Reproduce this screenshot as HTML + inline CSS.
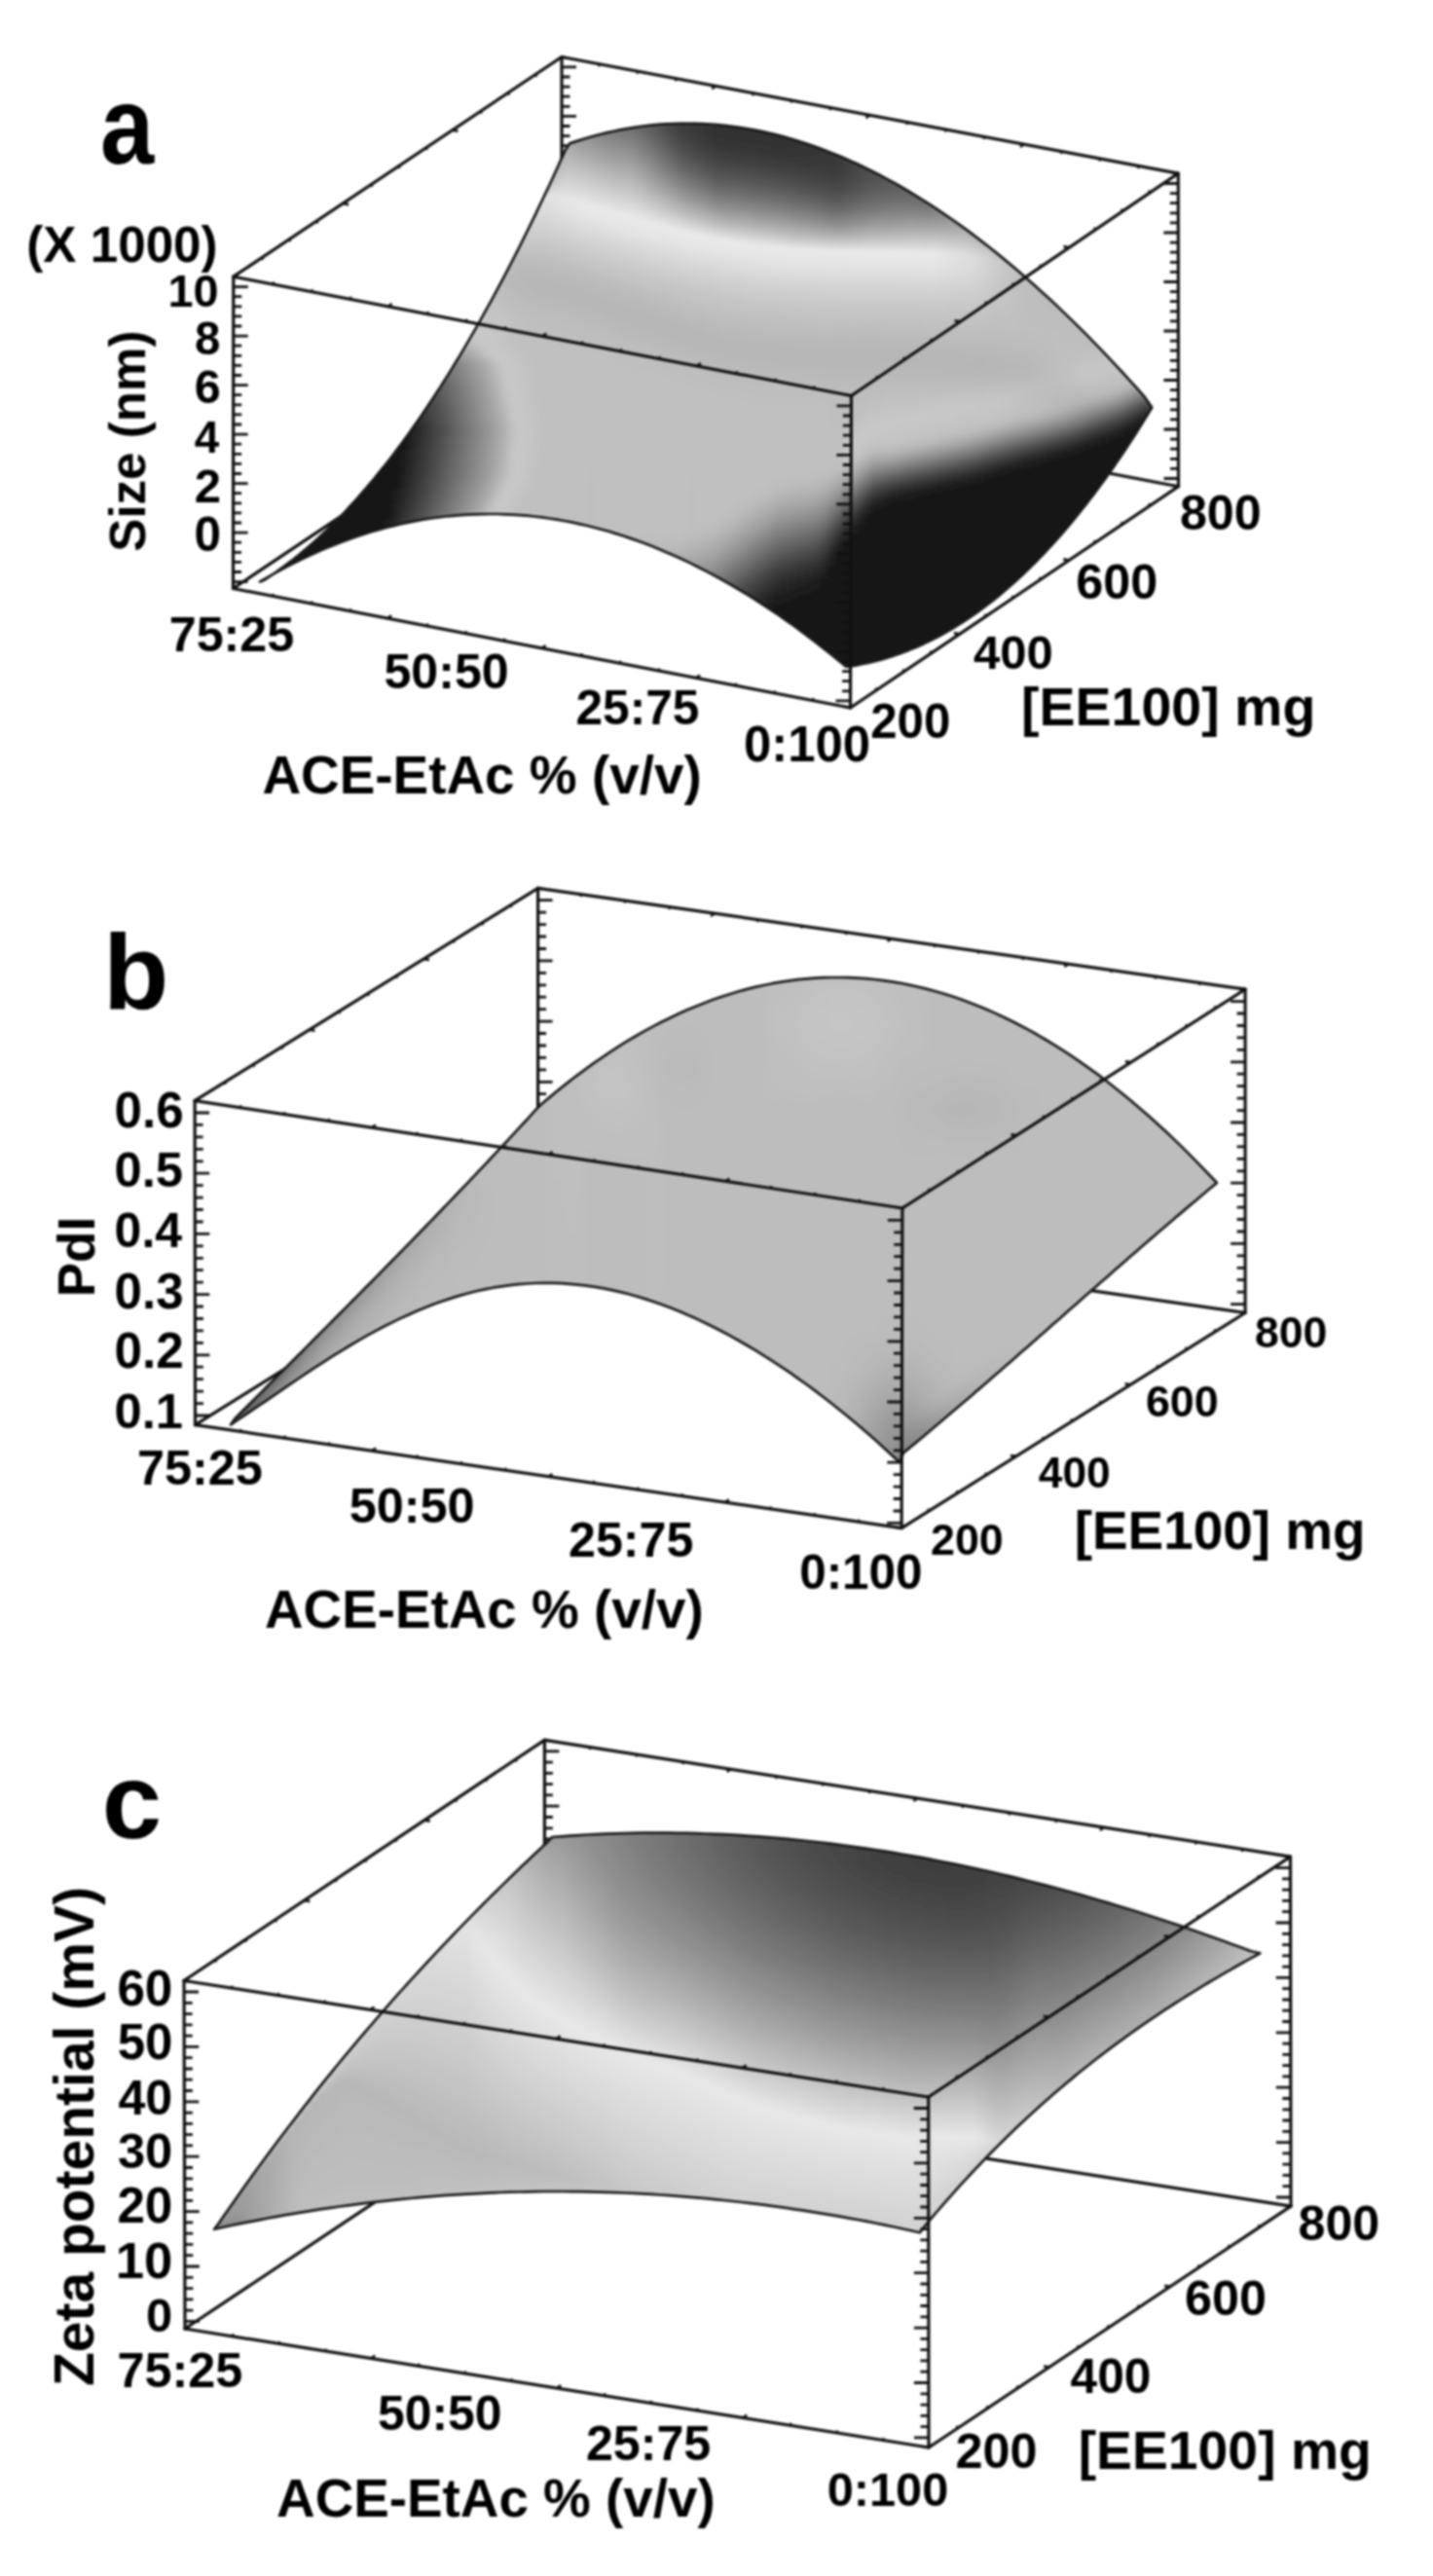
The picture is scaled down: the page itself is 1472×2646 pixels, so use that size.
<!DOCTYPE html>
<html><head><meta charset="utf-8"><style>
html,body{margin:0;padding:0;background:#fff;}
svg{display:block;filter:blur(1px);}
text{font-family:"Liberation Sans",sans-serif;fill:#000;}
</style></head><body>
<svg width="1472" height="2646" viewBox="0 0 1472 2646">
<rect width="1472" height="2646" fill="#fff"/>
<defs><filter id="hblur" x="-5%" y="-5%" width="110%" height="110%"><feGaussianBlur stdDeviation="3 1"/></filter></defs>
<line x1="577.0" y1="58.5" x2="577.0" y2="378.5" stroke="#111" stroke-width="3.2" stroke-linecap="round"/>
<line x1="577.0" y1="378.5" x2="239.5" y2="604.5" stroke="#111" stroke-width="3.2" stroke-linecap="round"/>
<line x1="577.0" y1="378.5" x2="1210.5" y2="499.7" stroke="#111" stroke-width="3.2" stroke-linecap="round"/>
<path d="M577.0 68.9h15.0M577.0 79.0h8.5M577.0 89.1h8.5M577.0 99.2h8.5M577.0 109.3h8.5M577.0 119.4h15.0M577.0 129.5h8.5M577.0 139.6h8.5M577.0 149.7h8.5M577.0 159.8h8.5M577.0 169.9h15.0M577.0 180.0h8.5M577.0 190.1h8.5M577.0 200.2h8.5M577.0 210.3h8.5M577.0 220.4h15.0M577.0 230.5h8.5M577.0 240.6h8.5M577.0 250.7h8.5M577.0 260.8h8.5M577.0 270.9h15.0M577.0 281.0h8.5M577.0 291.1h8.5M577.0 301.2h8.5M577.0 311.3h8.5M577.0 321.4h15.0M577.0 331.5h8.5M577.0 341.6h8.5M577.0 351.7h8.5M577.0 361.8h8.5M577.0 371.9h15.0" stroke="#111" stroke-width="2.8" fill="none"/>
<clipPath id="clipa"><path d="M267.0 597.5 L274.6 593.1 L282.2 588.8 L289.9 584.6 L297.5 580.6 L305.1 576.7 L312.7 573.0 L320.3 569.5 L328.0 566.0 L335.6 562.8 L343.2 559.7 L350.8 556.7 L358.4 553.9 L366.1 551.2 L373.7 548.7 L381.3 546.3 L388.9 544.1 L396.5 542.0 L404.2 540.1 L411.8 538.3 L419.4 536.6 L427.0 535.1 L434.6 533.7 L442.3 532.5 L449.9 531.5 L457.5 530.5 L465.1 529.8 L472.7 529.1 L480.4 528.6 L488.0 528.3 L495.6 528.1 L503.2 528.0 L510.8 528.0 L518.5 528.3 L526.1 528.6 L533.7 529.1 L541.3 529.7 L548.9 530.5 L556.6 531.4 L564.2 532.5 L571.8 533.7 L579.4 535.0 L587.1 536.4 L594.7 538.1 L602.3 539.8 L609.9 541.7 L617.5 543.7 L625.2 545.8 L632.8 548.1 L640.4 550.5 L648.0 553.1 L655.6 555.8 L663.3 558.6 L670.9 561.6 L678.5 564.7 L686.1 567.9 L693.7 571.3 L701.4 574.8 L709.0 578.4 L716.6 582.2 L724.2 586.1 L731.8 590.1 L739.5 594.3 L747.1 598.6 L754.7 603.0 L762.3 607.5 L769.9 612.2 L777.6 617.0 L785.2 622.0 L792.8 627.0 L800.4 632.2 L808.0 637.6 L815.7 643.0 L823.3 648.6 L830.9 654.3 L838.5 660.2 L846.1 666.1 L853.8 672.2 L861.4 678.5 L869.0 684.8 L873.0 684.4 L877.0 683.8 L880.9 683.1 L884.9 682.3 L888.9 681.5 L892.9 680.6 L896.8 679.7 L900.8 678.6 L904.8 677.6 L908.8 676.4 L912.8 675.2 L916.7 674.0 L920.7 672.6 L924.7 671.2 L928.7 669.8 L932.7 668.2 L936.6 666.6 L940.6 664.9 L944.6 663.2 L948.6 661.4 L952.5 659.5 L956.5 657.6 L960.5 655.5 L964.5 653.5 L968.5 651.3 L972.4 649.1 L976.4 646.8 L980.4 644.4 L984.4 641.9 L988.4 639.4 L992.3 636.8 L996.3 634.2 L1000.3 631.4 L1004.3 628.6 L1008.2 625.7 L1012.2 622.7 L1016.2 619.7 L1020.2 616.6 L1024.2 613.4 L1028.1 610.1 L1032.1 606.8 L1036.1 603.3 L1040.1 599.8 L1044.1 596.3 L1048.0 592.6 L1052.0 588.9 L1056.0 585.0 L1060.0 581.1 L1063.9 577.2 L1067.9 573.1 L1071.9 569.0 L1075.9 564.7 L1079.9 560.4 L1083.8 556.1 L1087.8 551.6 L1091.8 547.0 L1095.8 542.4 L1099.8 537.7 L1103.7 532.9 L1107.7 528.0 L1111.7 523.0 L1115.7 517.9 L1119.6 512.8 L1123.6 507.6 L1127.6 502.3 L1131.6 496.8 L1135.6 491.4 L1139.5 485.8 L1143.5 480.1 L1147.5 474.3 L1151.5 468.5 L1155.5 462.6 L1159.4 456.5 L1163.4 450.4 L1167.4 444.2 L1171.4 437.9 L1175.3 431.5 L1179.3 425.0 L1183.3 418.5 L1175.7 407.7 L1168.2 399.2 L1160.6 390.8 L1153.0 382.5 L1145.4 374.4 L1137.9 366.3 L1130.3 358.4 L1122.7 350.6 L1115.2 342.9 L1107.6 335.4 L1100.0 327.9 L1092.4 320.6 L1084.9 313.4 L1077.3 306.3 L1069.7 299.4 L1062.1 292.6 L1054.6 285.9 L1047.0 279.3 L1039.4 272.9 L1031.9 266.6 L1024.3 260.4 L1016.7 254.3 L1009.1 248.4 L1001.6 242.6 L994.0 236.9 L986.4 231.4 L978.9 226.0 L971.3 220.8 L963.7 215.6 L956.1 210.6 L948.6 205.8 L941.0 201.1 L933.4 196.5 L925.8 192.0 L918.3 187.7 L910.7 183.6 L903.1 179.5 L895.6 175.7 L888.0 171.9 L880.4 168.3 L872.8 164.9 L865.3 161.6 L857.7 158.4 L850.1 155.4 L842.6 152.5 L835.0 149.8 L827.4 147.2 L819.8 144.8 L812.3 142.5 L804.7 140.4 L797.1 138.4 L789.5 136.6 L782.0 134.9 L774.4 133.4 L766.8 132.0 L759.3 130.8 L751.7 129.8 L744.1 128.9 L736.5 128.1 L729.0 127.5 L721.4 127.1 L713.8 126.9 L706.3 126.8 L698.7 126.8 L691.1 127.0 L683.5 127.4 L676.0 127.9 L668.4 128.6 L660.8 129.5 L653.2 130.6 L645.7 131.8 L638.1 133.1 L630.5 134.7 L623.0 136.4 L615.4 138.2 L607.8 140.3 L600.2 142.5 L592.7 144.9 L585.1 147.4 L581.1 153.4 L577.0 162.4 L573.0 171.2 L569.0 180.0 L565.0 188.7 L560.9 197.3 L556.9 205.8 L552.9 214.2 L548.9 222.6 L544.8 230.8 L540.8 239.0 L536.8 247.1 L532.8 255.1 L528.7 263.1 L524.7 270.9 L520.7 278.6 L516.6 286.3 L512.6 293.9 L508.6 301.4 L504.6 308.8 L500.5 316.2 L496.5 323.4 L492.5 330.6 L488.5 337.6 L484.4 344.6 L480.4 351.6 L476.4 358.4 L472.4 365.1 L468.3 371.8 L464.3 378.4 L460.3 384.9 L456.2 391.3 L452.2 397.6 L448.2 403.8 L444.2 410.0 L440.1 416.1 L436.1 422.1 L432.1 428.0 L428.1 433.8 L424.0 439.5 L420.0 445.2 L416.0 450.8 L412.0 456.2 L407.9 461.6 L403.9 467.0 L399.9 472.2 L395.9 477.4 L391.8 482.4 L387.8 487.4 L383.8 492.3 L379.7 497.1 L375.7 501.9 L371.7 506.5 L367.7 511.1 L363.6 515.6 L359.6 520.0 L355.6 524.3 L351.6 528.6 L347.5 532.7 L343.5 536.8 L339.5 540.8 L335.5 544.7 L331.4 548.5 L327.4 552.3 L323.4 555.9 L319.3 559.5 L315.3 563.0 L311.3 566.4 L307.3 569.7 L303.2 573.0 L299.2 576.2 L295.2 579.2 L291.2 582.2 L287.1 585.1 L283.1 588.0 L279.1 590.7 L275.1 593.4 L271.0 596.0 Z"/></clipPath>
<path d="M267.0 597.5 L274.6 593.1 L282.2 588.8 L289.9 584.6 L297.5 580.6 L305.1 576.7 L312.7 573.0 L320.3 569.5 L328.0 566.0 L335.6 562.8 L343.2 559.7 L350.8 556.7 L358.4 553.9 L366.1 551.2 L373.7 548.7 L381.3 546.3 L388.9 544.1 L396.5 542.0 L404.2 540.1 L411.8 538.3 L419.4 536.6 L427.0 535.1 L434.6 533.7 L442.3 532.5 L449.9 531.5 L457.5 530.5 L465.1 529.8 L472.7 529.1 L480.4 528.6 L488.0 528.3 L495.6 528.1 L503.2 528.0 L510.8 528.0 L518.5 528.3 L526.1 528.6 L533.7 529.1 L541.3 529.7 L548.9 530.5 L556.6 531.4 L564.2 532.5 L571.8 533.7 L579.4 535.0 L587.1 536.4 L594.7 538.1 L602.3 539.8 L609.9 541.7 L617.5 543.7 L625.2 545.8 L632.8 548.1 L640.4 550.5 L648.0 553.1 L655.6 555.8 L663.3 558.6 L670.9 561.6 L678.5 564.7 L686.1 567.9 L693.7 571.3 L701.4 574.8 L709.0 578.4 L716.6 582.2 L724.2 586.1 L731.8 590.1 L739.5 594.3 L747.1 598.6 L754.7 603.0 L762.3 607.5 L769.9 612.2 L777.6 617.0 L785.2 622.0 L792.8 627.0 L800.4 632.2 L808.0 637.6 L815.7 643.0 L823.3 648.6 L830.9 654.3 L838.5 660.2 L846.1 666.1 L853.8 672.2 L861.4 678.5 L869.0 684.8 L873.0 684.4 L877.0 683.8 L880.9 683.1 L884.9 682.3 L888.9 681.5 L892.9 680.6 L896.8 679.7 L900.8 678.6 L904.8 677.6 L908.8 676.4 L912.8 675.2 L916.7 674.0 L920.7 672.6 L924.7 671.2 L928.7 669.8 L932.7 668.2 L936.6 666.6 L940.6 664.9 L944.6 663.2 L948.6 661.4 L952.5 659.5 L956.5 657.6 L960.5 655.5 L964.5 653.5 L968.5 651.3 L972.4 649.1 L976.4 646.8 L980.4 644.4 L984.4 641.9 L988.4 639.4 L992.3 636.8 L996.3 634.2 L1000.3 631.4 L1004.3 628.6 L1008.2 625.7 L1012.2 622.7 L1016.2 619.7 L1020.2 616.6 L1024.2 613.4 L1028.1 610.1 L1032.1 606.8 L1036.1 603.3 L1040.1 599.8 L1044.1 596.3 L1048.0 592.6 L1052.0 588.9 L1056.0 585.0 L1060.0 581.1 L1063.9 577.2 L1067.9 573.1 L1071.9 569.0 L1075.9 564.7 L1079.9 560.4 L1083.8 556.1 L1087.8 551.6 L1091.8 547.0 L1095.8 542.4 L1099.8 537.7 L1103.7 532.9 L1107.7 528.0 L1111.7 523.0 L1115.7 517.9 L1119.6 512.8 L1123.6 507.6 L1127.6 502.3 L1131.6 496.8 L1135.6 491.4 L1139.5 485.8 L1143.5 480.1 L1147.5 474.3 L1151.5 468.5 L1155.5 462.6 L1159.4 456.5 L1163.4 450.4 L1167.4 444.2 L1171.4 437.9 L1175.3 431.5 L1179.3 425.0 L1183.3 418.5 L1175.7 407.7 L1168.2 399.2 L1160.6 390.8 L1153.0 382.5 L1145.4 374.4 L1137.9 366.3 L1130.3 358.4 L1122.7 350.6 L1115.2 342.9 L1107.6 335.4 L1100.0 327.9 L1092.4 320.6 L1084.9 313.4 L1077.3 306.3 L1069.7 299.4 L1062.1 292.6 L1054.6 285.9 L1047.0 279.3 L1039.4 272.9 L1031.9 266.6 L1024.3 260.4 L1016.7 254.3 L1009.1 248.4 L1001.6 242.6 L994.0 236.9 L986.4 231.4 L978.9 226.0 L971.3 220.8 L963.7 215.6 L956.1 210.6 L948.6 205.8 L941.0 201.1 L933.4 196.5 L925.8 192.0 L918.3 187.7 L910.7 183.6 L903.1 179.5 L895.6 175.7 L888.0 171.9 L880.4 168.3 L872.8 164.9 L865.3 161.6 L857.7 158.4 L850.1 155.4 L842.6 152.5 L835.0 149.8 L827.4 147.2 L819.8 144.8 L812.3 142.5 L804.7 140.4 L797.1 138.4 L789.5 136.6 L782.0 134.9 L774.4 133.4 L766.8 132.0 L759.3 130.8 L751.7 129.8 L744.1 128.9 L736.5 128.1 L729.0 127.5 L721.4 127.1 L713.8 126.9 L706.3 126.8 L698.7 126.8 L691.1 127.0 L683.5 127.4 L676.0 127.9 L668.4 128.6 L660.8 129.5 L653.2 130.6 L645.7 131.8 L638.1 133.1 L630.5 134.7 L623.0 136.4 L615.4 138.2 L607.8 140.3 L600.2 142.5 L592.7 144.9 L585.1 147.4 L581.1 153.4 L577.0 162.4 L573.0 171.2 L569.0 180.0 L565.0 188.7 L560.9 197.3 L556.9 205.8 L552.9 214.2 L548.9 222.6 L544.8 230.8 L540.8 239.0 L536.8 247.1 L532.8 255.1 L528.7 263.1 L524.7 270.9 L520.7 278.6 L516.6 286.3 L512.6 293.9 L508.6 301.4 L504.6 308.8 L500.5 316.2 L496.5 323.4 L492.5 330.6 L488.5 337.6 L484.4 344.6 L480.4 351.6 L476.4 358.4 L472.4 365.1 L468.3 371.8 L464.3 378.4 L460.3 384.9 L456.2 391.3 L452.2 397.6 L448.2 403.8 L444.2 410.0 L440.1 416.1 L436.1 422.1 L432.1 428.0 L428.1 433.8 L424.0 439.5 L420.0 445.2 L416.0 450.8 L412.0 456.2 L407.9 461.6 L403.9 467.0 L399.9 472.2 L395.9 477.4 L391.8 482.4 L387.8 487.4 L383.8 492.3 L379.7 497.1 L375.7 501.9 L371.7 506.5 L367.7 511.1 L363.6 515.6 L359.6 520.0 L355.6 524.3 L351.6 528.6 L347.5 532.7 L343.5 536.8 L339.5 540.8 L335.5 544.7 L331.4 548.5 L327.4 552.3 L323.4 555.9 L319.3 559.5 L315.3 563.0 L311.3 566.4 L307.3 569.7 L303.2 573.0 L299.2 576.2 L295.2 579.2 L291.2 582.2 L287.1 585.1 L283.1 588.0 L279.1 590.7 L275.1 593.4 L271.0 596.0 Z" fill="#bcbcbc"/>
<g clip-path="url(#clipa)"><g filter="url(#hblur)">
<defs><linearGradient id="ga0" gradientUnits="userSpaceOnUse" x1="0" y1="585" x2="0" y2="607"><stop offset="0.000" stop-color="#181818"/><stop offset="1.000" stop-color="#181818"/></linearGradient><linearGradient id="ga1" gradientUnits="userSpaceOnUse" x1="0" y1="580" x2="0" y2="607"><stop offset="0.000" stop-color="#181818"/><stop offset="1.000" stop-color="#181818"/></linearGradient><linearGradient id="ga2" gradientUnits="userSpaceOnUse" x1="0" y1="574" x2="0" y2="607"><stop offset="0.000" stop-color="#181818"/><stop offset="1.000" stop-color="#181818"/></linearGradient><linearGradient id="ga3" gradientUnits="userSpaceOnUse" x1="0" y1="568" x2="0" y2="601"><stop offset="0.000" stop-color="#181818"/><stop offset="1.000" stop-color="#181818"/></linearGradient><linearGradient id="ga4" gradientUnits="userSpaceOnUse" x1="0" y1="562" x2="0" y2="597"><stop offset="0.000" stop-color="#181818"/><stop offset="1.000" stop-color="#181818"/></linearGradient><linearGradient id="ga5" gradientUnits="userSpaceOnUse" x1="0" y1="555" x2="0" y2="592"><stop offset="0.000" stop-color="#181818"/><stop offset="1.000" stop-color="#181818"/></linearGradient><linearGradient id="ga6" gradientUnits="userSpaceOnUse" x1="0" y1="548" x2="0" y2="588"><stop offset="0.000" stop-color="#181818"/><stop offset="1.000" stop-color="#181818"/></linearGradient><linearGradient id="ga7" gradientUnits="userSpaceOnUse" x1="0" y1="541" x2="0" y2="584"><stop offset="0.000" stop-color="#181818"/><stop offset="1.000" stop-color="#181818"/></linearGradient><linearGradient id="ga8" gradientUnits="userSpaceOnUse" x1="0" y1="533" x2="0" y2="580"><stop offset="0.000" stop-color="#181818"/><stop offset="1.000" stop-color="#181818"/></linearGradient><linearGradient id="ga9" gradientUnits="userSpaceOnUse" x1="0" y1="525" x2="0" y2="576"><stop offset="0.000" stop-color="#181818"/><stop offset="1.000" stop-color="#181818"/></linearGradient><linearGradient id="ga10" gradientUnits="userSpaceOnUse" x1="0" y1="517" x2="0" y2="573"><stop offset="0.000" stop-color="#181818"/><stop offset="1.000" stop-color="#181818"/></linearGradient><linearGradient id="ga11" gradientUnits="userSpaceOnUse" x1="0" y1="508" x2="0" y2="570"><stop offset="0.000" stop-color="#181818"/><stop offset="1.000" stop-color="#181818"/></linearGradient><linearGradient id="ga12" gradientUnits="userSpaceOnUse" x1="0" y1="499" x2="0" y2="566"><stop offset="0.000" stop-color="#181818"/><stop offset="1.000" stop-color="#181818"/></linearGradient><linearGradient id="ga13" gradientUnits="userSpaceOnUse" x1="0" y1="490" x2="0" y2="563"><stop offset="0.000" stop-color="#181818"/><stop offset="1.000" stop-color="#181818"/></linearGradient><linearGradient id="ga14" gradientUnits="userSpaceOnUse" x1="0" y1="480" x2="0" y2="561"><stop offset="0.000" stop-color="#181818"/><stop offset="1.000" stop-color="#181818"/></linearGradient><linearGradient id="ga15" gradientUnits="userSpaceOnUse" x1="0" y1="470" x2="0" y2="558"><stop offset="0.000" stop-color="#181818"/><stop offset="1.000" stop-color="#181818"/></linearGradient><linearGradient id="ga16" gradientUnits="userSpaceOnUse" x1="0" y1="460" x2="0" y2="555"><stop offset="0.000" stop-color="#181818"/><stop offset="1.000" stop-color="#181818"/></linearGradient><linearGradient id="ga17" gradientUnits="userSpaceOnUse" x1="0" y1="450" x2="0" y2="553"><stop offset="0.000" stop-color="#181818"/><stop offset="0.777" stop-color="#181818"/><stop offset="1.000" stop-color="#242424"/></linearGradient><linearGradient id="ga18" gradientUnits="userSpaceOnUse" x1="0" y1="439" x2="0" y2="551"><stop offset="0.000" stop-color="#181818"/><stop offset="0.545" stop-color="#181818"/><stop offset="0.786" stop-color="#232323"/><stop offset="1.000" stop-color="#313131"/></linearGradient><linearGradient id="ga19" gradientUnits="userSpaceOnUse" x1="0" y1="428" x2="0" y2="549"><stop offset="0.000" stop-color="#1a1a1a"/><stop offset="0.033" stop-color="#181818"/><stop offset="0.248" stop-color="#181818"/><stop offset="0.479" stop-color="#1f1f1f"/><stop offset="0.669" stop-color="#272727"/><stop offset="0.769" stop-color="#2d2d2d"/><stop offset="1.000" stop-color="#3e3e3e"/></linearGradient><linearGradient id="ga20" gradientUnits="userSpaceOnUse" x1="0" y1="416" x2="0" y2="547"><stop offset="0.000" stop-color="#2a2a2a"/><stop offset="0.198" stop-color="#1f1f1f"/><stop offset="0.534" stop-color="#2b2b2b"/><stop offset="0.710" stop-color="#333333"/><stop offset="0.847" stop-color="#3d3d3d"/><stop offset="1.000" stop-color="#4b4b4b"/></linearGradient><linearGradient id="ga21" gradientUnits="userSpaceOnUse" x1="0" y1="404" x2="0" y2="545"><stop offset="0.000" stop-color="#3b3b3b"/><stop offset="0.270" stop-color="#2b2b2b"/><stop offset="0.582" stop-color="#373737"/><stop offset="0.745" stop-color="#404040"/><stop offset="0.872" stop-color="#4a4a4a"/><stop offset="1.000" stop-color="#575757"/></linearGradient><linearGradient id="ga22" gradientUnits="userSpaceOnUse" x1="0" y1="392" x2="0" y2="543"><stop offset="0.000" stop-color="#4f4f4f"/><stop offset="0.033" stop-color="#4a4a4a"/><stop offset="0.331" stop-color="#373737"/><stop offset="0.623" stop-color="#424242"/><stop offset="0.775" stop-color="#4c4c4c"/><stop offset="0.894" stop-color="#565656"/><stop offset="1.000" stop-color="#636363"/></linearGradient><linearGradient id="ga23" gradientUnits="userSpaceOnUse" x1="0" y1="379" x2="0" y2="542"><stop offset="0.000" stop-color="#656565"/><stop offset="0.110" stop-color="#555555"/><stop offset="0.387" stop-color="#434343"/><stop offset="0.656" stop-color="#4e4e4e"/><stop offset="0.755" stop-color="#555555"/><stop offset="0.908" stop-color="#636363"/><stop offset="1.000" stop-color="#707070"/></linearGradient><linearGradient id="ga24" gradientUnits="userSpaceOnUse" x1="0" y1="367" x2="0" y2="541"><stop offset="0.000" stop-color="#848484"/><stop offset="0.046" stop-color="#727272"/><stop offset="0.172" stop-color="#616161"/><stop offset="0.431" stop-color="#4f4f4f"/><stop offset="0.684" stop-color="#5a5a5a"/><stop offset="0.741" stop-color="#5e5e5e"/><stop offset="0.816" stop-color="#646464"/><stop offset="0.920" stop-color="#707070"/><stop offset="1.000" stop-color="#7d7d7d"/></linearGradient><linearGradient id="ga25" gradientUnits="userSpaceOnUse" x1="0" y1="353" x2="0" y2="540"><stop offset="0.000" stop-color="#a4a4a4"/><stop offset="0.064" stop-color="#919191"/><stop offset="0.118" stop-color="#7d7d7d"/><stop offset="0.235" stop-color="#6d6d6d"/><stop offset="0.476" stop-color="#5b5b5b"/><stop offset="0.727" stop-color="#676767"/><stop offset="0.834" stop-color="#717171"/><stop offset="0.882" stop-color="#777777"/><stop offset="0.930" stop-color="#7d7d7d"/><stop offset="1.000" stop-color="#898989"/></linearGradient><linearGradient id="ga26" gradientUnits="userSpaceOnUse" x1="0" y1="340" x2="0" y2="539"><stop offset="0.000" stop-color="#c0c0c0"/><stop offset="0.035" stop-color="#b7b7b7"/><stop offset="0.111" stop-color="#9f9f9f"/><stop offset="0.176" stop-color="#878787"/><stop offset="0.286" stop-color="#787878"/><stop offset="0.513" stop-color="#686868"/><stop offset="0.734" stop-color="#717171"/><stop offset="0.874" stop-color="#808080"/><stop offset="0.940" stop-color="#8a8a8a"/><stop offset="1.000" stop-color="#969696"/></linearGradient><linearGradient id="ga27" gradientUnits="userSpaceOnUse" x1="0" y1="326" x2="0" y2="538"><stop offset="0.000" stop-color="#c7c7c7"/><stop offset="0.066" stop-color="#c7c7c7"/><stop offset="0.090" stop-color="#c2c2c2"/><stop offset="0.113" stop-color="#bcbcbc"/><stop offset="0.175" stop-color="#a7a7a7"/><stop offset="0.231" stop-color="#919191"/><stop offset="0.335" stop-color="#848484"/><stop offset="0.547" stop-color="#747474"/><stop offset="0.755" stop-color="#7d7d7d"/><stop offset="0.882" stop-color="#8c8c8c"/><stop offset="0.948" stop-color="#969696"/><stop offset="1.000" stop-color="#a3a3a3"/></linearGradient><linearGradient id="ga28" gradientUnits="userSpaceOnUse" x1="0" y1="310" x2="0" y2="537"><stop offset="0.000" stop-color="#c4c4c4"/><stop offset="0.097" stop-color="#c8c8c8"/><stop offset="0.172" stop-color="#c7c7c7"/><stop offset="0.207" stop-color="#bbbbbb"/><stop offset="0.286" stop-color="#9c9c9c"/><stop offset="0.383" stop-color="#909090"/><stop offset="0.581" stop-color="#808080"/><stop offset="0.775" stop-color="#888888"/><stop offset="0.877" stop-color="#959595"/><stop offset="0.912" stop-color="#9b9b9b"/><stop offset="0.956" stop-color="#a3a3a3"/><stop offset="1.000" stop-color="#b0b0b0"/></linearGradient><linearGradient id="ga29" gradientUnits="userSpaceOnUse" x1="0" y1="296" x2="0" y2="537"><stop offset="0.000" stop-color="#bfbfbf"/><stop offset="0.124" stop-color="#c7c7c7"/><stop offset="0.207" stop-color="#c8c8c8"/><stop offset="0.249" stop-color="#c7c7c7"/><stop offset="0.274" stop-color="#bebebe"/><stop offset="0.328" stop-color="#a7a7a7"/><stop offset="0.419" stop-color="#9c9c9c"/><stop offset="0.606" stop-color="#8c8c8c"/><stop offset="0.788" stop-color="#949494"/><stop offset="0.817" stop-color="#989898"/><stop offset="0.884" stop-color="#a2a2a2"/><stop offset="0.934" stop-color="#acacac"/><stop offset="0.959" stop-color="#b2b2b2"/><stop offset="1.000" stop-color="#c2c2c2"/></linearGradient><linearGradient id="ga30" gradientUnits="userSpaceOnUse" x1="0" y1="281" x2="0" y2="537"><stop offset="0.000" stop-color="#bdbdbd"/><stop offset="0.051" stop-color="#bebebe"/><stop offset="0.176" stop-color="#c5c5c5"/><stop offset="0.312" stop-color="#c8c8c8"/><stop offset="0.324" stop-color="#c7c7c7"/><stop offset="0.367" stop-color="#b3b3b3"/><stop offset="0.453" stop-color="#a8a8a8"/><stop offset="0.629" stop-color="#989898"/><stop offset="0.801" stop-color="#a0a0a0"/><stop offset="0.891" stop-color="#afafaf"/><stop offset="0.938" stop-color="#bcbcbc"/><stop offset="0.973" stop-color="#c7c7c7"/><stop offset="1.000" stop-color="#c8c8c8"/></linearGradient><linearGradient id="ga31" gradientUnits="userSpaceOnUse" x1="0" y1="266" x2="0" y2="537"><stop offset="0.000" stop-color="#c0c0c0"/><stop offset="0.044" stop-color="#bcbcbc"/><stop offset="0.085" stop-color="#bcbcbc"/><stop offset="0.214" stop-color="#c4c4c4"/><stop offset="0.373" stop-color="#c8c8c8"/><stop offset="0.387" stop-color="#c7c7c7"/><stop offset="0.402" stop-color="#c0c0c0"/><stop offset="0.491" stop-color="#b5b5b5"/><stop offset="0.649" stop-color="#a4a4a4"/><stop offset="0.812" stop-color="#adadad"/><stop offset="0.878" stop-color="#bbbbbb"/><stop offset="0.926" stop-color="#c7c7c7"/><stop offset="0.967" stop-color="#c8c8c8"/><stop offset="1.000" stop-color="#c5c5c5"/></linearGradient><linearGradient id="ga32" gradientUnits="userSpaceOnUse" x1="0" y1="250" x2="0" y2="537"><stop offset="0.000" stop-color="#c7c7c7"/><stop offset="0.077" stop-color="#bdbdbd"/><stop offset="0.129" stop-color="#bababa"/><stop offset="0.268" stop-color="#c3c3c3"/><stop offset="0.355" stop-color="#c3c3c3"/><stop offset="0.418" stop-color="#c8c8c8"/><stop offset="0.495" stop-color="#c7c7c7"/><stop offset="0.669" stop-color="#b1b1b1"/><stop offset="0.822" stop-color="#bbbbbb"/><stop offset="0.868" stop-color="#c6c6c6"/><stop offset="0.878" stop-color="#c7c7c7"/><stop offset="0.930" stop-color="#c8c8c8"/><stop offset="1.000" stop-color="#c1c1c1"/></linearGradient><linearGradient id="ga33" gradientUnits="userSpaceOnUse" x1="0" y1="234" x2="0" y2="538"><stop offset="0.000" stop-color="#d0d0d0"/><stop offset="0.109" stop-color="#bebebe"/><stop offset="0.171" stop-color="#b9b9b9"/><stop offset="0.207" stop-color="#bababa"/><stop offset="0.306" stop-color="#c1c1c1"/><stop offset="0.388" stop-color="#c1c1c1"/><stop offset="0.464" stop-color="#c7c7c7"/><stop offset="0.526" stop-color="#c8c8c8"/><stop offset="0.638" stop-color="#c7c7c7"/><stop offset="0.684" stop-color="#c1c1c1"/><stop offset="0.770" stop-color="#c7c7c7"/><stop offset="0.868" stop-color="#c8c8c8"/><stop offset="1.000" stop-color="#c0c0c0"/></linearGradient><linearGradient id="ga34" gradientUnits="userSpaceOnUse" x1="0" y1="218" x2="0" y2="539"><stop offset="0.000" stop-color="#dadada"/><stop offset="0.134" stop-color="#c0c0c0"/><stop offset="0.178" stop-color="#bababa"/><stop offset="0.212" stop-color="#b8b8b8"/><stop offset="0.249" stop-color="#b9b9b9"/><stop offset="0.349" stop-color="#c0c0c0"/><stop offset="0.436" stop-color="#c1c1c1"/><stop offset="0.489" stop-color="#c4c4c4"/><stop offset="0.667" stop-color="#c8c8c8"/><stop offset="0.835" stop-color="#c8c8c8"/><stop offset="0.928" stop-color="#c1c1c1"/><stop offset="1.000" stop-color="#c0c0c0"/></linearGradient><linearGradient id="ga35" gradientUnits="userSpaceOnUse" x1="0" y1="202" x2="0" y2="540"><stop offset="0.000" stop-color="#e1e1e1"/><stop offset="0.038" stop-color="#dcdcdc"/><stop offset="0.180" stop-color="#bfbfbf"/><stop offset="0.219" stop-color="#bababa"/><stop offset="0.251" stop-color="#b7b7b7"/><stop offset="0.287" stop-color="#b8b8b8"/><stop offset="0.379" stop-color="#bfbfbf"/><stop offset="0.577" stop-color="#c2c2c2"/><stop offset="0.710" stop-color="#c6c6c6"/><stop offset="0.840" stop-color="#c4c4c4"/><stop offset="0.911" stop-color="#c0c0c0"/><stop offset="1.000" stop-color="#c0c0c0"/></linearGradient><linearGradient id="ga36" gradientUnits="userSpaceOnUse" x1="0" y1="185" x2="0" y2="541"><stop offset="0.000" stop-color="#c9c9c9"/><stop offset="0.028" stop-color="#c9c9c9"/><stop offset="0.031" stop-color="#e2e2e2"/><stop offset="0.076" stop-color="#dedede"/><stop offset="0.213" stop-color="#c1c1c1"/><stop offset="0.256" stop-color="#bababa"/><stop offset="0.289" stop-color="#b7b7b7"/><stop offset="0.320" stop-color="#b7b7b7"/><stop offset="0.399" stop-color="#bebebe"/><stop offset="0.444" stop-color="#c0c0c0"/><stop offset="0.722" stop-color="#c2c2c2"/><stop offset="1.000" stop-color="#c0c0c0"/></linearGradient><linearGradient id="ga37" gradientUnits="userSpaceOnUse" x1="0" y1="168" x2="0" y2="542"><stop offset="0.000" stop-color="#c8c8c8"/><stop offset="0.078" stop-color="#c8c8c8"/><stop offset="0.080" stop-color="#e1e1e1"/><stop offset="0.123" stop-color="#dddddd"/><stop offset="0.254" stop-color="#c0c0c0"/><stop offset="0.294" stop-color="#bababa"/><stop offset="0.326" stop-color="#b7b7b7"/><stop offset="0.356" stop-color="#b7b7b7"/><stop offset="0.430" stop-color="#bebebe"/><stop offset="0.481" stop-color="#c0c0c0"/><stop offset="1.000" stop-color="#c0c0c0"/></linearGradient><linearGradient id="ga38" gradientUnits="userSpaceOnUse" x1="0" y1="150" x2="0" y2="543"><stop offset="0.000" stop-color="#bfbfbf"/><stop offset="0.087" stop-color="#bfbfbf"/><stop offset="0.125" stop-color="#e1e1e1"/><stop offset="0.127" stop-color="#e2e2e2"/><stop offset="0.165" stop-color="#dedede"/><stop offset="0.293" stop-color="#c0c0c0"/><stop offset="0.331" stop-color="#bababa"/><stop offset="0.361" stop-color="#b7b7b7"/><stop offset="0.389" stop-color="#b7b7b7"/><stop offset="0.458" stop-color="#bebebe"/><stop offset="0.511" stop-color="#c0c0c0"/><stop offset="1.000" stop-color="#c0c0c0"/></linearGradient><linearGradient id="ga39" gradientUnits="userSpaceOnUse" x1="0" y1="138" x2="0" y2="545"><stop offset="0.000" stop-color="#b4b4b4"/><stop offset="0.071" stop-color="#b5b5b5"/><stop offset="0.157" stop-color="#e4e4e4"/><stop offset="0.177" stop-color="#e2e2e2"/><stop offset="0.199" stop-color="#dfdfdf"/><stop offset="0.280" stop-color="#c9c9c9"/><stop offset="0.329" stop-color="#bebebe"/><stop offset="0.359" stop-color="#b9b9b9"/><stop offset="0.383" stop-color="#b7b7b7"/><stop offset="0.410" stop-color="#b7b7b7"/><stop offset="0.479" stop-color="#bebebe"/><stop offset="0.528" stop-color="#c0c0c0"/><stop offset="1.000" stop-color="#c0c0c0"/></linearGradient><linearGradient id="ga40" gradientUnits="userSpaceOnUse" x1="0" y1="136" x2="0" y2="546"><stop offset="0.000" stop-color="#aaaaaa"/><stop offset="0.032" stop-color="#aaaaaa"/><stop offset="0.166" stop-color="#e5e5e5"/><stop offset="0.185" stop-color="#e4e4e4"/><stop offset="0.207" stop-color="#e0e0e0"/><stop offset="0.288" stop-color="#c9c9c9"/><stop offset="0.337" stop-color="#bebebe"/><stop offset="0.366" stop-color="#b9b9b9"/><stop offset="0.390" stop-color="#b7b7b7"/><stop offset="0.417" stop-color="#b7b7b7"/><stop offset="0.485" stop-color="#bebebe"/><stop offset="0.534" stop-color="#c0c0c0"/><stop offset="1.000" stop-color="#c0c0c0"/></linearGradient><linearGradient id="ga41" gradientUnits="userSpaceOnUse" x1="0" y1="134" x2="0" y2="548"><stop offset="0.000" stop-color="#a1a1a1"/><stop offset="0.029" stop-color="#a1a1a1"/><stop offset="0.174" stop-color="#e6e6e6"/><stop offset="0.193" stop-color="#e5e5e5"/><stop offset="0.215" stop-color="#e1e1e1"/><stop offset="0.292" stop-color="#cbcbcb"/><stop offset="0.341" stop-color="#bfbfbf"/><stop offset="0.372" stop-color="#b9b9b9"/><stop offset="0.399" stop-color="#b7b7b7"/><stop offset="0.425" stop-color="#b7b7b7"/><stop offset="0.493" stop-color="#bebebe"/><stop offset="0.541" stop-color="#c0c0c0"/><stop offset="1.000" stop-color="#c0c0c0"/></linearGradient><linearGradient id="ga42" gradientUnits="userSpaceOnUse" x1="0" y1="131" x2="0" y2="550"><stop offset="0.000" stop-color="#979797"/><stop offset="0.029" stop-color="#979797"/><stop offset="0.184" stop-color="#e8e8e8"/><stop offset="0.203" stop-color="#e7e7e7"/><stop offset="0.224" stop-color="#e3e3e3"/><stop offset="0.301" stop-color="#cbcbcb"/><stop offset="0.348" stop-color="#bfbfbf"/><stop offset="0.379" stop-color="#b9b9b9"/><stop offset="0.406" stop-color="#b7b7b7"/><stop offset="0.432" stop-color="#b7b7b7"/><stop offset="0.501" stop-color="#bebebe"/><stop offset="0.549" stop-color="#c0c0c0"/><stop offset="1.000" stop-color="#c0c0c0"/></linearGradient><linearGradient id="ga43" gradientUnits="userSpaceOnUse" x1="0" y1="129" x2="0" y2="552"><stop offset="0.000" stop-color="#8f8f8f"/><stop offset="0.028" stop-color="#909090"/><stop offset="0.194" stop-color="#e8e8e8"/><stop offset="0.213" stop-color="#e7e7e7"/><stop offset="0.234" stop-color="#e2e2e2"/><stop offset="0.307" stop-color="#cccccc"/><stop offset="0.352" stop-color="#c0c0c0"/><stop offset="0.388" stop-color="#b9b9b9"/><stop offset="0.414" stop-color="#b7b7b7"/><stop offset="0.440" stop-color="#b7b7b7"/><stop offset="0.508" stop-color="#bebebe"/><stop offset="0.556" stop-color="#c0c0c0"/><stop offset="1.000" stop-color="#bfbfbf"/></linearGradient><linearGradient id="ga44" gradientUnits="userSpaceOnUse" x1="0" y1="127" x2="0" y2="555"><stop offset="0.000" stop-color="#878787"/><stop offset="0.028" stop-color="#888888"/><stop offset="0.201" stop-color="#e8e8e8"/><stop offset="0.220" stop-color="#e7e7e7"/><stop offset="0.241" stop-color="#e2e2e2"/><stop offset="0.313" stop-color="#cccccc"/><stop offset="0.357" stop-color="#c1c1c1"/><stop offset="0.393" stop-color="#bababa"/><stop offset="0.421" stop-color="#b7b7b7"/><stop offset="0.446" stop-color="#b7b7b7"/><stop offset="0.514" stop-color="#bebebe"/><stop offset="0.563" stop-color="#c0c0c0"/><stop offset="0.979" stop-color="#c0c0c0"/><stop offset="1.000" stop-color="#bebebe"/></linearGradient><linearGradient id="ga45" gradientUnits="userSpaceOnUse" x1="0" y1="125" x2="0" y2="557"><stop offset="0.000" stop-color="#808080"/><stop offset="0.028" stop-color="#818181"/><stop offset="0.208" stop-color="#e8e8e8"/><stop offset="0.227" stop-color="#e7e7e7"/><stop offset="0.248" stop-color="#e3e3e3"/><stop offset="0.319" stop-color="#cccccc"/><stop offset="0.363" stop-color="#c1c1c1"/><stop offset="0.398" stop-color="#bababa"/><stop offset="0.426" stop-color="#b7b7b7"/><stop offset="0.454" stop-color="#b7b7b7"/><stop offset="0.521" stop-color="#bebebe"/><stop offset="0.572" stop-color="#c0c0c0"/><stop offset="0.975" stop-color="#c0c0c0"/><stop offset="1.000" stop-color="#bebebe"/></linearGradient><linearGradient id="ga46" gradientUnits="userSpaceOnUse" x1="0" y1="124" x2="0" y2="560"><stop offset="0.000" stop-color="#7b7b7b"/><stop offset="0.025" stop-color="#7b7b7b"/><stop offset="0.216" stop-color="#e8e8e8"/><stop offset="0.234" stop-color="#e7e7e7"/><stop offset="0.255" stop-color="#e2e2e2"/><stop offset="0.323" stop-color="#cdcdcd"/><stop offset="0.367" stop-color="#c1c1c1"/><stop offset="0.404" stop-color="#bababa"/><stop offset="0.431" stop-color="#b7b7b7"/><stop offset="0.459" stop-color="#b7b7b7"/><stop offset="0.528" stop-color="#bebebe"/><stop offset="0.580" stop-color="#c0c0c0"/><stop offset="0.968" stop-color="#c0c0c0"/><stop offset="1.000" stop-color="#bcbcbc"/></linearGradient><linearGradient id="ga47" gradientUnits="userSpaceOnUse" x1="0" y1="123" x2="0" y2="562"><stop offset="0.000" stop-color="#757575"/><stop offset="0.023" stop-color="#757575"/><stop offset="0.221" stop-color="#e8e8e8"/><stop offset="0.239" stop-color="#e7e7e7"/><stop offset="0.260" stop-color="#e3e3e3"/><stop offset="0.330" stop-color="#cccccc"/><stop offset="0.371" stop-color="#c2c2c2"/><stop offset="0.410" stop-color="#bababa"/><stop offset="0.437" stop-color="#b7b7b7"/><stop offset="0.467" stop-color="#b7b7b7"/><stop offset="0.540" stop-color="#bebebe"/><stop offset="0.588" stop-color="#c0c0c0"/><stop offset="0.966" stop-color="#c0c0c0"/><stop offset="1.000" stop-color="#bbbbbb"/></linearGradient><linearGradient id="ga48" gradientUnits="userSpaceOnUse" x1="0" y1="121" x2="0" y2="565"><stop offset="0.000" stop-color="#707070"/><stop offset="0.025" stop-color="#717171"/><stop offset="0.227" stop-color="#e8e8e8"/><stop offset="0.245" stop-color="#e7e7e7"/><stop offset="0.266" stop-color="#e3e3e3"/><stop offset="0.336" stop-color="#cccccc"/><stop offset="0.376" stop-color="#c2c2c2"/><stop offset="0.414" stop-color="#bababa"/><stop offset="0.444" stop-color="#b7b7b7"/><stop offset="0.473" stop-color="#b7b7b7"/><stop offset="0.547" stop-color="#bfbfbf"/><stop offset="0.601" stop-color="#c0c0c0"/><stop offset="0.959" stop-color="#c0c0c0"/><stop offset="0.980" stop-color="#bebebe"/><stop offset="1.000" stop-color="#b9b9b9"/></linearGradient><linearGradient id="ga49" gradientUnits="userSpaceOnUse" x1="0" y1="120" x2="0" y2="568"><stop offset="0.000" stop-color="#696969"/><stop offset="0.022" stop-color="#696969"/><stop offset="0.036" stop-color="#6f6f6f"/><stop offset="0.107" stop-color="#999999"/><stop offset="0.234" stop-color="#e8e8e8"/><stop offset="0.252" stop-color="#e7e7e7"/><stop offset="0.270" stop-color="#e3e3e3"/><stop offset="0.337" stop-color="#cdcdcd"/><stop offset="0.375" stop-color="#c3c3c3"/><stop offset="0.417" stop-color="#bababa"/><stop offset="0.446" stop-color="#b7b7b7"/><stop offset="0.478" stop-color="#b7b7b7"/><stop offset="0.556" stop-color="#bfbfbf"/><stop offset="0.629" stop-color="#c0c0c0"/><stop offset="0.953" stop-color="#c0c0c0"/><stop offset="0.975" stop-color="#bebebe"/><stop offset="1.000" stop-color="#b7b7b7"/></linearGradient><linearGradient id="ga50" gradientUnits="userSpaceOnUse" x1="0" y1="120" x2="0" y2="571"><stop offset="0.000" stop-color="#616161"/><stop offset="0.022" stop-color="#616161"/><stop offset="0.040" stop-color="#696969"/><stop offset="0.067" stop-color="#787878"/><stop offset="0.140" stop-color="#a5a5a5"/><stop offset="0.237" stop-color="#e8e8e8"/><stop offset="0.255" stop-color="#e7e7e7"/><stop offset="0.275" stop-color="#e3e3e3"/><stop offset="0.339" stop-color="#cecece"/><stop offset="0.377" stop-color="#c4c4c4"/><stop offset="0.421" stop-color="#bababa"/><stop offset="0.450" stop-color="#b7b7b7"/><stop offset="0.479" stop-color="#b7b7b7"/><stop offset="0.541" stop-color="#bebebe"/><stop offset="0.583" stop-color="#c0c0c0"/><stop offset="0.945" stop-color="#c0c0c0"/><stop offset="0.971" stop-color="#bdbdbd"/><stop offset="1.000" stop-color="#b5b5b5"/></linearGradient><linearGradient id="ga51" gradientUnits="userSpaceOnUse" x1="0" y1="119" x2="0" y2="575"><stop offset="0.000" stop-color="#595959"/><stop offset="0.020" stop-color="#595959"/><stop offset="0.029" stop-color="#5b5b5b"/><stop offset="0.053" stop-color="#666666"/><stop offset="0.083" stop-color="#777777"/><stop offset="0.118" stop-color="#8d8d8d"/><stop offset="0.156" stop-color="#a6a6a6"/><stop offset="0.241" stop-color="#e8e8e8"/><stop offset="0.259" stop-color="#e7e7e7"/><stop offset="0.279" stop-color="#e3e3e3"/><stop offset="0.342" stop-color="#cecece"/><stop offset="0.379" stop-color="#c4c4c4"/><stop offset="0.425" stop-color="#bababa"/><stop offset="0.454" stop-color="#b7b7b7"/><stop offset="0.482" stop-color="#b7b7b7"/><stop offset="0.546" stop-color="#bebebe"/><stop offset="0.588" stop-color="#c0c0c0"/><stop offset="0.939" stop-color="#c0c0c0"/><stop offset="0.967" stop-color="#bcbcbc"/><stop offset="1.000" stop-color="#b1b1b1"/></linearGradient><linearGradient id="ga52" gradientUnits="userSpaceOnUse" x1="0" y1="119" x2="0" y2="579"><stop offset="0.000" stop-color="#515151"/><stop offset="0.020" stop-color="#515151"/><stop offset="0.035" stop-color="#555555"/><stop offset="0.061" stop-color="#616161"/><stop offset="0.093" stop-color="#737373"/><stop offset="0.124" stop-color="#878787"/><stop offset="0.159" stop-color="#a1a1a1"/><stop offset="0.200" stop-color="#c2c2c2"/><stop offset="0.243" stop-color="#e8e8e8"/><stop offset="0.246" stop-color="#e8e8e8"/><stop offset="0.263" stop-color="#e6e6e6"/><stop offset="0.280" stop-color="#e3e3e3"/><stop offset="0.343" stop-color="#cecece"/><stop offset="0.376" stop-color="#c5c5c5"/><stop offset="0.424" stop-color="#bbbbbb"/><stop offset="0.454" stop-color="#b7b7b7"/><stop offset="0.485" stop-color="#b7b7b7"/><stop offset="0.548" stop-color="#bebebe"/><stop offset="0.589" stop-color="#c0c0c0"/><stop offset="0.930" stop-color="#c0c0c0"/><stop offset="0.963" stop-color="#bbbbbb"/><stop offset="1.000" stop-color="#aeaeae"/></linearGradient><linearGradient id="ga53" gradientUnits="userSpaceOnUse" x1="0" y1="118" x2="0" y2="582"><stop offset="0.000" stop-color="#494949"/><stop offset="0.022" stop-color="#494949"/><stop offset="0.041" stop-color="#4e4e4e"/><stop offset="0.069" stop-color="#5a5a5a"/><stop offset="0.101" stop-color="#6d6d6d"/><stop offset="0.134" stop-color="#838383"/><stop offset="0.168" stop-color="#9e9e9e"/><stop offset="0.207" stop-color="#c0c0c0"/><stop offset="0.248" stop-color="#e7e7e7"/><stop offset="0.250" stop-color="#e8e8e8"/><stop offset="0.267" stop-color="#e7e7e7"/><stop offset="0.284" stop-color="#e3e3e3"/><stop offset="0.347" stop-color="#cecece"/><stop offset="0.379" stop-color="#c5c5c5"/><stop offset="0.429" stop-color="#bbbbbb"/><stop offset="0.459" stop-color="#b7b7b7"/><stop offset="0.489" stop-color="#b7b7b7"/><stop offset="0.552" stop-color="#bebebe"/><stop offset="0.593" stop-color="#c0c0c0"/><stop offset="0.925" stop-color="#c0c0c0"/><stop offset="0.942" stop-color="#bebebe"/><stop offset="0.961" stop-color="#bababa"/><stop offset="0.981" stop-color="#b3b3b3"/><stop offset="1.000" stop-color="#aaaaaa"/></linearGradient><linearGradient id="ga54" gradientUnits="userSpaceOnUse" x1="0" y1="118" x2="0" y2="586"><stop offset="0.000" stop-color="#414141"/><stop offset="0.024" stop-color="#414141"/><stop offset="0.047" stop-color="#474747"/><stop offset="0.077" stop-color="#555555"/><stop offset="0.109" stop-color="#686868"/><stop offset="0.141" stop-color="#7f7f7f"/><stop offset="0.175" stop-color="#9c9c9c"/><stop offset="0.205" stop-color="#b8b8b8"/><stop offset="0.250" stop-color="#e7e7e7"/><stop offset="0.252" stop-color="#e8e8e8"/><stop offset="0.269" stop-color="#e7e7e7"/><stop offset="0.286" stop-color="#e3e3e3"/><stop offset="0.348" stop-color="#cecece"/><stop offset="0.378" stop-color="#c6c6c6"/><stop offset="0.429" stop-color="#bbbbbb"/><stop offset="0.459" stop-color="#b7b7b7"/><stop offset="0.491" stop-color="#b7b7b7"/><stop offset="0.553" stop-color="#bebebe"/><stop offset="0.594" stop-color="#c0c0c0"/><stop offset="0.915" stop-color="#c0c0c0"/><stop offset="0.934" stop-color="#bebebe"/><stop offset="0.955" stop-color="#b8b8b8"/><stop offset="0.976" stop-color="#afafaf"/><stop offset="1.000" stop-color="#a3a3a3"/></linearGradient><linearGradient id="ga55" gradientUnits="userSpaceOnUse" x1="0" y1="118" x2="0" y2="589"><stop offset="0.000" stop-color="#3b3b3b"/><stop offset="0.028" stop-color="#3c3c3c"/><stop offset="0.053" stop-color="#434343"/><stop offset="0.083" stop-color="#505050"/><stop offset="0.115" stop-color="#636363"/><stop offset="0.146" stop-color="#7b7b7b"/><stop offset="0.180" stop-color="#999999"/><stop offset="0.210" stop-color="#b7b7b7"/><stop offset="0.253" stop-color="#e7e7e7"/><stop offset="0.255" stop-color="#e8e8e8"/><stop offset="0.272" stop-color="#e7e7e7"/><stop offset="0.289" stop-color="#e3e3e3"/><stop offset="0.348" stop-color="#cfcfcf"/><stop offset="0.378" stop-color="#c6c6c6"/><stop offset="0.459" stop-color="#b7b7b7"/><stop offset="0.493" stop-color="#b7b7b7"/><stop offset="0.556" stop-color="#bebebe"/><stop offset="0.597" stop-color="#c0c0c0"/><stop offset="0.902" stop-color="#c0c0c0"/><stop offset="0.924" stop-color="#bdbdbd"/><stop offset="0.947" stop-color="#b6b6b6"/><stop offset="0.972" stop-color="#ababab"/><stop offset="1.000" stop-color="#9b9b9b"/></linearGradient><linearGradient id="ga56" gradientUnits="userSpaceOnUse" x1="0" y1="118" x2="0" y2="594"><stop offset="0.000" stop-color="#383838"/><stop offset="0.027" stop-color="#393939"/><stop offset="0.055" stop-color="#3f3f3f"/><stop offset="0.086" stop-color="#4d4d4d"/><stop offset="0.118" stop-color="#606060"/><stop offset="0.149" stop-color="#787878"/><stop offset="0.183" stop-color="#969696"/><stop offset="0.212" stop-color="#b5b5b5"/><stop offset="0.254" stop-color="#e7e7e7"/><stop offset="0.256" stop-color="#e8e8e8"/><stop offset="0.273" stop-color="#e7e7e7"/><stop offset="0.290" stop-color="#e3e3e3"/><stop offset="0.349" stop-color="#cfcfcf"/><stop offset="0.380" stop-color="#c6c6c6"/><stop offset="0.437" stop-color="#bbbbbb"/><stop offset="0.468" stop-color="#b7b7b7"/><stop offset="0.496" stop-color="#b7b7b7"/><stop offset="0.555" stop-color="#bebebe"/><stop offset="0.595" stop-color="#c0c0c0"/><stop offset="0.895" stop-color="#bfbfbf"/><stop offset="0.918" stop-color="#bababa"/><stop offset="0.943" stop-color="#b1b1b1"/><stop offset="0.971" stop-color="#a2a2a2"/><stop offset="1.000" stop-color="#8f8f8f"/></linearGradient><linearGradient id="ga57" gradientUnits="userSpaceOnUse" x1="0" y1="118" x2="0" y2="598"><stop offset="0.000" stop-color="#363636"/><stop offset="0.031" stop-color="#373737"/><stop offset="0.060" stop-color="#3d3d3d"/><stop offset="0.092" stop-color="#4b4b4b"/><stop offset="0.123" stop-color="#5e5e5e"/><stop offset="0.156" stop-color="#787878"/><stop offset="0.190" stop-color="#989898"/><stop offset="0.223" stop-color="#bdbdbd"/><stop offset="0.256" stop-color="#e8e8e8"/><stop offset="0.273" stop-color="#e7e7e7"/><stop offset="0.290" stop-color="#e3e3e3"/><stop offset="0.350" stop-color="#cfcfcf"/><stop offset="0.381" stop-color="#c6c6c6"/><stop offset="0.440" stop-color="#bababa"/><stop offset="0.471" stop-color="#b6b6b6"/><stop offset="0.498" stop-color="#b7b7b7"/><stop offset="0.556" stop-color="#bebebe"/><stop offset="0.596" stop-color="#c0c0c0"/><stop offset="0.869" stop-color="#c0c0c0"/><stop offset="0.883" stop-color="#bfbfbf"/><stop offset="0.908" stop-color="#b9b9b9"/><stop offset="0.935" stop-color="#adadad"/><stop offset="0.965" stop-color="#9d9d9d"/><stop offset="1.000" stop-color="#848484"/></linearGradient><linearGradient id="ga58" gradientUnits="userSpaceOnUse" x1="0" y1="118" x2="0" y2="602"><stop offset="0.000" stop-color="#333333"/><stop offset="0.033" stop-color="#343434"/><stop offset="0.062" stop-color="#3a3a3a"/><stop offset="0.093" stop-color="#464646"/><stop offset="0.126" stop-color="#5a5a5a"/><stop offset="0.157" stop-color="#737373"/><stop offset="0.190" stop-color="#939393"/><stop offset="0.221" stop-color="#b7b7b7"/><stop offset="0.258" stop-color="#e8e8e8"/><stop offset="0.275" stop-color="#e7e7e7"/><stop offset="0.291" stop-color="#e3e3e3"/><stop offset="0.351" stop-color="#cecece"/><stop offset="0.380" stop-color="#c6c6c6"/><stop offset="0.440" stop-color="#bbbbbb"/><stop offset="0.471" stop-color="#b7b7b7"/><stop offset="0.498" stop-color="#b7b7b7"/><stop offset="0.558" stop-color="#bebebe"/><stop offset="0.597" stop-color="#c0c0c0"/><stop offset="0.855" stop-color="#c0c0c0"/><stop offset="0.870" stop-color="#bfbfbf"/><stop offset="0.897" stop-color="#b8b8b8"/><stop offset="0.926" stop-color="#ababab"/><stop offset="0.959" stop-color="#979797"/><stop offset="1.000" stop-color="#787878"/></linearGradient><linearGradient id="ga59" gradientUnits="userSpaceOnUse" x1="0" y1="119" x2="0" y2="607"><stop offset="0.000" stop-color="#303030"/><stop offset="0.035" stop-color="#313131"/><stop offset="0.066" stop-color="#383838"/><stop offset="0.096" stop-color="#444444"/><stop offset="0.129" stop-color="#585858"/><stop offset="0.160" stop-color="#717171"/><stop offset="0.191" stop-color="#909090"/><stop offset="0.219" stop-color="#b3b3b3"/><stop offset="0.238" stop-color="#cccccc"/><stop offset="0.256" stop-color="#e7e7e7"/><stop offset="0.258" stop-color="#e8e8e8"/><stop offset="0.275" stop-color="#e7e7e7"/><stop offset="0.291" stop-color="#e3e3e3"/><stop offset="0.350" stop-color="#cecece"/><stop offset="0.379" stop-color="#c6c6c6"/><stop offset="0.441" stop-color="#bababa"/><stop offset="0.471" stop-color="#b6b6b6"/><stop offset="0.498" stop-color="#b7b7b7"/><stop offset="0.555" stop-color="#bebebe"/><stop offset="0.594" stop-color="#c0c0c0"/><stop offset="0.840" stop-color="#c0c0c0"/><stop offset="0.857" stop-color="#bfbfbf"/><stop offset="0.885" stop-color="#b6b6b6"/><stop offset="0.916" stop-color="#a7a7a7"/><stop offset="0.951" stop-color="#909090"/><stop offset="1.000" stop-color="#6a6a6a"/></linearGradient><linearGradient id="ga60" gradientUnits="userSpaceOnUse" x1="0" y1="119" x2="0" y2="611"><stop offset="0.000" stop-color="#303030"/><stop offset="0.037" stop-color="#313131"/><stop offset="0.067" stop-color="#373737"/><stop offset="0.100" stop-color="#454545"/><stop offset="0.130" stop-color="#575757"/><stop offset="0.161" stop-color="#707070"/><stop offset="0.193" stop-color="#919191"/><stop offset="0.226" stop-color="#b9b9b9"/><stop offset="0.258" stop-color="#e8e8e8"/><stop offset="0.274" stop-color="#e7e7e7"/><stop offset="0.291" stop-color="#e3e3e3"/><stop offset="0.350" stop-color="#cfcfcf"/><stop offset="0.378" stop-color="#c7c7c7"/><stop offset="0.439" stop-color="#bbbbbb"/><stop offset="0.470" stop-color="#b7b7b7"/><stop offset="0.496" stop-color="#b7b7b7"/><stop offset="0.555" stop-color="#bebebe"/><stop offset="0.593" stop-color="#c0c0c0"/><stop offset="0.823" stop-color="#c0c0c0"/><stop offset="0.841" stop-color="#bebebe"/><stop offset="0.872" stop-color="#b4b4b4"/><stop offset="0.904" stop-color="#a3a3a3"/><stop offset="0.941" stop-color="#898989"/><stop offset="1.000" stop-color="#5a5a5a"/></linearGradient><linearGradient id="ga61" gradientUnits="userSpaceOnUse" x1="0" y1="120" x2="0" y2="616"><stop offset="0.000" stop-color="#303030"/><stop offset="0.036" stop-color="#313131"/><stop offset="0.067" stop-color="#373737"/><stop offset="0.097" stop-color="#444444"/><stop offset="0.129" stop-color="#575757"/><stop offset="0.159" stop-color="#707070"/><stop offset="0.192" stop-color="#919191"/><stop offset="0.220" stop-color="#b3b3b3"/><stop offset="0.238" stop-color="#cccccc"/><stop offset="0.256" stop-color="#e7e7e7"/><stop offset="0.258" stop-color="#e8e8e8"/><stop offset="0.274" stop-color="#e7e7e7"/><stop offset="0.290" stop-color="#e3e3e3"/><stop offset="0.347" stop-color="#cfcfcf"/><stop offset="0.375" stop-color="#c7c7c7"/><stop offset="0.435" stop-color="#bbbbbb"/><stop offset="0.466" stop-color="#b7b7b7"/><stop offset="0.494" stop-color="#b7b7b7"/><stop offset="0.552" stop-color="#bebebe"/><stop offset="0.591" stop-color="#c0c0c0"/><stop offset="0.802" stop-color="#c0c0c0"/><stop offset="0.823" stop-color="#bebebe"/><stop offset="0.853" stop-color="#b4b4b4"/><stop offset="0.887" stop-color="#a0a0a0"/><stop offset="0.921" stop-color="#878787"/><stop offset="1.000" stop-color="#484848"/></linearGradient><linearGradient id="ga62" gradientUnits="userSpaceOnUse" x1="0" y1="121" x2="0" y2="621"><stop offset="0.000" stop-color="#303030"/><stop offset="0.036" stop-color="#313131"/><stop offset="0.066" stop-color="#373737"/><stop offset="0.096" stop-color="#434343"/><stop offset="0.128" stop-color="#575757"/><stop offset="0.158" stop-color="#6f6f6f"/><stop offset="0.190" stop-color="#909090"/><stop offset="0.220" stop-color="#b5b5b5"/><stop offset="0.256" stop-color="#e8e8e8"/><stop offset="0.272" stop-color="#e7e7e7"/><stop offset="0.288" stop-color="#e3e3e3"/><stop offset="0.346" stop-color="#cecece"/><stop offset="0.374" stop-color="#c6c6c6"/><stop offset="0.432" stop-color="#bbbbbb"/><stop offset="0.462" stop-color="#b7b7b7"/><stop offset="0.490" stop-color="#b7b7b7"/><stop offset="0.548" stop-color="#bebebe"/><stop offset="0.588" stop-color="#c0c0c0"/><stop offset="0.784" stop-color="#c0c0c0"/><stop offset="0.806" stop-color="#bdbdbd"/><stop offset="0.836" stop-color="#b2b2b2"/><stop offset="0.870" stop-color="#9e9e9e"/><stop offset="0.902" stop-color="#868686"/><stop offset="0.970" stop-color="#4e4e4e"/><stop offset="1.000" stop-color="#383838"/></linearGradient><linearGradient id="ga63" gradientUnits="userSpaceOnUse" x1="0" y1="122" x2="0" y2="626"><stop offset="0.000" stop-color="#303030"/><stop offset="0.036" stop-color="#313131"/><stop offset="0.065" stop-color="#373737"/><stop offset="0.097" stop-color="#444444"/><stop offset="0.127" stop-color="#575757"/><stop offset="0.159" stop-color="#717171"/><stop offset="0.190" stop-color="#929292"/><stop offset="0.222" stop-color="#bababa"/><stop offset="0.254" stop-color="#e8e8e8"/><stop offset="0.270" stop-color="#e7e7e7"/><stop offset="0.286" stop-color="#e3e3e3"/><stop offset="0.343" stop-color="#cfcfcf"/><stop offset="0.371" stop-color="#c7c7c7"/><stop offset="0.429" stop-color="#bbbbbb"/><stop offset="0.458" stop-color="#b7b7b7"/><stop offset="0.486" stop-color="#b7b7b7"/><stop offset="0.544" stop-color="#bebebe"/><stop offset="0.583" stop-color="#c0c0c0"/><stop offset="0.764" stop-color="#c0c0c0"/><stop offset="0.788" stop-color="#bdbdbd"/><stop offset="0.815" stop-color="#b2b2b2"/><stop offset="0.847" stop-color="#9f9f9f"/><stop offset="0.879" stop-color="#888888"/><stop offset="0.958" stop-color="#464646"/><stop offset="0.980" stop-color="#363636"/><stop offset="1.000" stop-color="#2a2a2a"/></linearGradient><linearGradient id="ga64" gradientUnits="userSpaceOnUse" x1="0" y1="123" x2="0" y2="631"><stop offset="0.000" stop-color="#303030"/><stop offset="0.035" stop-color="#313131"/><stop offset="0.065" stop-color="#373737"/><stop offset="0.094" stop-color="#434343"/><stop offset="0.126" stop-color="#565656"/><stop offset="0.156" stop-color="#6e6e6e"/><stop offset="0.187" stop-color="#8f8f8f"/><stop offset="0.219" stop-color="#b7b7b7"/><stop offset="0.252" stop-color="#e8e8e8"/><stop offset="0.254" stop-color="#e8e8e8"/><stop offset="0.270" stop-color="#e6e6e6"/><stop offset="0.285" stop-color="#e3e3e3"/><stop offset="0.341" stop-color="#cfcfcf"/><stop offset="0.368" stop-color="#c7c7c7"/><stop offset="0.425" stop-color="#bbbbbb"/><stop offset="0.455" stop-color="#b7b7b7"/><stop offset="0.482" stop-color="#b7b7b7"/><stop offset="0.541" stop-color="#bebebe"/><stop offset="0.581" stop-color="#c0c0c0"/><stop offset="0.748" stop-color="#c0c0c0"/><stop offset="0.772" stop-color="#bcbcbc"/><stop offset="0.797" stop-color="#b2b2b2"/><stop offset="0.825" stop-color="#a2a2a2"/><stop offset="0.856" stop-color="#8a8a8a"/><stop offset="0.919" stop-color="#545454"/><stop offset="0.947" stop-color="#3e3e3e"/><stop offset="0.974" stop-color="#2c2c2c"/><stop offset="1.000" stop-color="#1f1f1f"/></linearGradient><linearGradient id="ga65" gradientUnits="userSpaceOnUse" x1="0" y1="124" x2="0" y2="636"><stop offset="0.000" stop-color="#303030"/><stop offset="0.035" stop-color="#313131"/><stop offset="0.064" stop-color="#363636"/><stop offset="0.094" stop-color="#424242"/><stop offset="0.125" stop-color="#565656"/><stop offset="0.154" stop-color="#6e6e6e"/><stop offset="0.186" stop-color="#8f8f8f"/><stop offset="0.213" stop-color="#b1b1b1"/><stop offset="0.230" stop-color="#cacaca"/><stop offset="0.250" stop-color="#e8e8e8"/><stop offset="0.252" stop-color="#e8e8e8"/><stop offset="0.268" stop-color="#e6e6e6"/><stop offset="0.283" stop-color="#e3e3e3"/><stop offset="0.338" stop-color="#cfcfcf"/><stop offset="0.365" stop-color="#c7c7c7"/><stop offset="0.422" stop-color="#bbbbbb"/><stop offset="0.451" stop-color="#b7b7b7"/><stop offset="0.479" stop-color="#b7b7b7"/><stop offset="0.535" stop-color="#bebebe"/><stop offset="0.574" stop-color="#c0c0c0"/><stop offset="0.730" stop-color="#c0c0c0"/><stop offset="0.754" stop-color="#bdbdbd"/><stop offset="0.781" stop-color="#b1b1b1"/><stop offset="0.812" stop-color="#9e9e9e"/><stop offset="0.842" stop-color="#868686"/><stop offset="0.910" stop-color="#4b4b4b"/><stop offset="0.943" stop-color="#323232"/><stop offset="0.973" stop-color="#222222"/><stop offset="1.000" stop-color="#191919"/></linearGradient><linearGradient id="ga66" gradientUnits="userSpaceOnUse" x1="0" y1="126" x2="0" y2="642"><stop offset="0.000" stop-color="#303030"/><stop offset="0.035" stop-color="#313131"/><stop offset="0.064" stop-color="#373737"/><stop offset="0.093" stop-color="#434343"/><stop offset="0.124" stop-color="#565656"/><stop offset="0.153" stop-color="#6f6f6f"/><stop offset="0.182" stop-color="#8e8e8e"/><stop offset="0.213" stop-color="#b6b6b6"/><stop offset="0.246" stop-color="#e8e8e8"/><stop offset="0.248" stop-color="#e8e8e8"/><stop offset="0.264" stop-color="#e6e6e6"/><stop offset="0.279" stop-color="#e3e3e3"/><stop offset="0.333" stop-color="#cfcfcf"/><stop offset="0.360" stop-color="#c7c7c7"/><stop offset="0.417" stop-color="#bbbbbb"/><stop offset="0.446" stop-color="#b7b7b7"/><stop offset="0.473" stop-color="#b7b7b7"/><stop offset="0.529" stop-color="#bebebe"/><stop offset="0.568" stop-color="#c0c0c0"/><stop offset="0.713" stop-color="#c0c0c0"/><stop offset="0.734" stop-color="#bdbdbd"/><stop offset="0.762" stop-color="#b2b2b2"/><stop offset="0.791" stop-color="#9f9f9f"/><stop offset="0.820" stop-color="#878787"/><stop offset="0.891" stop-color="#484848"/><stop offset="0.928" stop-color="#2d2d2d"/><stop offset="0.948" stop-color="#222222"/><stop offset="0.965" stop-color="#1c1c1c"/><stop offset="0.981" stop-color="#181818"/><stop offset="1.000" stop-color="#181818"/></linearGradient><linearGradient id="ga67" gradientUnits="userSpaceOnUse" x1="0" y1="128" x2="0" y2="648"><stop offset="0.000" stop-color="#303030"/><stop offset="0.035" stop-color="#313131"/><stop offset="0.062" stop-color="#363636"/><stop offset="0.090" stop-color="#424242"/><stop offset="0.121" stop-color="#565656"/><stop offset="0.150" stop-color="#6f6f6f"/><stop offset="0.179" stop-color="#8e8e8e"/><stop offset="0.210" stop-color="#b6b6b6"/><stop offset="0.242" stop-color="#e8e8e8"/><stop offset="0.244" stop-color="#e8e8e8"/><stop offset="0.260" stop-color="#e6e6e6"/><stop offset="0.275" stop-color="#e3e3e3"/><stop offset="0.327" stop-color="#cfcfcf"/><stop offset="0.354" stop-color="#c7c7c7"/><stop offset="0.410" stop-color="#bbbbbb"/><stop offset="0.438" stop-color="#b7b7b7"/><stop offset="0.467" stop-color="#b7b7b7"/><stop offset="0.523" stop-color="#bebebe"/><stop offset="0.560" stop-color="#c0c0c0"/><stop offset="0.694" stop-color="#c0c0c0"/><stop offset="0.715" stop-color="#bdbdbd"/><stop offset="0.742" stop-color="#b2b2b2"/><stop offset="0.771" stop-color="#9e9e9e"/><stop offset="0.800" stop-color="#878787"/><stop offset="0.871" stop-color="#464646"/><stop offset="0.892" stop-color="#363636"/><stop offset="0.912" stop-color="#292929"/><stop offset="0.931" stop-color="#1f1f1f"/><stop offset="0.950" stop-color="#191919"/><stop offset="0.963" stop-color="#181818"/><stop offset="1.000" stop-color="#181818"/></linearGradient><linearGradient id="ga68" gradientUnits="userSpaceOnUse" x1="0" y1="130" x2="0" y2="653"><stop offset="0.000" stop-color="#313131"/><stop offset="0.034" stop-color="#323232"/><stop offset="0.063" stop-color="#373737"/><stop offset="0.092" stop-color="#444444"/><stop offset="0.120" stop-color="#565656"/><stop offset="0.149" stop-color="#6f6f6f"/><stop offset="0.176" stop-color="#8d8d8d"/><stop offset="0.207" stop-color="#b6b6b6"/><stop offset="0.237" stop-color="#e6e6e6"/><stop offset="0.241" stop-color="#e8e8e8"/><stop offset="0.270" stop-color="#e3e3e3"/><stop offset="0.323" stop-color="#cfcfcf"/><stop offset="0.350" stop-color="#c7c7c7"/><stop offset="0.405" stop-color="#bbbbbb"/><stop offset="0.434" stop-color="#b7b7b7"/><stop offset="0.463" stop-color="#b7b7b7"/><stop offset="0.516" stop-color="#bebebe"/><stop offset="0.553" stop-color="#c0c0c0"/><stop offset="0.685" stop-color="#c0c0c0"/><stop offset="0.704" stop-color="#bdbdbd"/><stop offset="0.728" stop-color="#b3b3b3"/><stop offset="0.757" stop-color="#a0a0a0"/><stop offset="0.786" stop-color="#888888"/><stop offset="0.859" stop-color="#454545"/><stop offset="0.881" stop-color="#333333"/><stop offset="0.901" stop-color="#272727"/><stop offset="0.920" stop-color="#1e1e1e"/><stop offset="0.939" stop-color="#191919"/><stop offset="1.000" stop-color="#181818"/></linearGradient><linearGradient id="ga69" gradientUnits="userSpaceOnUse" x1="0" y1="132" x2="0" y2="660"><stop offset="0.000" stop-color="#323232"/><stop offset="0.036" stop-color="#333333"/><stop offset="0.062" stop-color="#383838"/><stop offset="0.091" stop-color="#444444"/><stop offset="0.119" stop-color="#575757"/><stop offset="0.148" stop-color="#707070"/><stop offset="0.174" stop-color="#8e8e8e"/><stop offset="0.199" stop-color="#b0b0b0"/><stop offset="0.216" stop-color="#cacaca"/><stop offset="0.233" stop-color="#e7e7e7"/><stop offset="0.235" stop-color="#e8e8e8"/><stop offset="0.250" stop-color="#e7e7e7"/><stop offset="0.265" stop-color="#e3e3e3"/><stop offset="0.318" stop-color="#cfcfcf"/><stop offset="0.345" stop-color="#c7c7c7"/><stop offset="0.400" stop-color="#bbbbbb"/><stop offset="0.428" stop-color="#b7b7b7"/><stop offset="0.455" stop-color="#b7b7b7"/><stop offset="0.509" stop-color="#bebebe"/><stop offset="0.544" stop-color="#c0c0c0"/><stop offset="0.670" stop-color="#c0c0c0"/><stop offset="0.689" stop-color="#bdbdbd"/><stop offset="0.714" stop-color="#b3b3b3"/><stop offset="0.742" stop-color="#a0a0a0"/><stop offset="0.769" stop-color="#898989"/><stop offset="0.845" stop-color="#424242"/><stop offset="0.867" stop-color="#303030"/><stop offset="0.886" stop-color="#242424"/><stop offset="0.905" stop-color="#1c1c1c"/><stop offset="0.922" stop-color="#181818"/><stop offset="1.000" stop-color="#181818"/></linearGradient><linearGradient id="ga70" gradientUnits="userSpaceOnUse" x1="0" y1="134" x2="0" y2="665"><stop offset="0.000" stop-color="#333333"/><stop offset="0.038" stop-color="#343434"/><stop offset="0.064" stop-color="#393939"/><stop offset="0.092" stop-color="#454545"/><stop offset="0.119" stop-color="#575757"/><stop offset="0.145" stop-color="#6f6f6f"/><stop offset="0.171" stop-color="#8d8d8d"/><stop offset="0.200" stop-color="#b5b5b5"/><stop offset="0.228" stop-color="#e5e5e5"/><stop offset="0.230" stop-color="#e8e8e8"/><stop offset="0.232" stop-color="#e8e8e8"/><stop offset="0.247" stop-color="#e6e6e6"/><stop offset="0.262" stop-color="#e3e3e3"/><stop offset="0.313" stop-color="#cfcfcf"/><stop offset="0.339" stop-color="#c7c7c7"/><stop offset="0.394" stop-color="#bbbbbb"/><stop offset="0.422" stop-color="#b7b7b7"/><stop offset="0.450" stop-color="#b7b7b7"/><stop offset="0.503" stop-color="#bdbdbd"/><stop offset="0.537" stop-color="#c0c0c0"/><stop offset="0.661" stop-color="#c0c0c0"/><stop offset="0.678" stop-color="#bebebe"/><stop offset="0.702" stop-color="#b3b3b3"/><stop offset="0.729" stop-color="#a2a2a2"/><stop offset="0.757" stop-color="#898989"/><stop offset="0.832" stop-color="#414141"/><stop offset="0.855" stop-color="#2f2f2f"/><stop offset="0.876" stop-color="#222222"/><stop offset="0.893" stop-color="#1b1b1b"/><stop offset="0.908" stop-color="#181818"/><stop offset="1.000" stop-color="#181818"/></linearGradient><linearGradient id="ga71" gradientUnits="userSpaceOnUse" x1="0" y1="136" x2="0" y2="671"><stop offset="0.000" stop-color="#343434"/><stop offset="0.036" stop-color="#353535"/><stop offset="0.062" stop-color="#393939"/><stop offset="0.090" stop-color="#454545"/><stop offset="0.116" stop-color="#565656"/><stop offset="0.142" stop-color="#6e6e6e"/><stop offset="0.166" stop-color="#8a8a8a"/><stop offset="0.181" stop-color="#9f9f9f"/><stop offset="0.196" stop-color="#b6b6b6"/><stop offset="0.211" stop-color="#cfcfcf"/><stop offset="0.224" stop-color="#e7e7e7"/><stop offset="0.228" stop-color="#e8e8e8"/><stop offset="0.256" stop-color="#e3e3e3"/><stop offset="0.308" stop-color="#cfcfcf"/><stop offset="0.335" stop-color="#c7c7c7"/><stop offset="0.389" stop-color="#bbbbbb"/><stop offset="0.417" stop-color="#b7b7b7"/><stop offset="0.443" stop-color="#b7b7b7"/><stop offset="0.497" stop-color="#bebebe"/><stop offset="0.529" stop-color="#c0c0c0"/><stop offset="0.649" stop-color="#c0c0c0"/><stop offset="0.665" stop-color="#bebebe"/><stop offset="0.690" stop-color="#b4b4b4"/><stop offset="0.716" stop-color="#a2a2a2"/><stop offset="0.742" stop-color="#8a8a8a"/><stop offset="0.817" stop-color="#414141"/><stop offset="0.841" stop-color="#2e2e2e"/><stop offset="0.862" stop-color="#212121"/><stop offset="0.879" stop-color="#1b1b1b"/><stop offset="0.893" stop-color="#181818"/><stop offset="1.000" stop-color="#181818"/></linearGradient><linearGradient id="ga72" gradientUnits="userSpaceOnUse" x1="0" y1="139" x2="0" y2="678"><stop offset="0.000" stop-color="#353535"/><stop offset="0.037" stop-color="#363636"/><stop offset="0.063" stop-color="#3b3b3b"/><stop offset="0.089" stop-color="#464646"/><stop offset="0.115" stop-color="#585858"/><stop offset="0.141" stop-color="#717171"/><stop offset="0.165" stop-color="#8e8e8e"/><stop offset="0.191" stop-color="#b6b6b6"/><stop offset="0.204" stop-color="#cdcdcd"/><stop offset="0.217" stop-color="#e6e6e6"/><stop offset="0.219" stop-color="#e8e8e8"/><stop offset="0.221" stop-color="#e8e8e8"/><stop offset="0.236" stop-color="#e6e6e6"/><stop offset="0.250" stop-color="#e2e2e2"/><stop offset="0.301" stop-color="#cfcfcf"/><stop offset="0.327" stop-color="#c7c7c7"/><stop offset="0.380" stop-color="#bbbbbb"/><stop offset="0.408" stop-color="#b7b7b7"/><stop offset="0.436" stop-color="#b7b7b7"/><stop offset="0.488" stop-color="#bebebe"/><stop offset="0.521" stop-color="#c0c0c0"/><stop offset="0.636" stop-color="#c0c0c0"/><stop offset="0.653" stop-color="#bdbdbd"/><stop offset="0.675" stop-color="#b4b4b4"/><stop offset="0.701" stop-color="#a2a2a2"/><stop offset="0.727" stop-color="#8a8a8a"/><stop offset="0.779" stop-color="#555555"/><stop offset="0.801" stop-color="#404040"/><stop offset="0.826" stop-color="#2c2c2c"/><stop offset="0.846" stop-color="#202020"/><stop offset="0.861" stop-color="#1a1a1a"/><stop offset="0.876" stop-color="#181818"/><stop offset="1.000" stop-color="#181818"/></linearGradient><linearGradient id="ga73" gradientUnits="userSpaceOnUse" x1="0" y1="141" x2="0" y2="685"><stop offset="0.000" stop-color="#363636"/><stop offset="0.037" stop-color="#373737"/><stop offset="0.062" stop-color="#3b3b3b"/><stop offset="0.088" stop-color="#464646"/><stop offset="0.112" stop-color="#565656"/><stop offset="0.138" stop-color="#6f6f6f"/><stop offset="0.162" stop-color="#8e8e8e"/><stop offset="0.175" stop-color="#a1a1a1"/><stop offset="0.188" stop-color="#b6b6b6"/><stop offset="0.200" stop-color="#cecece"/><stop offset="0.213" stop-color="#e8e8e8"/><stop offset="0.215" stop-color="#e8e8e8"/><stop offset="0.230" stop-color="#e6e6e6"/><stop offset="0.244" stop-color="#e3e3e3"/><stop offset="0.296" stop-color="#cfcfcf"/><stop offset="0.322" stop-color="#c7c7c7"/><stop offset="0.401" stop-color="#b7b7b7"/><stop offset="0.428" stop-color="#b7b7b7"/><stop offset="0.480" stop-color="#bdbdbd"/><stop offset="0.511" stop-color="#c0c0c0"/><stop offset="0.623" stop-color="#c0c0c0"/><stop offset="0.636" stop-color="#bebebe"/><stop offset="0.656" stop-color="#b6b6b6"/><stop offset="0.680" stop-color="#a4a4a4"/><stop offset="0.706" stop-color="#8b8b8b"/><stop offset="0.756" stop-color="#545454"/><stop offset="0.778" stop-color="#3e3e3e"/><stop offset="0.801" stop-color="#2a2a2a"/><stop offset="0.822" stop-color="#1e1e1e"/><stop offset="0.835" stop-color="#191919"/><stop offset="0.846" stop-color="#181818"/><stop offset="1.000" stop-color="#181818"/></linearGradient><linearGradient id="ga74" gradientUnits="userSpaceOnUse" x1="0" y1="145" x2="0" y2="691"><stop offset="0.000" stop-color="#373737"/><stop offset="0.037" stop-color="#383838"/><stop offset="0.060" stop-color="#3c3c3c"/><stop offset="0.086" stop-color="#474747"/><stop offset="0.110" stop-color="#585858"/><stop offset="0.134" stop-color="#707070"/><stop offset="0.156" stop-color="#8d8d8d"/><stop offset="0.168" stop-color="#a1a1a1"/><stop offset="0.181" stop-color="#b7b7b7"/><stop offset="0.194" stop-color="#d0d0d0"/><stop offset="0.205" stop-color="#e7e7e7"/><stop offset="0.209" stop-color="#e8e8e8"/><stop offset="0.236" stop-color="#e3e3e3"/><stop offset="0.288" stop-color="#cfcfcf"/><stop offset="0.311" stop-color="#c7c7c7"/><stop offset="0.363" stop-color="#bcbcbc"/><stop offset="0.392" stop-color="#b7b7b7"/><stop offset="0.419" stop-color="#b7b7b7"/><stop offset="0.471" stop-color="#bdbdbd"/><stop offset="0.502" stop-color="#bfbfbf"/><stop offset="0.608" stop-color="#c0c0c0"/><stop offset="0.619" stop-color="#bebebe"/><stop offset="0.637" stop-color="#b6b6b6"/><stop offset="0.659" stop-color="#a4a4a4"/><stop offset="0.681" stop-color="#8d8d8d"/><stop offset="0.729" stop-color="#525252"/><stop offset="0.749" stop-color="#3b3b3b"/><stop offset="0.771" stop-color="#272727"/><stop offset="0.789" stop-color="#1c1c1c"/><stop offset="0.808" stop-color="#181818"/><stop offset="1.000" stop-color="#181818"/></linearGradient><linearGradient id="ga75" gradientUnits="userSpaceOnUse" x1="0" y1="148" x2="0" y2="693"><stop offset="0.000" stop-color="#3a3a3a"/><stop offset="0.035" stop-color="#3a3a3a"/><stop offset="0.059" stop-color="#3f3f3f"/><stop offset="0.083" stop-color="#494949"/><stop offset="0.106" stop-color="#595959"/><stop offset="0.128" stop-color="#6f6f6f"/><stop offset="0.150" stop-color="#8c8c8c"/><stop offset="0.163" stop-color="#a0a0a0"/><stop offset="0.176" stop-color="#b6b6b6"/><stop offset="0.189" stop-color="#cfcfcf"/><stop offset="0.200" stop-color="#e6e6e6"/><stop offset="0.204" stop-color="#e8e8e8"/><stop offset="0.231" stop-color="#e3e3e3"/><stop offset="0.283" stop-color="#cfcfcf"/><stop offset="0.308" stop-color="#c7c7c7"/><stop offset="0.361" stop-color="#bbbbbb"/><stop offset="0.389" stop-color="#b7b7b7"/><stop offset="0.417" stop-color="#b7b7b7"/><stop offset="0.466" stop-color="#bdbdbd"/><stop offset="0.495" stop-color="#bfbfbf"/><stop offset="0.598" stop-color="#c0c0c0"/><stop offset="0.607" stop-color="#bfbfbf"/><stop offset="0.617" stop-color="#bbbbbb"/><stop offset="0.626" stop-color="#b5b5b5"/><stop offset="0.644" stop-color="#a5a5a5"/><stop offset="0.664" stop-color="#8d8d8d"/><stop offset="0.708" stop-color="#515151"/><stop offset="0.727" stop-color="#3a3a3a"/><stop offset="0.747" stop-color="#262626"/><stop offset="0.763" stop-color="#1b1b1b"/><stop offset="0.778" stop-color="#181818"/><stop offset="1.000" stop-color="#181818"/></linearGradient><linearGradient id="ga76" gradientUnits="userSpaceOnUse" x1="0" y1="151" x2="0" y2="693"><stop offset="0.000" stop-color="#3f3f3f"/><stop offset="0.033" stop-color="#404040"/><stop offset="0.055" stop-color="#444444"/><stop offset="0.079" stop-color="#4e4e4e"/><stop offset="0.101" stop-color="#5d5d5d"/><stop offset="0.124" stop-color="#737373"/><stop offset="0.146" stop-color="#8f8f8f"/><stop offset="0.159" stop-color="#a2a2a2"/><stop offset="0.172" stop-color="#b8b8b8"/><stop offset="0.196" stop-color="#e6e6e6"/><stop offset="0.197" stop-color="#e8e8e8"/><stop offset="0.199" stop-color="#e8e8e8"/><stop offset="0.214" stop-color="#e6e6e6"/><stop offset="0.229" stop-color="#e2e2e2"/><stop offset="0.279" stop-color="#cfcfcf"/><stop offset="0.304" stop-color="#c7c7c7"/><stop offset="0.360" stop-color="#bbbbbb"/><stop offset="0.387" stop-color="#b7b7b7"/><stop offset="0.411" stop-color="#b6b6b6"/><stop offset="0.470" stop-color="#bebebe"/><stop offset="0.526" stop-color="#c1c1c1"/><stop offset="0.566" stop-color="#c8c8c8"/><stop offset="0.589" stop-color="#c6c6c6"/><stop offset="0.596" stop-color="#c4c4c4"/><stop offset="0.605" stop-color="#bebebe"/><stop offset="0.627" stop-color="#a9a9a9"/><stop offset="0.649" stop-color="#8e8e8e"/><stop offset="0.690" stop-color="#535353"/><stop offset="0.708" stop-color="#3b3b3b"/><stop offset="0.729" stop-color="#252525"/><stop offset="0.745" stop-color="#1b1b1b"/><stop offset="0.758" stop-color="#181818"/><stop offset="1.000" stop-color="#181818"/></linearGradient><linearGradient id="ga77" gradientUnits="userSpaceOnUse" x1="0" y1="154" x2="0" y2="693"><stop offset="0.000" stop-color="#454545"/><stop offset="0.032" stop-color="#454545"/><stop offset="0.052" stop-color="#494949"/><stop offset="0.074" stop-color="#525252"/><stop offset="0.096" stop-color="#616161"/><stop offset="0.119" stop-color="#777777"/><stop offset="0.139" stop-color="#8f8f8f"/><stop offset="0.152" stop-color="#a2a2a2"/><stop offset="0.165" stop-color="#b6b6b6"/><stop offset="0.178" stop-color="#cdcdcd"/><stop offset="0.191" stop-color="#e5e5e5"/><stop offset="0.193" stop-color="#e8e8e8"/><stop offset="0.197" stop-color="#e8e8e8"/><stop offset="0.224" stop-color="#e3e3e3"/><stop offset="0.275" stop-color="#cfcfcf"/><stop offset="0.301" stop-color="#c7c7c7"/><stop offset="0.356" stop-color="#bbbbbb"/><stop offset="0.384" stop-color="#b7b7b7"/><stop offset="0.414" stop-color="#b7b7b7"/><stop offset="0.464" stop-color="#bebebe"/><stop offset="0.514" stop-color="#c1c1c1"/><stop offset="0.553" stop-color="#c8c8c8"/><stop offset="0.566" stop-color="#c8c8c8"/><stop offset="0.581" stop-color="#c5c5c5"/><stop offset="0.590" stop-color="#c0c0c0"/><stop offset="0.599" stop-color="#b9b9b9"/><stop offset="0.620" stop-color="#a3a3a3"/><stop offset="0.638" stop-color="#898989"/><stop offset="0.681" stop-color="#484848"/><stop offset="0.699" stop-color="#303030"/><stop offset="0.716" stop-color="#202020"/><stop offset="0.731" stop-color="#191919"/><stop offset="1.000" stop-color="#181818"/></linearGradient><linearGradient id="ga78" gradientUnits="userSpaceOnUse" x1="0" y1="158" x2="0" y2="693"><stop offset="0.000" stop-color="#4a4a4a"/><stop offset="0.030" stop-color="#4a4a4a"/><stop offset="0.049" stop-color="#4e4e4e"/><stop offset="0.069" stop-color="#575757"/><stop offset="0.092" stop-color="#676767"/><stop offset="0.112" stop-color="#7a7a7a"/><stop offset="0.135" stop-color="#959595"/><stop offset="0.159" stop-color="#b8b8b8"/><stop offset="0.187" stop-color="#e8e8e8"/><stop offset="0.191" stop-color="#e8e8e8"/><stop offset="0.219" stop-color="#e3e3e3"/><stop offset="0.269" stop-color="#cfcfcf"/><stop offset="0.295" stop-color="#c7c7c7"/><stop offset="0.350" stop-color="#bbbbbb"/><stop offset="0.378" stop-color="#b7b7b7"/><stop offset="0.411" stop-color="#b7b7b7"/><stop offset="0.497" stop-color="#c1c1c1"/><stop offset="0.536" stop-color="#c8c8c8"/><stop offset="0.551" stop-color="#c7c7c7"/><stop offset="0.570" stop-color="#c3c3c3"/><stop offset="0.578" stop-color="#bfbfbf"/><stop offset="0.587" stop-color="#b8b8b8"/><stop offset="0.606" stop-color="#a2a2a2"/><stop offset="0.622" stop-color="#8a8a8a"/><stop offset="0.662" stop-color="#4a4a4a"/><stop offset="0.680" stop-color="#303030"/><stop offset="0.695" stop-color="#212121"/><stop offset="0.710" stop-color="#191919"/><stop offset="1.000" stop-color="#181818"/></linearGradient><linearGradient id="ga79" gradientUnits="userSpaceOnUse" x1="0" y1="161" x2="0" y2="691"><stop offset="0.000" stop-color="#4f4f4f"/><stop offset="0.030" stop-color="#4f4f4f"/><stop offset="0.045" stop-color="#525252"/><stop offset="0.066" stop-color="#5c5c5c"/><stop offset="0.087" stop-color="#6a6a6a"/><stop offset="0.106" stop-color="#7b7b7b"/><stop offset="0.126" stop-color="#939393"/><stop offset="0.155" stop-color="#bababa"/><stop offset="0.183" stop-color="#e8e8e8"/><stop offset="0.189" stop-color="#e8e8e8"/><stop offset="0.215" stop-color="#e3e3e3"/><stop offset="0.266" stop-color="#cfcfcf"/><stop offset="0.292" stop-color="#c7c7c7"/><stop offset="0.347" stop-color="#bbbbbb"/><stop offset="0.375" stop-color="#b7b7b7"/><stop offset="0.411" stop-color="#b7b7b7"/><stop offset="0.483" stop-color="#c1c1c1"/><stop offset="0.525" stop-color="#c8c8c8"/><stop offset="0.540" stop-color="#c7c7c7"/><stop offset="0.560" stop-color="#c3c3c3"/><stop offset="0.568" stop-color="#bfbfbf"/><stop offset="0.577" stop-color="#b7b7b7"/><stop offset="0.594" stop-color="#a2a2a2"/><stop offset="0.611" stop-color="#888888"/><stop offset="0.647" stop-color="#4a4a4a"/><stop offset="0.664" stop-color="#313131"/><stop offset="0.679" stop-color="#202020"/><stop offset="0.692" stop-color="#191919"/><stop offset="1.000" stop-color="#181818"/></linearGradient><linearGradient id="ga80" gradientUnits="userSpaceOnUse" x1="0" y1="166" x2="0" y2="690"><stop offset="0.000" stop-color="#545454"/><stop offset="0.027" stop-color="#545454"/><stop offset="0.040" stop-color="#565656"/><stop offset="0.059" stop-color="#5f5f5f"/><stop offset="0.080" stop-color="#6e6e6e"/><stop offset="0.099" stop-color="#7f7f7f"/><stop offset="0.118" stop-color="#959595"/><stop offset="0.147" stop-color="#bbbbbb"/><stop offset="0.176" stop-color="#e8e8e8"/><stop offset="0.181" stop-color="#e8e8e8"/><stop offset="0.208" stop-color="#e3e3e3"/><stop offset="0.261" stop-color="#cfcfcf"/><stop offset="0.286" stop-color="#c7c7c7"/><stop offset="0.342" stop-color="#bbbbbb"/><stop offset="0.370" stop-color="#b7b7b7"/><stop offset="0.389" stop-color="#b6b6b6"/><stop offset="0.408" stop-color="#b8b8b8"/><stop offset="0.473" stop-color="#c0c0c0"/><stop offset="0.515" stop-color="#c8c8c8"/><stop offset="0.532" stop-color="#c7c7c7"/><stop offset="0.555" stop-color="#c2c2c2"/><stop offset="0.563" stop-color="#bebebe"/><stop offset="0.571" stop-color="#b8b8b8"/><stop offset="0.578" stop-color="#afafaf"/><stop offset="0.588" stop-color="#a2a2a2"/><stop offset="0.603" stop-color="#8a8a8a"/><stop offset="0.639" stop-color="#494949"/><stop offset="0.656" stop-color="#2f2f2f"/><stop offset="0.670" stop-color="#202020"/><stop offset="0.683" stop-color="#191919"/><stop offset="1.000" stop-color="#181818"/></linearGradient><linearGradient id="ga81" gradientUnits="userSpaceOnUse" x1="0" y1="169" x2="0" y2="687"><stop offset="0.000" stop-color="#585858"/><stop offset="0.029" stop-color="#585858"/><stop offset="0.039" stop-color="#5a5a5a"/><stop offset="0.056" stop-color="#626262"/><stop offset="0.075" stop-color="#6f6f6f"/><stop offset="0.098" stop-color="#858585"/><stop offset="0.122" stop-color="#9f9f9f"/><stop offset="0.147" stop-color="#c1c1c1"/><stop offset="0.172" stop-color="#e8e8e8"/><stop offset="0.178" stop-color="#e8e8e8"/><stop offset="0.207" stop-color="#e2e2e2"/><stop offset="0.257" stop-color="#cfcfcf"/><stop offset="0.284" stop-color="#c7c7c7"/><stop offset="0.338" stop-color="#bcbcbc"/><stop offset="0.369" stop-color="#b7b7b7"/><stop offset="0.388" stop-color="#b6b6b6"/><stop offset="0.407" stop-color="#b8b8b8"/><stop offset="0.514" stop-color="#c8c8c8"/><stop offset="0.531" stop-color="#c7c7c7"/><stop offset="0.556" stop-color="#c2c2c2"/><stop offset="0.564" stop-color="#bdbdbd"/><stop offset="0.571" stop-color="#b6b6b6"/><stop offset="0.587" stop-color="#a2a2a2"/><stop offset="0.602" stop-color="#878787"/><stop offset="0.635" stop-color="#4a4a4a"/><stop offset="0.651" stop-color="#313131"/><stop offset="0.664" stop-color="#212121"/><stop offset="0.672" stop-color="#1b1b1b"/><stop offset="0.678" stop-color="#191919"/><stop offset="1.000" stop-color="#181818"/></linearGradient><linearGradient id="ga82" gradientUnits="userSpaceOnUse" x1="0" y1="173" x2="0" y2="685"><stop offset="0.000" stop-color="#5d5d5d"/><stop offset="0.035" stop-color="#5e5e5e"/><stop offset="0.051" stop-color="#656565"/><stop offset="0.068" stop-color="#717171"/><stop offset="0.092" stop-color="#868686"/><stop offset="0.115" stop-color="#a0a0a0"/><stop offset="0.141" stop-color="#c2c2c2"/><stop offset="0.166" stop-color="#e8e8e8"/><stop offset="0.174" stop-color="#e8e8e8"/><stop offset="0.201" stop-color="#e2e2e2"/><stop offset="0.252" stop-color="#cfcfcf"/><stop offset="0.279" stop-color="#c7c7c7"/><stop offset="0.334" stop-color="#bcbcbc"/><stop offset="0.365" stop-color="#b7b7b7"/><stop offset="0.385" stop-color="#b6b6b6"/><stop offset="0.406" stop-color="#b8b8b8"/><stop offset="0.508" stop-color="#c8c8c8"/><stop offset="0.523" stop-color="#c7c7c7"/><stop offset="0.553" stop-color="#c2c2c2"/><stop offset="0.559" stop-color="#bebebe"/><stop offset="0.566" stop-color="#b8b8b8"/><stop offset="0.574" stop-color="#afafaf"/><stop offset="0.582" stop-color="#a4a4a4"/><stop offset="0.598" stop-color="#898989"/><stop offset="0.631" stop-color="#484848"/><stop offset="0.646" stop-color="#2f2f2f"/><stop offset="0.660" stop-color="#1f1f1f"/><stop offset="0.672" stop-color="#181818"/><stop offset="1.000" stop-color="#181818"/></linearGradient><linearGradient id="ga83" gradientUnits="userSpaceOnUse" x1="0" y1="178" x2="0" y2="683"><stop offset="0.000" stop-color="#616161"/><stop offset="0.032" stop-color="#626262"/><stop offset="0.046" stop-color="#686868"/><stop offset="0.061" stop-color="#737373"/><stop offset="0.083" stop-color="#878787"/><stop offset="0.107" stop-color="#a1a1a1"/><stop offset="0.133" stop-color="#c2c2c2"/><stop offset="0.158" stop-color="#e7e7e7"/><stop offset="0.166" stop-color="#e8e8e8"/><stop offset="0.194" stop-color="#e2e2e2"/><stop offset="0.248" stop-color="#cfcfcf"/><stop offset="0.273" stop-color="#c7c7c7"/><stop offset="0.329" stop-color="#bcbcbc"/><stop offset="0.360" stop-color="#b7b7b7"/><stop offset="0.380" stop-color="#b6b6b6"/><stop offset="0.402" stop-color="#b8b8b8"/><stop offset="0.501" stop-color="#c8c8c8"/><stop offset="0.519" stop-color="#c7c7c7"/><stop offset="0.549" stop-color="#c1c1c1"/><stop offset="0.554" stop-color="#bdbdbd"/><stop offset="0.562" stop-color="#b6b6b6"/><stop offset="0.570" stop-color="#adadad"/><stop offset="0.578" stop-color="#a1a1a1"/><stop offset="0.592" stop-color="#898989"/><stop offset="0.626" stop-color="#494949"/><stop offset="0.642" stop-color="#2f2f2f"/><stop offset="0.655" stop-color="#1f1f1f"/><stop offset="0.667" stop-color="#191919"/><stop offset="1.000" stop-color="#181818"/></linearGradient><linearGradient id="ga84" gradientUnits="userSpaceOnUse" x1="0" y1="182" x2="0" y2="680"><stop offset="0.000" stop-color="#666666"/><stop offset="0.032" stop-color="#666666"/><stop offset="0.042" stop-color="#6b6b6b"/><stop offset="0.056" stop-color="#757575"/><stop offset="0.076" stop-color="#878787"/><stop offset="0.100" stop-color="#a2a2a2"/><stop offset="0.127" stop-color="#c3c3c3"/><stop offset="0.153" stop-color="#e7e7e7"/><stop offset="0.161" stop-color="#e8e8e8"/><stop offset="0.189" stop-color="#e2e2e2"/><stop offset="0.243" stop-color="#cfcfcf"/><stop offset="0.269" stop-color="#c7c7c7"/><stop offset="0.325" stop-color="#bcbcbc"/><stop offset="0.357" stop-color="#b7b7b7"/><stop offset="0.380" stop-color="#b6b6b6"/><stop offset="0.402" stop-color="#b8b8b8"/><stop offset="0.498" stop-color="#c8c8c8"/><stop offset="0.514" stop-color="#c7c7c7"/><stop offset="0.544" stop-color="#c1c1c1"/><stop offset="0.550" stop-color="#bebebe"/><stop offset="0.558" stop-color="#b7b7b7"/><stop offset="0.566" stop-color="#adadad"/><stop offset="0.574" stop-color="#a2a2a2"/><stop offset="0.588" stop-color="#8a8a8a"/><stop offset="0.622" stop-color="#4a4a4a"/><stop offset="0.639" stop-color="#303030"/><stop offset="0.653" stop-color="#202020"/><stop offset="0.665" stop-color="#191919"/><stop offset="1.000" stop-color="#181818"/></linearGradient><linearGradient id="ga85" gradientUnits="userSpaceOnUse" x1="0" y1="187" x2="0" y2="677"><stop offset="0.000" stop-color="#6a6a6a"/><stop offset="0.031" stop-color="#6a6a6a"/><stop offset="0.037" stop-color="#6d6d6d"/><stop offset="0.047" stop-color="#747474"/><stop offset="0.067" stop-color="#878787"/><stop offset="0.090" stop-color="#9f9f9f"/><stop offset="0.116" stop-color="#c0c0c0"/><stop offset="0.145" stop-color="#e6e6e6"/><stop offset="0.147" stop-color="#e8e8e8"/><stop offset="0.155" stop-color="#e8e8e8"/><stop offset="0.184" stop-color="#e2e2e2"/><stop offset="0.237" stop-color="#cfcfcf"/><stop offset="0.263" stop-color="#c7c7c7"/><stop offset="0.320" stop-color="#bcbcbc"/><stop offset="0.353" stop-color="#b7b7b7"/><stop offset="0.376" stop-color="#b6b6b6"/><stop offset="0.398" stop-color="#b8b8b8"/><stop offset="0.492" stop-color="#c8c8c8"/><stop offset="0.508" stop-color="#c7c7c7"/><stop offset="0.539" stop-color="#c1c1c1"/><stop offset="0.545" stop-color="#bebebe"/><stop offset="0.553" stop-color="#b7b7b7"/><stop offset="0.561" stop-color="#aeaeae"/><stop offset="0.569" stop-color="#a3a3a3"/><stop offset="0.586" stop-color="#878787"/><stop offset="0.618" stop-color="#4b4b4b"/><stop offset="0.635" stop-color="#313131"/><stop offset="0.649" stop-color="#202020"/><stop offset="0.661" stop-color="#191919"/><stop offset="1.000" stop-color="#181818"/></linearGradient><linearGradient id="ga86" gradientUnits="userSpaceOnUse" x1="0" y1="192" x2="0" y2="674"><stop offset="0.000" stop-color="#707070"/><stop offset="0.031" stop-color="#707070"/><stop offset="0.039" stop-color="#757575"/><stop offset="0.058" stop-color="#868686"/><stop offset="0.081" stop-color="#9f9f9f"/><stop offset="0.106" stop-color="#bdbdbd"/><stop offset="0.139" stop-color="#e8e8e8"/><stop offset="0.147" stop-color="#e8e8e8"/><stop offset="0.176" stop-color="#e2e2e2"/><stop offset="0.230" stop-color="#cfcfcf"/><stop offset="0.257" stop-color="#c8c8c8"/><stop offset="0.349" stop-color="#b7b7b7"/><stop offset="0.371" stop-color="#b6b6b6"/><stop offset="0.396" stop-color="#b8b8b8"/><stop offset="0.485" stop-color="#c8c8c8"/><stop offset="0.502" stop-color="#c7c7c7"/><stop offset="0.533" stop-color="#c1c1c1"/><stop offset="0.539" stop-color="#bebebe"/><stop offset="0.548" stop-color="#b8b8b8"/><stop offset="0.556" stop-color="#afafaf"/><stop offset="0.564" stop-color="#a3a3a3"/><stop offset="0.581" stop-color="#888888"/><stop offset="0.616" stop-color="#484848"/><stop offset="0.633" stop-color="#2e2e2e"/><stop offset="0.647" stop-color="#1f1f1f"/><stop offset="0.660" stop-color="#181818"/><stop offset="1.000" stop-color="#181818"/></linearGradient><linearGradient id="ga87" gradientUnits="userSpaceOnUse" x1="0" y1="197" x2="0" y2="670"><stop offset="0.000" stop-color="#7c7c7c"/><stop offset="0.032" stop-color="#7c7c7c"/><stop offset="0.038" stop-color="#7f7f7f"/><stop offset="0.053" stop-color="#8c8c8c"/><stop offset="0.072" stop-color="#a0a0a0"/><stop offset="0.099" stop-color="#c0c0c0"/><stop offset="0.131" stop-color="#e7e7e7"/><stop offset="0.133" stop-color="#e8e8e8"/><stop offset="0.150" stop-color="#e6e6e6"/><stop offset="0.167" stop-color="#e3e3e3"/><stop offset="0.226" stop-color="#cfcfcf"/><stop offset="0.256" stop-color="#c7c7c7"/><stop offset="0.347" stop-color="#b7b7b7"/><stop offset="0.368" stop-color="#b6b6b6"/><stop offset="0.391" stop-color="#b8b8b8"/><stop offset="0.429" stop-color="#bdbdbd"/><stop offset="0.471" stop-color="#c7c7c7"/><stop offset="0.495" stop-color="#c7c7c7"/><stop offset="0.529" stop-color="#c2c2c2"/><stop offset="0.537" stop-color="#bdbdbd"/><stop offset="0.548" stop-color="#b4b4b4"/><stop offset="0.558" stop-color="#a7a7a7"/><stop offset="0.571" stop-color="#949494"/><stop offset="0.609" stop-color="#505050"/><stop offset="0.626" stop-color="#353535"/><stop offset="0.641" stop-color="#232323"/><stop offset="0.649" stop-color="#1c1c1c"/><stop offset="0.655" stop-color="#191919"/><stop offset="0.662" stop-color="#181818"/><stop offset="1.000" stop-color="#181818"/></linearGradient><linearGradient id="ga88" gradientUnits="userSpaceOnUse" x1="0" y1="202" x2="0" y2="666"><stop offset="0.000" stop-color="#888888"/><stop offset="0.032" stop-color="#888888"/><stop offset="0.037" stop-color="#898989"/><stop offset="0.052" stop-color="#969696"/><stop offset="0.071" stop-color="#aaaaaa"/><stop offset="0.125" stop-color="#e6e6e6"/><stop offset="0.142" stop-color="#e5e5e5"/><stop offset="0.159" stop-color="#e1e1e1"/><stop offset="0.220" stop-color="#cecece"/><stop offset="0.250" stop-color="#c7c7c7"/><stop offset="0.345" stop-color="#b7b7b7"/><stop offset="0.366" stop-color="#b6b6b6"/><stop offset="0.388" stop-color="#b8b8b8"/><stop offset="0.422" stop-color="#bdbdbd"/><stop offset="0.468" stop-color="#c7c7c7"/><stop offset="0.491" stop-color="#c7c7c7"/><stop offset="0.526" stop-color="#c1c1c1"/><stop offset="0.534" stop-color="#bcbcbc"/><stop offset="0.545" stop-color="#b2b2b2"/><stop offset="0.556" stop-color="#a5a5a5"/><stop offset="0.567" stop-color="#949494"/><stop offset="0.608" stop-color="#4d4d4d"/><stop offset="0.623" stop-color="#353535"/><stop offset="0.638" stop-color="#232323"/><stop offset="0.647" stop-color="#1c1c1c"/><stop offset="0.653" stop-color="#191919"/><stop offset="0.662" stop-color="#181818"/><stop offset="1.000" stop-color="#181818"/></linearGradient><linearGradient id="ga89" gradientUnits="userSpaceOnUse" x1="0" y1="208" x2="0" y2="662"><stop offset="0.000" stop-color="#949494"/><stop offset="0.035" stop-color="#949494"/><stop offset="0.062" stop-color="#acacac"/><stop offset="0.115" stop-color="#e3e3e3"/><stop offset="0.117" stop-color="#e3e3e3"/><stop offset="0.152" stop-color="#dfdfdf"/><stop offset="0.214" stop-color="#cdcdcd"/><stop offset="0.244" stop-color="#c6c6c6"/><stop offset="0.341" stop-color="#b7b7b7"/><stop offset="0.383" stop-color="#b7b7b7"/><stop offset="0.414" stop-color="#bcbcbc"/><stop offset="0.463" stop-color="#c7c7c7"/><stop offset="0.489" stop-color="#c7c7c7"/><stop offset="0.520" stop-color="#c1c1c1"/><stop offset="0.529" stop-color="#bcbcbc"/><stop offset="0.540" stop-color="#b3b3b3"/><stop offset="0.551" stop-color="#a5a5a5"/><stop offset="0.562" stop-color="#959595"/><stop offset="0.604" stop-color="#4e4e4e"/><stop offset="0.619" stop-color="#363636"/><stop offset="0.634" stop-color="#242424"/><stop offset="0.643" stop-color="#1d1d1d"/><stop offset="0.650" stop-color="#191919"/><stop offset="0.659" stop-color="#181818"/><stop offset="1.000" stop-color="#181818"/></linearGradient><linearGradient id="ga90" gradientUnits="userSpaceOnUse" x1="0" y1="213" x2="0" y2="658"><stop offset="0.000" stop-color="#a0a0a0"/><stop offset="0.036" stop-color="#a0a0a0"/><stop offset="0.063" stop-color="#b7b7b7"/><stop offset="0.108" stop-color="#e1e1e1"/><stop offset="0.144" stop-color="#dddddd"/><stop offset="0.209" stop-color="#cccccc"/><stop offset="0.240" stop-color="#c5c5c5"/><stop offset="0.339" stop-color="#b7b7b7"/><stop offset="0.360" stop-color="#b6b6b6"/><stop offset="0.382" stop-color="#b8b8b8"/><stop offset="0.409" stop-color="#bcbcbc"/><stop offset="0.456" stop-color="#c6c6c6"/><stop offset="0.470" stop-color="#c7c7c7"/><stop offset="0.485" stop-color="#c6c6c6"/><stop offset="0.517" stop-color="#c1c1c1"/><stop offset="0.526" stop-color="#bbbbbb"/><stop offset="0.537" stop-color="#b1b1b1"/><stop offset="0.548" stop-color="#a3a3a3"/><stop offset="0.560" stop-color="#939393"/><stop offset="0.600" stop-color="#4f4f4f"/><stop offset="0.616" stop-color="#373737"/><stop offset="0.631" stop-color="#242424"/><stop offset="0.640" stop-color="#1d1d1d"/><stop offset="0.647" stop-color="#1a1a1a"/><stop offset="0.656" stop-color="#181818"/><stop offset="1.000" stop-color="#181818"/></linearGradient><linearGradient id="ga91" gradientUnits="userSpaceOnUse" x1="0" y1="218" x2="0" y2="654"><stop offset="0.000" stop-color="#ababab"/><stop offset="0.039" stop-color="#ababab"/><stop offset="0.101" stop-color="#dfdfdf"/><stop offset="0.138" stop-color="#dbdbdb"/><stop offset="0.234" stop-color="#c5c5c5"/><stop offset="0.337" stop-color="#b7b7b7"/><stop offset="0.360" stop-color="#b6b6b6"/><stop offset="0.385" stop-color="#b8b8b8"/><stop offset="0.456" stop-color="#c7c7c7"/><stop offset="0.486" stop-color="#c5c5c5"/><stop offset="0.511" stop-color="#c1c1c1"/><stop offset="0.521" stop-color="#bcbcbc"/><stop offset="0.532" stop-color="#b1b1b1"/><stop offset="0.544" stop-color="#a4a4a4"/><stop offset="0.555" stop-color="#939393"/><stop offset="0.596" stop-color="#4f4f4f"/><stop offset="0.615" stop-color="#343434"/><stop offset="0.631" stop-color="#232323"/><stop offset="0.640" stop-color="#1c1c1c"/><stop offset="0.647" stop-color="#191919"/><stop offset="0.654" stop-color="#181818"/><stop offset="1.000" stop-color="#181818"/></linearGradient><linearGradient id="ga92" gradientUnits="userSpaceOnUse" x1="0" y1="224" x2="0" y2="649"><stop offset="0.000" stop-color="#b2b2b2"/><stop offset="0.040" stop-color="#b2b2b2"/><stop offset="0.092" stop-color="#dcdcdc"/><stop offset="0.125" stop-color="#dadada"/><stop offset="0.221" stop-color="#c6c6c6"/><stop offset="0.336" stop-color="#b7b7b7"/><stop offset="0.360" stop-color="#b6b6b6"/><stop offset="0.384" stop-color="#b8b8b8"/><stop offset="0.452" stop-color="#c7c7c7"/><stop offset="0.471" stop-color="#c6c6c6"/><stop offset="0.501" stop-color="#c2c2c2"/><stop offset="0.508" stop-color="#c0c0c0"/><stop offset="0.518" stop-color="#bababa"/><stop offset="0.534" stop-color="#aaaaaa"/><stop offset="0.553" stop-color="#919191"/><stop offset="0.593" stop-color="#505050"/><stop offset="0.609" stop-color="#383838"/><stop offset="0.619" stop-color="#2d2d2d"/><stop offset="0.628" stop-color="#232323"/><stop offset="0.638" stop-color="#1c1c1c"/><stop offset="0.645" stop-color="#191919"/><stop offset="0.652" stop-color="#181818"/><stop offset="1.000" stop-color="#181818"/></linearGradient><linearGradient id="ga93" gradientUnits="userSpaceOnUse" x1="0" y1="230" x2="0" y2="644"><stop offset="0.000" stop-color="#b8b8b8"/><stop offset="0.041" stop-color="#b9b9b9"/><stop offset="0.082" stop-color="#d7d7d7"/><stop offset="0.085" stop-color="#d7d7d7"/><stop offset="0.121" stop-color="#d5d5d5"/><stop offset="0.210" stop-color="#c6c6c6"/><stop offset="0.336" stop-color="#b6b6b6"/><stop offset="0.357" stop-color="#b6b6b6"/><stop offset="0.379" stop-color="#b8b8b8"/><stop offset="0.444" stop-color="#c6c6c6"/><stop offset="0.464" stop-color="#c6c6c6"/><stop offset="0.495" stop-color="#c2c2c2"/><stop offset="0.502" stop-color="#c0c0c0"/><stop offset="0.512" stop-color="#bababa"/><stop offset="0.529" stop-color="#a9a9a9"/><stop offset="0.548" stop-color="#909090"/><stop offset="0.589" stop-color="#4f4f4f"/><stop offset="0.606" stop-color="#373737"/><stop offset="0.623" stop-color="#242424"/><stop offset="0.633" stop-color="#1d1d1d"/><stop offset="0.640" stop-color="#1a1a1a"/><stop offset="0.650" stop-color="#181818"/><stop offset="1.000" stop-color="#181818"/></linearGradient><linearGradient id="ga94" gradientUnits="userSpaceOnUse" x1="0" y1="235" x2="0" y2="638"><stop offset="0.000" stop-color="#bfbfbf"/><stop offset="0.045" stop-color="#bfbfbf"/><stop offset="0.077" stop-color="#d2d2d2"/><stop offset="0.119" stop-color="#d0d0d0"/><stop offset="0.199" stop-color="#c5c5c5"/><stop offset="0.337" stop-color="#b6b6b6"/><stop offset="0.377" stop-color="#b8b8b8"/><stop offset="0.424" stop-color="#c3c3c3"/><stop offset="0.442" stop-color="#c6c6c6"/><stop offset="0.459" stop-color="#c6c6c6"/><stop offset="0.491" stop-color="#c2c2c2"/><stop offset="0.499" stop-color="#bfbfbf"/><stop offset="0.509" stop-color="#b9b9b9"/><stop offset="0.526" stop-color="#a9a9a9"/><stop offset="0.546" stop-color="#8e8e8e"/><stop offset="0.588" stop-color="#4d4d4d"/><stop offset="0.605" stop-color="#353535"/><stop offset="0.623" stop-color="#232323"/><stop offset="0.633" stop-color="#1c1c1c"/><stop offset="0.640" stop-color="#191919"/><stop offset="0.648" stop-color="#181818"/><stop offset="1.000" stop-color="#181818"/></linearGradient><linearGradient id="ga95" gradientUnits="userSpaceOnUse" x1="0" y1="242" x2="0" y2="632"><stop offset="0.000" stop-color="#c2c2c2"/><stop offset="0.044" stop-color="#c2c2c2"/><stop offset="0.064" stop-color="#cccccc"/><stop offset="0.082" stop-color="#cccccc"/><stop offset="0.344" stop-color="#b6b6b6"/><stop offset="0.372" stop-color="#b8b8b8"/><stop offset="0.415" stop-color="#c3c3c3"/><stop offset="0.433" stop-color="#c5c5c5"/><stop offset="0.451" stop-color="#c5c5c5"/><stop offset="0.485" stop-color="#c1c1c1"/><stop offset="0.492" stop-color="#bfbfbf"/><stop offset="0.503" stop-color="#b9b9b9"/><stop offset="0.521" stop-color="#a8a8a8"/><stop offset="0.541" stop-color="#8d8d8d"/><stop offset="0.582" stop-color="#4f4f4f"/><stop offset="0.600" stop-color="#373737"/><stop offset="0.618" stop-color="#242424"/><stop offset="0.628" stop-color="#1d1d1d"/><stop offset="0.636" stop-color="#191919"/><stop offset="0.646" stop-color="#181818"/><stop offset="1.000" stop-color="#181818"/></linearGradient><linearGradient id="ga96" gradientUnits="userSpaceOnUse" x1="0" y1="248" x2="0" y2="626"><stop offset="0.000" stop-color="#bfbfbf"/><stop offset="0.045" stop-color="#bfbfbf"/><stop offset="0.048" stop-color="#bfbfbf"/><stop offset="0.056" stop-color="#c7c7c7"/><stop offset="0.058" stop-color="#c8c8c8"/><stop offset="0.079" stop-color="#c7c7c7"/><stop offset="0.230" stop-color="#c0c0c0"/><stop offset="0.315" stop-color="#b8b8b8"/><stop offset="0.341" stop-color="#b7b7b7"/><stop offset="0.368" stop-color="#b9b9b9"/><stop offset="0.426" stop-color="#c4c4c4"/><stop offset="0.444" stop-color="#c4c4c4"/><stop offset="0.476" stop-color="#c2c2c2"/><stop offset="0.484" stop-color="#c0c0c0"/><stop offset="0.495" stop-color="#bababa"/><stop offset="0.513" stop-color="#aaaaaa"/><stop offset="0.534" stop-color="#909090"/><stop offset="0.577" stop-color="#525252"/><stop offset="0.595" stop-color="#393939"/><stop offset="0.614" stop-color="#252525"/><stop offset="0.624" stop-color="#1e1e1e"/><stop offset="0.632" stop-color="#1a1a1a"/><stop offset="0.643" stop-color="#181818"/><stop offset="1.000" stop-color="#181818"/></linearGradient><linearGradient id="ga97" gradientUnits="userSpaceOnUse" x1="0" y1="254" x2="0" y2="619"><stop offset="0.000" stop-color="#bcbcbc"/><stop offset="0.047" stop-color="#bcbcbc"/><stop offset="0.049" stop-color="#c4c4c4"/><stop offset="0.074" stop-color="#c4c4c4"/><stop offset="0.225" stop-color="#c0c0c0"/><stop offset="0.340" stop-color="#b7b7b7"/><stop offset="0.364" stop-color="#b9b9b9"/><stop offset="0.419" stop-color="#c3c3c3"/><stop offset="0.438" stop-color="#c3c3c3"/><stop offset="0.474" stop-color="#c1c1c1"/><stop offset="0.490" stop-color="#bababa"/><stop offset="0.510" stop-color="#a9a9a9"/><stop offset="0.532" stop-color="#8f8f8f"/><stop offset="0.575" stop-color="#515151"/><stop offset="0.595" stop-color="#383838"/><stop offset="0.614" stop-color="#252525"/><stop offset="0.625" stop-color="#1d1d1d"/><stop offset="0.633" stop-color="#1a1a1a"/><stop offset="0.644" stop-color="#181818"/><stop offset="1.000" stop-color="#181818"/></linearGradient><linearGradient id="ga98" gradientUnits="userSpaceOnUse" x1="0" y1="262" x2="0" y2="613"><stop offset="0.000" stop-color="#b9b9b9"/><stop offset="0.034" stop-color="#b9b9b9"/><stop offset="0.037" stop-color="#c1c1c1"/><stop offset="0.214" stop-color="#bfbfbf"/><stop offset="0.328" stop-color="#b7b7b7"/><stop offset="0.353" stop-color="#b9b9b9"/><stop offset="0.410" stop-color="#c2c2c2"/><stop offset="0.464" stop-color="#c0c0c0"/><stop offset="0.481" stop-color="#b9b9b9"/><stop offset="0.501" stop-color="#a9a9a9"/><stop offset="0.524" stop-color="#8f8f8f"/><stop offset="0.570" stop-color="#505050"/><stop offset="0.590" stop-color="#373737"/><stop offset="0.610" stop-color="#242424"/><stop offset="0.621" stop-color="#1d1d1d"/><stop offset="0.630" stop-color="#191919"/><stop offset="0.638" stop-color="#181818"/><stop offset="1.000" stop-color="#181818"/></linearGradient><linearGradient id="ga99" gradientUnits="userSpaceOnUse" x1="0" y1="268" x2="0" y2="606"><stop offset="0.000" stop-color="#b6b6b6"/><stop offset="0.027" stop-color="#b6b6b6"/><stop offset="0.030" stop-color="#bebebe"/><stop offset="0.207" stop-color="#bfbfbf"/><stop offset="0.325" stop-color="#b8b8b8"/><stop offset="0.346" stop-color="#b9b9b9"/><stop offset="0.402" stop-color="#c1c1c1"/><stop offset="0.459" stop-color="#bfbfbf"/><stop offset="0.467" stop-color="#bdbdbd"/><stop offset="0.479" stop-color="#b7b7b7"/><stop offset="0.500" stop-color="#a6a6a6"/><stop offset="0.521" stop-color="#8f8f8f"/><stop offset="0.568" stop-color="#4f4f4f"/><stop offset="0.589" stop-color="#373737"/><stop offset="0.609" stop-color="#232323"/><stop offset="0.627" stop-color="#1a1a1a"/><stop offset="0.639" stop-color="#181818"/><stop offset="1.000" stop-color="#181818"/></linearGradient><linearGradient id="ga100" gradientUnits="userSpaceOnUse" x1="0" y1="275" x2="0" y2="598"><stop offset="0.000" stop-color="#b4b4b4"/><stop offset="0.015" stop-color="#b4b4b4"/><stop offset="0.019" stop-color="#bcbcbc"/><stop offset="0.201" stop-color="#bfbfbf"/><stop offset="0.319" stop-color="#b9b9b9"/><stop offset="0.393" stop-color="#bfbfbf"/><stop offset="0.455" stop-color="#bebebe"/><stop offset="0.474" stop-color="#b7b7b7"/><stop offset="0.495" stop-color="#a6a6a6"/><stop offset="0.517" stop-color="#8e8e8e"/><stop offset="0.567" stop-color="#4f4f4f"/><stop offset="0.588" stop-color="#363636"/><stop offset="0.610" stop-color="#232323"/><stop offset="0.628" stop-color="#1a1a1a"/><stop offset="0.641" stop-color="#181818"/><stop offset="1.000" stop-color="#181818"/></linearGradient><linearGradient id="ga101" gradientUnits="userSpaceOnUse" x1="0" y1="282" x2="0" y2="590"><stop offset="0.000" stop-color="#b4b4b4"/><stop offset="0.006" stop-color="#b4b4b4"/><stop offset="0.010" stop-color="#bcbcbc"/><stop offset="0.188" stop-color="#bfbfbf"/><stop offset="0.305" stop-color="#bbbbbb"/><stop offset="0.380" stop-color="#bebebe"/><stop offset="0.448" stop-color="#bcbcbc"/><stop offset="0.468" stop-color="#b6b6b6"/><stop offset="0.477" stop-color="#b0b0b0"/><stop offset="0.490" stop-color="#a5a5a5"/><stop offset="0.516" stop-color="#8a8a8a"/><stop offset="0.565" stop-color="#4e4e4e"/><stop offset="0.584" stop-color="#393939"/><stop offset="0.607" stop-color="#252525"/><stop offset="0.627" stop-color="#1a1a1a"/><stop offset="0.640" stop-color="#181818"/><stop offset="1.000" stop-color="#181818"/></linearGradient><linearGradient id="ga102" gradientUnits="userSpaceOnUse" x1="0" y1="289" x2="0" y2="582"><stop offset="0.000" stop-color="#bcbcbc"/><stop offset="0.195" stop-color="#bfbfbf"/><stop offset="0.290" stop-color="#bdbdbd"/><stop offset="0.362" stop-color="#bebebe"/><stop offset="0.440" stop-color="#bbbbbb"/><stop offset="0.461" stop-color="#b4b4b4"/><stop offset="0.471" stop-color="#aeaeae"/><stop offset="0.485" stop-color="#a4a4a4"/><stop offset="0.512" stop-color="#898989"/><stop offset="0.563" stop-color="#4e4e4e"/><stop offset="0.584" stop-color="#383838"/><stop offset="0.608" stop-color="#242424"/><stop offset="0.628" stop-color="#1a1a1a"/><stop offset="0.642" stop-color="#181818"/><stop offset="1.000" stop-color="#181818"/></linearGradient><linearGradient id="ga103" gradientUnits="userSpaceOnUse" x1="0" y1="296" x2="0" y2="574"><stop offset="0.000" stop-color="#bcbcbc"/><stop offset="0.165" stop-color="#bfbfbf"/><stop offset="0.335" stop-color="#bfbfbf"/><stop offset="0.435" stop-color="#b8b8b8"/><stop offset="0.457" stop-color="#b1b1b1"/><stop offset="0.482" stop-color="#a0a0a0"/><stop offset="0.507" stop-color="#888888"/><stop offset="0.561" stop-color="#4d4d4d"/><stop offset="0.583" stop-color="#373737"/><stop offset="0.608" stop-color="#242424"/><stop offset="0.629" stop-color="#1a1a1a"/><stop offset="0.644" stop-color="#181818"/><stop offset="1.000" stop-color="#181818"/></linearGradient><linearGradient id="ga104" gradientUnits="userSpaceOnUse" x1="0" y1="304" x2="0" y2="565"><stop offset="0.000" stop-color="#bcbcbc"/><stop offset="0.314" stop-color="#c1c1c1"/><stop offset="0.341" stop-color="#c0c0c0"/><stop offset="0.421" stop-color="#b8b8b8"/><stop offset="0.433" stop-color="#b5b5b5"/><stop offset="0.448" stop-color="#afafaf"/><stop offset="0.475" stop-color="#9e9e9e"/><stop offset="0.506" stop-color="#838383"/><stop offset="0.559" stop-color="#4c4c4c"/><stop offset="0.582" stop-color="#373737"/><stop offset="0.605" stop-color="#252525"/><stop offset="0.628" stop-color="#1b1b1b"/><stop offset="0.644" stop-color="#181818"/><stop offset="1.000" stop-color="#181818"/></linearGradient><linearGradient id="ga105" gradientUnits="userSpaceOnUse" x1="0" y1="312" x2="0" y2="556"><stop offset="0.000" stop-color="#bcbcbc"/><stop offset="0.197" stop-color="#bfbfbf"/><stop offset="0.299" stop-color="#c3c3c3"/><stop offset="0.332" stop-color="#c1c1c1"/><stop offset="0.410" stop-color="#b7b7b7"/><stop offset="0.422" stop-color="#b4b4b4"/><stop offset="0.439" stop-color="#adadad"/><stop offset="0.467" stop-color="#9c9c9c"/><stop offset="0.496" stop-color="#848484"/><stop offset="0.557" stop-color="#4a4a4a"/><stop offset="0.582" stop-color="#353535"/><stop offset="0.607" stop-color="#242424"/><stop offset="0.631" stop-color="#1a1a1a"/><stop offset="0.648" stop-color="#181818"/><stop offset="1.000" stop-color="#181818"/></linearGradient><linearGradient id="ga106" gradientUnits="userSpaceOnUse" x1="0" y1="319" x2="0" y2="547"><stop offset="0.000" stop-color="#bcbcbc"/><stop offset="0.162" stop-color="#bfbfbf"/><stop offset="0.281" stop-color="#c5c5c5"/><stop offset="0.316" stop-color="#c3c3c3"/><stop offset="0.390" stop-color="#b9b9b9"/><stop offset="0.404" stop-color="#b6b6b6"/><stop offset="0.421" stop-color="#b0b0b0"/><stop offset="0.452" stop-color="#9e9e9e"/><stop offset="0.487" stop-color="#848484"/><stop offset="0.548" stop-color="#4e4e4e"/><stop offset="0.575" stop-color="#383838"/><stop offset="0.601" stop-color="#272727"/><stop offset="0.627" stop-color="#1b1b1b"/><stop offset="0.649" stop-color="#181818"/><stop offset="1.000" stop-color="#181818"/></linearGradient><linearGradient id="ga107" gradientUnits="userSpaceOnUse" x1="0" y1="328" x2="0" y2="537"><stop offset="0.000" stop-color="#bcbcbc"/><stop offset="0.129" stop-color="#bebebe"/><stop offset="0.258" stop-color="#c6c6c6"/><stop offset="0.297" stop-color="#c4c4c4"/><stop offset="0.373" stop-color="#bbbbbb"/><stop offset="0.402" stop-color="#b2b2b2"/><stop offset="0.431" stop-color="#a2a2a2"/><stop offset="0.469" stop-color="#878787"/><stop offset="0.541" stop-color="#4d4d4d"/><stop offset="0.569" stop-color="#383838"/><stop offset="0.598" stop-color="#272727"/><stop offset="0.627" stop-color="#1b1b1b"/><stop offset="0.651" stop-color="#181818"/><stop offset="1.000" stop-color="#181818"/></linearGradient><linearGradient id="ga108" gradientUnits="userSpaceOnUse" x1="0" y1="335" x2="0" y2="527"><stop offset="0.000" stop-color="#bcbcbc"/><stop offset="0.099" stop-color="#bebebe"/><stop offset="0.234" stop-color="#c6c6c6"/><stop offset="0.276" stop-color="#c4c4c4"/><stop offset="0.354" stop-color="#bcbcbc"/><stop offset="0.385" stop-color="#b3b3b3"/><stop offset="0.417" stop-color="#a4a4a4"/><stop offset="0.453" stop-color="#8c8c8c"/><stop offset="0.536" stop-color="#4e4e4e"/><stop offset="0.568" stop-color="#383838"/><stop offset="0.599" stop-color="#272727"/><stop offset="0.630" stop-color="#1b1b1b"/><stop offset="0.656" stop-color="#181818"/><stop offset="1.000" stop-color="#181818"/></linearGradient><linearGradient id="ga109" gradientUnits="userSpaceOnUse" x1="0" y1="343" x2="0" y2="516"><stop offset="0.000" stop-color="#bdbdbd"/><stop offset="0.202" stop-color="#c6c6c6"/><stop offset="0.260" stop-color="#c3c3c3"/><stop offset="0.329" stop-color="#bdbdbd"/><stop offset="0.347" stop-color="#bababa"/><stop offset="0.382" stop-color="#aeaeae"/><stop offset="0.416" stop-color="#9c9c9c"/><stop offset="0.451" stop-color="#868686"/><stop offset="0.538" stop-color="#4a4a4a"/><stop offset="0.578" stop-color="#323232"/><stop offset="0.613" stop-color="#222222"/><stop offset="0.642" stop-color="#1a1a1a"/><stop offset="0.665" stop-color="#181818"/><stop offset="1.000" stop-color="#181818"/></linearGradient><linearGradient id="ga110" gradientUnits="userSpaceOnUse" x1="0" y1="352" x2="0" y2="506"><stop offset="0.000" stop-color="#bfbfbf"/><stop offset="0.110" stop-color="#c6c6c6"/><stop offset="0.162" stop-color="#c6c6c6"/><stop offset="0.292" stop-color="#bebebe"/><stop offset="0.325" stop-color="#b8b8b8"/><stop offset="0.357" stop-color="#adadad"/><stop offset="0.396" stop-color="#9a9a9a"/><stop offset="0.435" stop-color="#838383"/><stop offset="0.519" stop-color="#4e4e4e"/><stop offset="0.565" stop-color="#353535"/><stop offset="0.604" stop-color="#242424"/><stop offset="0.643" stop-color="#1a1a1a"/><stop offset="0.669" stop-color="#181818"/><stop offset="1.000" stop-color="#181818"/></linearGradient><linearGradient id="ga111" gradientUnits="userSpaceOnUse" x1="0" y1="360" x2="0" y2="495"><stop offset="0.000" stop-color="#c3c3c3"/><stop offset="0.074" stop-color="#c6c6c6"/><stop offset="0.133" stop-color="#c6c6c6"/><stop offset="0.259" stop-color="#bebebe"/><stop offset="0.296" stop-color="#b7b7b7"/><stop offset="0.333" stop-color="#ababab"/><stop offset="0.370" stop-color="#9a9a9a"/><stop offset="0.407" stop-color="#878787"/><stop offset="0.511" stop-color="#4e4e4e"/><stop offset="0.556" stop-color="#383838"/><stop offset="0.600" stop-color="#262626"/><stop offset="0.644" stop-color="#1b1b1b"/><stop offset="0.674" stop-color="#181818"/><stop offset="1.000" stop-color="#181818"/></linearGradient><linearGradient id="ga112" gradientUnits="userSpaceOnUse" x1="0" y1="368" x2="0" y2="483"><stop offset="0.000" stop-color="#c6c6c6"/><stop offset="0.070" stop-color="#c5c5c5"/><stop offset="0.200" stop-color="#bfbfbf"/><stop offset="0.226" stop-color="#bbbbbb"/><stop offset="0.261" stop-color="#b4b4b4"/><stop offset="0.296" stop-color="#a9a9a9"/><stop offset="0.339" stop-color="#989898"/><stop offset="0.487" stop-color="#515151"/><stop offset="0.539" stop-color="#3b3b3b"/><stop offset="0.591" stop-color="#282828"/><stop offset="0.635" stop-color="#1d1d1d"/><stop offset="0.661" stop-color="#191919"/><stop offset="0.687" stop-color="#181818"/><stop offset="1.000" stop-color="#181818"/></linearGradient><linearGradient id="ga113" gradientUnits="userSpaceOnUse" x1="0" y1="378" x2="0" y2="471"><stop offset="0.000" stop-color="#c3c3c3"/><stop offset="0.118" stop-color="#bdbdbd"/><stop offset="0.151" stop-color="#b9b9b9"/><stop offset="0.194" stop-color="#afafaf"/><stop offset="0.237" stop-color="#a3a3a3"/><stop offset="0.280" stop-color="#949494"/><stop offset="0.441" stop-color="#555555"/><stop offset="0.505" stop-color="#3d3d3d"/><stop offset="0.570" stop-color="#2a2a2a"/><stop offset="0.624" stop-color="#1e1e1e"/><stop offset="0.656" stop-color="#1a1a1a"/><stop offset="0.688" stop-color="#181818"/><stop offset="1.000" stop-color="#181818"/></linearGradient><linearGradient id="ga114" gradientUnits="userSpaceOnUse" x1="0" y1="386" x2="0" y2="459"><stop offset="0.000" stop-color="#bdbdbd"/><stop offset="0.068" stop-color="#b2b2b2"/><stop offset="0.151" stop-color="#a0a0a0"/><stop offset="0.219" stop-color="#8c8c8c"/><stop offset="0.452" stop-color="#434343"/><stop offset="0.521" stop-color="#323232"/><stop offset="0.589" stop-color="#242424"/><stop offset="0.644" stop-color="#1c1c1c"/><stop offset="0.699" stop-color="#181818"/><stop offset="1.000" stop-color="#181818"/></linearGradient><linearGradient id="ga115" gradientUnits="userSpaceOnUse" x1="0" y1="394" x2="0" y2="446"><stop offset="0.000" stop-color="#9e9e9e"/><stop offset="0.096" stop-color="#8a8a8a"/><stop offset="0.404" stop-color="#454545"/><stop offset="0.500" stop-color="#323232"/><stop offset="0.577" stop-color="#272727"/><stop offset="0.654" stop-color="#1e1e1e"/><stop offset="0.731" stop-color="#191919"/><stop offset="1.000" stop-color="#181818"/></linearGradient><linearGradient id="ga116" gradientUnits="userSpaceOnUse" x1="0" y1="404" x2="0" y2="433"><stop offset="0.000" stop-color="#747474"/><stop offset="0.345" stop-color="#484848"/><stop offset="0.586" stop-color="#2f2f2f"/><stop offset="0.793" stop-color="#1f1f1f"/><stop offset="0.897" stop-color="#1b1b1b"/><stop offset="1.000" stop-color="#181818"/></linearGradient></defs><rect x="259.0" y="585" width="8.6" height="22" fill="url(#ga0)"/><rect x="267.0" y="580" width="8.6" height="27" fill="url(#ga1)"/><rect x="275.0" y="574" width="8.6" height="33" fill="url(#ga2)"/><rect x="283.0" y="568" width="8.6" height="33" fill="url(#ga3)"/><rect x="291.0" y="562" width="8.6" height="35" fill="url(#ga4)"/><rect x="299.0" y="555" width="8.6" height="37" fill="url(#ga5)"/><rect x="307.0" y="548" width="8.6" height="40" fill="url(#ga6)"/><rect x="315.0" y="541" width="8.6" height="43" fill="url(#ga7)"/><rect x="323.0" y="533" width="8.6" height="47" fill="url(#ga8)"/><rect x="331.0" y="525" width="8.6" height="51" fill="url(#ga9)"/><rect x="339.0" y="517" width="8.6" height="56" fill="url(#ga10)"/><rect x="347.0" y="508" width="8.6" height="62" fill="url(#ga11)"/><rect x="355.0" y="499" width="8.6" height="67" fill="url(#ga12)"/><rect x="363.0" y="490" width="8.6" height="73" fill="url(#ga13)"/><rect x="371.0" y="480" width="8.6" height="81" fill="url(#ga14)"/><rect x="379.0" y="470" width="8.6" height="88" fill="url(#ga15)"/><rect x="387.0" y="460" width="8.6" height="95" fill="url(#ga16)"/><rect x="395.0" y="450" width="8.6" height="103" fill="url(#ga17)"/><rect x="403.0" y="439" width="8.6" height="112" fill="url(#ga18)"/><rect x="411.0" y="428" width="8.6" height="121" fill="url(#ga19)"/><rect x="419.0" y="416" width="8.6" height="131" fill="url(#ga20)"/><rect x="427.0" y="404" width="8.6" height="141" fill="url(#ga21)"/><rect x="435.0" y="392" width="8.6" height="151" fill="url(#ga22)"/><rect x="443.0" y="379" width="8.6" height="163" fill="url(#ga23)"/><rect x="451.0" y="367" width="8.6" height="174" fill="url(#ga24)"/><rect x="459.0" y="353" width="8.6" height="187" fill="url(#ga25)"/><rect x="467.0" y="340" width="8.6" height="199" fill="url(#ga26)"/><rect x="475.0" y="326" width="8.6" height="212" fill="url(#ga27)"/><rect x="483.0" y="310" width="8.6" height="227" fill="url(#ga28)"/><rect x="491.0" y="296" width="8.6" height="241" fill="url(#ga29)"/><rect x="499.0" y="281" width="8.6" height="256" fill="url(#ga30)"/><rect x="507.0" y="266" width="8.6" height="271" fill="url(#ga31)"/><rect x="515.0" y="250" width="8.6" height="287" fill="url(#ga32)"/><rect x="523.0" y="234" width="8.6" height="304" fill="url(#ga33)"/><rect x="531.0" y="218" width="8.6" height="321" fill="url(#ga34)"/><rect x="539.0" y="202" width="8.6" height="338" fill="url(#ga35)"/><rect x="547.0" y="185" width="8.6" height="356" fill="url(#ga36)"/><rect x="555.0" y="168" width="8.6" height="374" fill="url(#ga37)"/><rect x="563.0" y="150" width="8.6" height="393" fill="url(#ga38)"/><rect x="571.0" y="138" width="8.6" height="407" fill="url(#ga39)"/><rect x="579.0" y="136" width="8.6" height="410" fill="url(#ga40)"/><rect x="587.0" y="134" width="8.6" height="414" fill="url(#ga41)"/><rect x="595.0" y="131" width="8.6" height="419" fill="url(#ga42)"/><rect x="603.0" y="129" width="8.6" height="423" fill="url(#ga43)"/><rect x="611.0" y="127" width="8.6" height="428" fill="url(#ga44)"/><rect x="619.0" y="125" width="8.6" height="432" fill="url(#ga45)"/><rect x="627.0" y="124" width="8.6" height="436" fill="url(#ga46)"/><rect x="635.0" y="123" width="8.6" height="439" fill="url(#ga47)"/><rect x="643.0" y="121" width="8.6" height="444" fill="url(#ga48)"/><rect x="651.0" y="120" width="8.6" height="448" fill="url(#ga49)"/><rect x="659.0" y="120" width="8.6" height="451" fill="url(#ga50)"/><rect x="667.0" y="119" width="8.6" height="456" fill="url(#ga51)"/><rect x="675.0" y="119" width="8.6" height="460" fill="url(#ga52)"/><rect x="683.0" y="118" width="8.6" height="464" fill="url(#ga53)"/><rect x="691.0" y="118" width="8.6" height="468" fill="url(#ga54)"/><rect x="699.0" y="118" width="8.6" height="471" fill="url(#ga55)"/><rect x="707.0" y="118" width="8.6" height="476" fill="url(#ga56)"/><rect x="715.0" y="118" width="8.6" height="480" fill="url(#ga57)"/><rect x="723.0" y="118" width="8.6" height="484" fill="url(#ga58)"/><rect x="731.0" y="119" width="8.6" height="488" fill="url(#ga59)"/><rect x="739.0" y="119" width="8.6" height="492" fill="url(#ga60)"/><rect x="747.0" y="120" width="8.6" height="496" fill="url(#ga61)"/><rect x="755.0" y="121" width="8.6" height="500" fill="url(#ga62)"/><rect x="763.0" y="122" width="8.6" height="504" fill="url(#ga63)"/><rect x="771.0" y="123" width="8.6" height="508" fill="url(#ga64)"/><rect x="779.0" y="124" width="8.6" height="512" fill="url(#ga65)"/><rect x="787.0" y="126" width="8.6" height="516" fill="url(#ga66)"/><rect x="795.0" y="128" width="8.6" height="520" fill="url(#ga67)"/><rect x="803.0" y="130" width="8.6" height="523" fill="url(#ga68)"/><rect x="811.0" y="132" width="8.6" height="528" fill="url(#ga69)"/><rect x="819.0" y="134" width="8.6" height="531" fill="url(#ga70)"/><rect x="827.0" y="136" width="8.6" height="535" fill="url(#ga71)"/><rect x="835.0" y="139" width="8.6" height="539" fill="url(#ga72)"/><rect x="843.0" y="141" width="8.6" height="544" fill="url(#ga73)"/><rect x="851.0" y="145" width="8.6" height="546" fill="url(#ga74)"/><rect x="859.0" y="148" width="8.6" height="545" fill="url(#ga75)"/><rect x="867.0" y="151" width="8.6" height="542" fill="url(#ga76)"/><rect x="875.0" y="154" width="8.6" height="539" fill="url(#ga77)"/><rect x="883.0" y="158" width="8.6" height="535" fill="url(#ga78)"/><rect x="891.0" y="161" width="8.6" height="530" fill="url(#ga79)"/><rect x="899.0" y="166" width="8.6" height="524" fill="url(#ga80)"/><rect x="907.0" y="169" width="8.6" height="518" fill="url(#ga81)"/><rect x="915.0" y="173" width="8.6" height="512" fill="url(#ga82)"/><rect x="923.0" y="178" width="8.6" height="505" fill="url(#ga83)"/><rect x="931.0" y="182" width="8.6" height="498" fill="url(#ga84)"/><rect x="939.0" y="187" width="8.6" height="490" fill="url(#ga85)"/><rect x="947.0" y="192" width="8.6" height="482" fill="url(#ga86)"/><rect x="955.0" y="197" width="8.6" height="473" fill="url(#ga87)"/><rect x="963.0" y="202" width="8.6" height="464" fill="url(#ga88)"/><rect x="971.0" y="208" width="8.6" height="454" fill="url(#ga89)"/><rect x="979.0" y="213" width="8.6" height="445" fill="url(#ga90)"/><rect x="987.0" y="218" width="8.6" height="436" fill="url(#ga91)"/><rect x="995.0" y="224" width="8.6" height="425" fill="url(#ga92)"/><rect x="1003.0" y="230" width="8.6" height="414" fill="url(#ga93)"/><rect x="1011.0" y="235" width="8.6" height="403" fill="url(#ga94)"/><rect x="1019.0" y="242" width="8.6" height="390" fill="url(#ga95)"/><rect x="1027.0" y="248" width="8.6" height="378" fill="url(#ga96)"/><rect x="1035.0" y="254" width="8.6" height="365" fill="url(#ga97)"/><rect x="1043.0" y="262" width="8.6" height="351" fill="url(#ga98)"/><rect x="1051.0" y="268" width="8.6" height="338" fill="url(#ga99)"/><rect x="1059.0" y="275" width="8.6" height="323" fill="url(#ga100)"/><rect x="1067.0" y="282" width="8.6" height="308" fill="url(#ga101)"/><rect x="1075.0" y="289" width="8.6" height="293" fill="url(#ga102)"/><rect x="1083.0" y="296" width="8.6" height="278" fill="url(#ga103)"/><rect x="1091.0" y="304" width="8.6" height="261" fill="url(#ga104)"/><rect x="1099.0" y="312" width="8.6" height="244" fill="url(#ga105)"/><rect x="1107.0" y="319" width="8.6" height="228" fill="url(#ga106)"/><rect x="1115.0" y="328" width="8.6" height="209" fill="url(#ga107)"/><rect x="1123.0" y="335" width="8.6" height="192" fill="url(#ga108)"/><rect x="1131.0" y="343" width="8.6" height="173" fill="url(#ga109)"/><rect x="1139.0" y="352" width="8.6" height="154" fill="url(#ga110)"/><rect x="1147.0" y="360" width="8.6" height="135" fill="url(#ga111)"/><rect x="1155.0" y="368" width="8.6" height="115" fill="url(#ga112)"/><rect x="1163.0" y="378" width="8.6" height="93" fill="url(#ga113)"/><rect x="1171.0" y="386" width="8.6" height="73" fill="url(#ga114)"/><rect x="1179.0" y="394" width="8.6" height="52" fill="url(#ga115)"/><rect x="1187.0" y="404" width="8.6" height="29" fill="url(#ga116)"/>
</g></g>
<path d="M267.0 597.5 L274.6 593.1 L282.2 588.8 L289.9 584.6 L297.5 580.6 L305.1 576.7 L312.7 573.0 L320.3 569.5 L328.0 566.0 L335.6 562.8 L343.2 559.7 L350.8 556.7 L358.4 553.9 L366.1 551.2 L373.7 548.7 L381.3 546.3 L388.9 544.1 L396.5 542.0 L404.2 540.1 L411.8 538.3 L419.4 536.6 L427.0 535.1 L434.6 533.7 L442.3 532.5 L449.9 531.5 L457.5 530.5 L465.1 529.8 L472.7 529.1 L480.4 528.6 L488.0 528.3 L495.6 528.1 L503.2 528.0 L510.8 528.0 L518.5 528.3 L526.1 528.6 L533.7 529.1 L541.3 529.7 L548.9 530.5 L556.6 531.4 L564.2 532.5 L571.8 533.7 L579.4 535.0 L587.1 536.4 L594.7 538.1 L602.3 539.8 L609.9 541.7 L617.5 543.7 L625.2 545.8 L632.8 548.1 L640.4 550.5 L648.0 553.1 L655.6 555.8 L663.3 558.6 L670.9 561.6 L678.5 564.7 L686.1 567.9 L693.7 571.3 L701.4 574.8 L709.0 578.4 L716.6 582.2 L724.2 586.1 L731.8 590.1 L739.5 594.3 L747.1 598.6 L754.7 603.0 L762.3 607.5 L769.9 612.2 L777.6 617.0 L785.2 622.0 L792.8 627.0 L800.4 632.2 L808.0 637.6 L815.7 643.0 L823.3 648.6 L830.9 654.3 L838.5 660.2 L846.1 666.1 L853.8 672.2 L861.4 678.5 L869.0 684.8 L873.0 684.4 L877.0 683.8 L880.9 683.1 L884.9 682.3 L888.9 681.5 L892.9 680.6 L896.8 679.7 L900.8 678.6 L904.8 677.6 L908.8 676.4 L912.8 675.2 L916.7 674.0 L920.7 672.6 L924.7 671.2 L928.7 669.8 L932.7 668.2 L936.6 666.6 L940.6 664.9 L944.6 663.2 L948.6 661.4 L952.5 659.5 L956.5 657.6 L960.5 655.5 L964.5 653.5 L968.5 651.3 L972.4 649.1 L976.4 646.8 L980.4 644.4 L984.4 641.9 L988.4 639.4 L992.3 636.8 L996.3 634.2 L1000.3 631.4 L1004.3 628.6 L1008.2 625.7 L1012.2 622.7 L1016.2 619.7 L1020.2 616.6 L1024.2 613.4 L1028.1 610.1 L1032.1 606.8 L1036.1 603.3 L1040.1 599.8 L1044.1 596.3 L1048.0 592.6 L1052.0 588.9 L1056.0 585.0 L1060.0 581.1 L1063.9 577.2 L1067.9 573.1 L1071.9 569.0 L1075.9 564.7 L1079.9 560.4 L1083.8 556.1 L1087.8 551.6 L1091.8 547.0 L1095.8 542.4 L1099.8 537.7 L1103.7 532.9 L1107.7 528.0 L1111.7 523.0 L1115.7 517.9 L1119.6 512.8 L1123.6 507.6 L1127.6 502.3 L1131.6 496.8 L1135.6 491.4 L1139.5 485.8 L1143.5 480.1 L1147.5 474.3 L1151.5 468.5 L1155.5 462.6 L1159.4 456.5 L1163.4 450.4 L1167.4 444.2 L1171.4 437.9 L1175.3 431.5 L1179.3 425.0 L1183.3 418.5 L1175.7 407.7 L1168.2 399.2 L1160.6 390.8 L1153.0 382.5 L1145.4 374.4 L1137.9 366.3 L1130.3 358.4 L1122.7 350.6 L1115.2 342.9 L1107.6 335.4 L1100.0 327.9 L1092.4 320.6 L1084.9 313.4 L1077.3 306.3 L1069.7 299.4 L1062.1 292.6 L1054.6 285.9 L1047.0 279.3 L1039.4 272.9 L1031.9 266.6 L1024.3 260.4 L1016.7 254.3 L1009.1 248.4 L1001.6 242.6 L994.0 236.9 L986.4 231.4 L978.9 226.0 L971.3 220.8 L963.7 215.6 L956.1 210.6 L948.6 205.8 L941.0 201.1 L933.4 196.5 L925.8 192.0 L918.3 187.7 L910.7 183.6 L903.1 179.5 L895.6 175.7 L888.0 171.9 L880.4 168.3 L872.8 164.9 L865.3 161.6 L857.7 158.4 L850.1 155.4 L842.6 152.5 L835.0 149.8 L827.4 147.2 L819.8 144.8 L812.3 142.5 L804.7 140.4 L797.1 138.4 L789.5 136.6 L782.0 134.9 L774.4 133.4 L766.8 132.0 L759.3 130.8 L751.7 129.8 L744.1 128.9 L736.5 128.1 L729.0 127.5 L721.4 127.1 L713.8 126.9 L706.3 126.8 L698.7 126.8 L691.1 127.0 L683.5 127.4 L676.0 127.9 L668.4 128.6 L660.8 129.5 L653.2 130.6 L645.7 131.8 L638.1 133.1 L630.5 134.7 L623.0 136.4 L615.4 138.2 L607.8 140.3 L600.2 142.5 L592.7 144.9 L585.1 147.4 L581.1 153.4 L577.0 162.4 L573.0 171.2 L569.0 180.0 L565.0 188.7 L560.9 197.3 L556.9 205.8 L552.9 214.2 L548.9 222.6 L544.8 230.8 L540.8 239.0 L536.8 247.1 L532.8 255.1 L528.7 263.1 L524.7 270.9 L520.7 278.6 L516.6 286.3 L512.6 293.9 L508.6 301.4 L504.6 308.8 L500.5 316.2 L496.5 323.4 L492.5 330.6 L488.5 337.6 L484.4 344.6 L480.4 351.6 L476.4 358.4 L472.4 365.1 L468.3 371.8 L464.3 378.4 L460.3 384.9 L456.2 391.3 L452.2 397.6 L448.2 403.8 L444.2 410.0 L440.1 416.1 L436.1 422.1 L432.1 428.0 L428.1 433.8 L424.0 439.5 L420.0 445.2 L416.0 450.8 L412.0 456.2 L407.9 461.6 L403.9 467.0 L399.9 472.2 L395.9 477.4 L391.8 482.4 L387.8 487.4 L383.8 492.3 L379.7 497.1 L375.7 501.9 L371.7 506.5 L367.7 511.1 L363.6 515.6 L359.6 520.0 L355.6 524.3 L351.6 528.6 L347.5 532.7 L343.5 536.8 L339.5 540.8 L335.5 544.7 L331.4 548.5 L327.4 552.3 L323.4 555.9 L319.3 559.5 L315.3 563.0 L311.3 566.4 L307.3 569.7 L303.2 573.0 L299.2 576.2 L295.2 579.2 L291.2 582.2 L287.1 585.1 L283.1 588.0 L279.1 590.7 L275.1 593.4 L271.0 596.0 Z" fill="none" stroke="#1a1a1a" stroke-width="2.7" stroke-linejoin="round"/>
<line x1="239.8" y1="284.2" x2="874.5" y2="406.5" stroke="#111" stroke-width="3.2" stroke-linecap="round"/>
<line x1="874.5" y1="406.5" x2="1210.3" y2="178.1" stroke="#111" stroke-width="3.2" stroke-linecap="round"/>
<line x1="1210.3" y1="178.1" x2="577.0" y2="58.5" stroke="#111" stroke-width="3.2" stroke-linecap="round"/>
<line x1="577.0" y1="58.5" x2="239.8" y2="284.2" stroke="#111" stroke-width="3.2" stroke-linecap="round"/>
<line x1="239.8" y1="284.2" x2="239.5" y2="604.5" stroke="#111" stroke-width="3.2" stroke-linecap="round"/>
<line x1="874.5" y1="406.5" x2="873.5" y2="727.0" stroke="#111" stroke-width="3.2" stroke-linecap="round"/>
<line x1="1210.3" y1="178.1" x2="1210.5" y2="499.7" stroke="#111" stroke-width="3.2" stroke-linecap="round"/>
<line x1="239.5" y1="604.5" x2="873.5" y2="727.0" stroke="#111" stroke-width="3.2" stroke-linecap="round"/>
<line x1="873.5" y1="727.0" x2="1210.5" y2="499.7" stroke="#111" stroke-width="3.2" stroke-linecap="round"/>
<path d="M239.8 294.6h15.0M239.8 304.7h8.5M239.8 314.8h8.5M239.8 324.9h8.5M239.8 335.0h8.5M239.7 345.1h15.0M239.7 355.2h8.5M239.7 365.3h8.5M239.7 375.4h8.5M239.7 385.5h8.5M239.7 395.6h15.0M239.7 405.7h8.5M239.7 415.8h8.5M239.7 425.9h8.5M239.7 436.0h8.5M239.6 446.1h15.0M239.6 456.2h8.5M239.6 466.3h8.5M239.6 476.4h8.5M239.6 486.5h8.5M239.6 496.6h15.0M239.6 506.7h8.5M239.6 516.8h8.5M239.6 526.9h8.5M239.6 537.0h8.5M239.6 547.1h15.0M239.5 557.2h8.5M239.5 567.3h8.5M239.5 577.4h8.5M239.5 587.5h8.5M239.5 597.6h15.0" stroke="#111" stroke-width="2.8" fill="none"/>
<path d="M874.5 416.9h-15.0M874.4 427.0h-8.5M874.4 437.1h-8.5M874.4 447.2h-8.5M874.3 457.3h-8.5M874.3 467.4h-15.0M874.3 477.5h-8.5M874.2 487.6h-8.5M874.2 497.7h-8.5M874.2 507.8h-8.5M874.2 517.9h-15.0M874.1 528.0h-8.5M874.1 538.1h-8.5M874.1 548.2h-8.5M874.0 558.3h-8.5M874.0 568.4h-15.0M874.0 578.5h-8.5M873.9 588.6h-8.5M873.9 598.7h-8.5M873.9 608.8h-8.5M873.8 618.9h-15.0M873.8 629.0h-8.5M873.8 639.1h-8.5M873.7 649.2h-8.5M873.7 659.3h-8.5M873.7 669.4h-15.0M873.6 679.5h-8.5M873.6 689.6h-8.5M873.6 699.7h-8.5M873.6 709.8h-8.5M873.5 719.9h-15.0" stroke="#111" stroke-width="2.8" fill="none"/>
<path d="M1210.3 188.5h-15.0M1210.3 198.6h-8.5M1210.3 208.7h-8.5M1210.3 218.8h-8.5M1210.3 228.9h-8.5M1210.3 239.0h-15.0M1210.3 249.1h-8.5M1210.4 259.2h-8.5M1210.4 269.3h-8.5M1210.4 279.4h-8.5M1210.4 289.5h-15.0M1210.4 299.6h-8.5M1210.4 309.7h-8.5M1210.4 319.8h-8.5M1210.4 329.9h-8.5M1210.4 340.0h-15.0M1210.4 350.1h-8.5M1210.4 360.2h-8.5M1210.4 370.3h-8.5M1210.4 380.4h-8.5M1210.4 390.5h-15.0M1210.4 400.6h-8.5M1210.4 410.7h-8.5M1210.5 420.8h-8.5M1210.5 430.9h-8.5M1210.5 441.0h-15.0M1210.5 451.1h-8.5M1210.5 461.2h-8.5M1210.5 471.3h-8.5M1210.5 481.4h-8.5M1210.5 491.5h-15.0" stroke="#111" stroke-width="2.8" fill="none"/>
<path d="M239.5 604.5l4.1 -2.8M279.1 612.2l2.5 -1.7M318.8 619.8l2.5 -1.7M358.4 627.5l2.5 -1.7M398.0 635.1l4.1 -2.8M437.6 642.8l2.5 -1.7M477.2 650.4l2.5 -1.7M516.9 658.1l2.5 -1.7M556.5 665.8l4.1 -2.8M596.1 673.4l2.5 -1.7M635.8 681.1l2.5 -1.7M675.4 688.7l2.5 -1.7M715.0 696.4l4.1 -2.8M754.6 704.0l2.5 -1.7M794.2 711.7l2.5 -1.7M833.9 719.3l2.5 -1.7M873.5 727.0l4.1 -2.8" stroke="#111" stroke-width="2.6" fill="none"/>
<path d="M239.8 284.2l4.1 -2.8M279.5 291.8l2.5 -1.7M319.1 299.5l2.5 -1.7M358.8 307.1l2.5 -1.7M398.5 314.8l4.1 -2.8M438.1 322.4l2.5 -1.7M477.8 330.1l2.5 -1.7M517.5 337.7l2.5 -1.7M557.2 345.4l4.1 -2.8M596.8 353.0l2.5 -1.7M636.5 360.6l2.5 -1.7M676.2 368.3l2.5 -1.7M715.8 375.9l4.1 -2.8M755.5 383.6l2.5 -1.7M795.2 391.2l2.5 -1.7M834.8 398.9l2.5 -1.7M874.5 406.5l4.1 -2.8" stroke="#111" stroke-width="2.6" fill="none"/>
<path d="M577.0 58.5l-4.1 2.8M616.6 66.0l-2.5 1.7M656.2 73.5l-2.5 1.7M695.7 80.9l-2.5 1.7M735.3 88.4l-4.1 2.8M774.9 95.9l-2.5 1.7M814.5 103.3l-2.5 1.7M854.1 110.8l-2.5 1.7M893.6 118.3l-4.1 2.8M933.2 125.8l-2.5 1.7M972.8 133.2l-2.5 1.7M1012.4 140.7l-2.5 1.7M1052.0 148.2l-4.1 2.8M1091.6 155.7l-2.5 1.7M1131.1 163.1l-2.5 1.7M1170.7 170.6l-2.5 1.7M1210.3 178.1l-4.1 2.8" stroke="#111" stroke-width="2.6" fill="none"/>
<path d="M873.5 727.0l-5.9 -1.1M901.6 708.1l-2.9 -0.6M929.7 689.1l-2.9 -0.6M957.8 670.2l-2.9 -0.6M985.8 651.2l-5.9 -1.1M1013.9 632.3l-2.9 -0.6M1042.0 613.4l-2.9 -0.6M1070.1 594.4l-2.9 -0.6M1098.2 575.5l-5.9 -1.1M1126.2 556.5l-2.9 -0.6M1154.3 537.6l-2.9 -0.6M1182.4 518.6l-2.9 -0.6M1210.5 499.7l-5.9 -1.1" stroke="#111" stroke-width="2.6" fill="none"/>
<path d="M874.5 406.5l-5.9 -1.1M902.5 387.5l-2.9 -0.6M930.5 368.4l-2.9 -0.6M958.5 349.4l-2.9 -0.6M986.4 330.4l-5.9 -1.1M1014.4 311.3l-2.9 -0.6M1042.4 292.3l-2.9 -0.6M1070.4 273.3l-2.9 -0.6M1098.4 254.2l-5.9 -1.1M1126.3 235.2l-2.9 -0.6M1154.3 216.2l-2.9 -0.6M1182.3 197.1l-2.9 -0.6M1210.3 178.1l-5.9 -1.1" stroke="#111" stroke-width="2.6" fill="none"/>
<path d="M239.8 284.2l5.9 1.1M267.9 265.4l2.9 0.6M296.0 246.6l2.9 0.6M324.1 227.8l2.9 0.6M352.2 209.0l5.9 1.1M380.3 190.2l2.9 0.6M408.4 171.3l2.9 0.6M436.5 152.5l2.9 0.6M464.6 133.7l5.9 1.1M492.7 114.9l2.9 0.6M520.8 96.1l2.9 0.6M548.9 77.3l2.9 0.6M577.0 58.5l5.9 1.1" stroke="#111" stroke-width="2.6" fill="none"/>
<text transform="translate(103.1 167.7) scale(1 1.132)" font-size="99.2" font-weight="bold">a</text>
<text x="27.3" y="269.2" font-size="51.2" font-weight="bold">(X 1000)</text>
<text x="172.6" y="314.5" font-size="46.8" font-weight="bold">10</text>
<text x="200.1" y="363.7" font-size="47.5" font-weight="bold">8</text>
<text x="199.8" y="413.9" font-size="48.5" font-weight="bold">6</text>
<text x="199.8" y="464.7" font-size="45.8" font-weight="bold">4</text>
<text x="199.8" y="516.2" font-size="49.0" font-weight="bold">2</text>
<text x="199.5" y="565.9" font-size="49.5" font-weight="bold">0</text>
<text x="173.8" y="669.2" font-size="50.2" font-weight="bold">75:25</text>
<text x="394.5" y="706.8" font-size="50.1" font-weight="bold">50:50</text>
<text x="591.5" y="744.0" font-size="49.6" font-weight="bold">25:75</text>
<text x="764.0" y="781.5" font-size="50.9" font-weight="bold">0:100</text>
<text x="269.4" y="814.7" font-size="54.9" font-weight="bold">ACE-EtAc % (v/v)</text>
<text x="894.2" y="758.1" font-size="49.2" font-weight="bold">200</text>
<text x="999.9" y="686.6" font-size="49.0" font-weight="bold">400</text>
<text x="1105.2" y="615.0" font-size="50.3" font-weight="bold">600</text>
<text x="1211.9" y="543.5" font-size="50.2" font-weight="bold">800</text>
<text x="1049.1" y="745.3" font-size="55.5" font-weight="bold">[EE100] mg</text>
<text transform="matrix(0 -1 1 0 111.8 566.2)" x="-0.5" y="37.3" font-size="51.1" font-weight="bold">Size (nm)</text>
<line x1="552.6" y1="912.3" x2="552.6" y2="1243.5" stroke="#111" stroke-width="3.2" stroke-linecap="round"/>
<line x1="552.6" y1="1243.5" x2="200.5" y2="1463.7" stroke="#111" stroke-width="3.2" stroke-linecap="round"/>
<line x1="552.6" y1="1243.5" x2="1279.1" y2="1348.5" stroke="#111" stroke-width="3.2" stroke-linecap="round"/>
<path d="M552.6 924.7h15.0M552.6 937.1h8.5M552.6 949.6h8.5M552.6 962.0h8.5M552.6 974.5h8.5M552.6 986.9h15.0M552.6 999.3h8.5M552.6 1011.8h8.5M552.6 1024.2h8.5M552.6 1036.7h8.5M552.6 1049.1h15.0M552.6 1061.5h8.5M552.6 1074.0h8.5M552.6 1086.4h8.5M552.6 1098.9h8.5M552.6 1111.3h15.0M552.6 1123.7h8.5M552.6 1136.2h8.5M552.6 1148.6h8.5M552.6 1161.1h8.5M552.6 1173.5h15.0M552.6 1185.9h8.5M552.6 1198.4h8.5M552.6 1210.8h8.5M552.6 1223.3h8.5M552.6 1235.7h15.0" stroke="#111" stroke-width="2.8" fill="none"/>
<clipPath id="clipb"><path d="M237.1 1463.3 L245.8 1457.5 L254.5 1451.6 L263.2 1445.7 L271.9 1439.8 L280.6 1433.8 L289.3 1427.8 L298.0 1421.9 L306.7 1416.0 L315.4 1410.2 L324.0 1404.4 L332.7 1398.8 L341.4 1393.2 L350.1 1387.8 L358.8 1382.5 L367.5 1377.4 L376.2 1372.4 L384.9 1367.6 L393.6 1363.0 L402.3 1358.6 L411.0 1354.4 L419.7 1350.4 L428.4 1346.6 L437.1 1343.0 L445.8 1339.6 L454.5 1336.5 L463.2 1333.6 L471.9 1330.9 L480.6 1328.5 L489.3 1326.3 L497.9 1324.4 L506.6 1322.7 L515.3 1321.3 L524.0 1320.1 L532.7 1319.2 L541.4 1318.5 L550.1 1318.0 L558.8 1317.9 L567.5 1317.9 L576.2 1318.2 L584.9 1318.8 L593.6 1319.6 L602.3 1320.6 L611.0 1321.9 L619.7 1323.4 L628.4 1325.1 L637.1 1327.1 L645.8 1329.3 L654.5 1331.7 L663.2 1334.4 L671.8 1337.2 L680.5 1340.3 L689.2 1343.6 L697.9 1347.1 L706.6 1350.8 L715.3 1354.6 L724.0 1358.7 L732.7 1363.0 L741.4 1367.5 L750.1 1372.1 L758.8 1377.0 L767.5 1382.0 L776.2 1387.2 L784.9 1392.6 L793.6 1398.1 L802.3 1403.8 L811.0 1409.7 L819.7 1415.8 L828.4 1422.0 L837.1 1428.4 L845.7 1435.0 L854.4 1441.8 L863.1 1448.7 L871.8 1455.8 L880.5 1463.0 L889.2 1470.5 L897.9 1478.1 L906.6 1485.9 L915.3 1493.9 L924.0 1502.1 L928.1 1492.3 L932.3 1488.9 L936.4 1485.5 L940.5 1482.1 L944.6 1478.7 L948.8 1475.2 L952.9 1471.8 L957.0 1468.3 L961.1 1464.8 L965.3 1461.3 L969.4 1457.8 L973.5 1454.3 L977.6 1450.8 L981.8 1447.3 L985.9 1443.8 L990.0 1440.3 L994.2 1436.7 L998.3 1433.2 L1002.4 1429.6 L1006.5 1426.1 L1010.7 1422.5 L1014.8 1418.9 L1018.9 1415.3 L1023.0 1411.7 L1027.2 1408.2 L1031.3 1404.6 L1035.4 1401.0 L1039.5 1397.4 L1043.7 1393.7 L1047.8 1390.1 L1051.9 1386.5 L1056.1 1382.9 L1060.2 1379.3 L1064.3 1375.7 L1068.4 1372.0 L1072.6 1368.4 L1076.7 1364.8 L1080.8 1361.1 L1084.9 1357.5 L1089.1 1353.9 L1093.2 1350.2 L1097.3 1346.6 L1101.4 1343.0 L1105.6 1339.4 L1109.7 1335.7 L1113.8 1332.1 L1117.9 1328.5 L1122.1 1324.8 L1126.2 1321.2 L1130.3 1317.6 L1134.5 1314.0 L1138.6 1310.4 L1142.7 1306.8 L1146.8 1303.1 L1151.0 1299.5 L1155.1 1295.9 L1159.2 1292.3 L1163.3 1288.8 L1167.5 1285.2 L1171.6 1281.6 L1175.7 1278.0 L1179.8 1274.4 L1184.0 1270.9 L1188.1 1267.3 L1192.2 1263.8 L1196.4 1260.2 L1200.5 1256.7 L1204.6 1253.2 L1208.7 1249.6 L1212.9 1246.1 L1217.0 1242.6 L1221.1 1239.1 L1225.2 1235.7 L1229.4 1232.2 L1233.5 1228.7 L1237.6 1225.3 L1241.7 1221.8 L1245.9 1218.4 L1250.0 1215.0 L1241.2 1205.7 L1232.4 1196.6 L1223.6 1187.6 L1214.9 1178.9 L1206.1 1170.4 L1197.3 1162.1 L1188.5 1154.0 L1179.7 1146.1 L1170.9 1138.4 L1162.2 1131.0 L1153.4 1123.7 L1144.6 1116.7 L1135.8 1109.8 L1127.0 1103.2 L1118.2 1096.8 L1109.4 1090.6 L1100.7 1084.6 L1091.9 1078.9 L1083.1 1073.3 L1074.3 1068.0 L1065.5 1062.8 L1056.7 1057.9 L1047.9 1053.2 L1039.2 1048.7 L1030.4 1044.5 L1021.6 1040.4 L1012.8 1036.5 L1004.0 1032.9 L995.2 1029.5 L986.5 1026.3 L977.7 1023.3 L968.9 1020.5 L960.1 1018.0 L951.3 1015.6 L942.5 1013.5 L933.7 1011.6 L925.0 1009.8 L916.2 1008.4 L907.4 1007.1 L898.6 1006.0 L889.8 1005.2 L881.0 1004.6 L872.3 1004.2 L863.5 1004.0 L854.7 1004.0 L845.9 1004.2 L837.1 1004.7 L828.3 1005.4 L819.5 1006.2 L810.8 1007.3 L802.0 1008.7 L793.2 1010.2 L784.4 1012.0 L775.6 1013.9 L766.8 1016.1 L758.1 1018.5 L749.3 1021.2 L740.5 1024.0 L731.7 1027.1 L722.9 1030.4 L714.1 1033.9 L705.3 1037.6 L696.6 1041.5 L687.8 1045.7 L679.0 1050.0 L670.2 1054.6 L661.4 1059.4 L652.6 1064.5 L643.8 1069.7 L635.1 1075.2 L626.3 1080.9 L617.5 1086.8 L608.7 1092.9 L599.9 1099.3 L591.1 1105.8 L582.4 1112.6 L573.6 1119.6 L564.8 1126.9 L556.0 1134.3 L552.0 1138.2 L547.9 1142.7 L543.9 1147.1 L539.9 1151.5 L535.8 1155.8 L531.8 1160.2 L527.7 1164.6 L523.7 1168.9 L519.7 1173.3 L515.6 1177.6 L511.6 1181.9 L507.6 1186.2 L503.5 1190.5 L499.5 1194.8 L495.4 1199.1 L491.4 1203.3 L487.4 1207.6 L483.3 1211.8 L479.3 1216.1 L475.3 1220.3 L471.2 1224.5 L467.2 1228.7 L463.2 1232.9 L459.1 1237.1 L455.1 1241.3 L451.0 1245.5 L447.0 1249.7 L443.0 1253.9 L438.9 1258.0 L434.9 1262.2 L430.9 1266.3 L426.8 1270.5 L422.8 1274.6 L418.8 1278.7 L414.7 1282.9 L410.7 1287.0 L406.6 1291.1 L402.6 1295.2 L398.6 1299.3 L394.5 1303.4 L390.5 1307.5 L386.5 1311.6 L382.4 1315.7 L378.4 1319.7 L374.3 1323.8 L370.3 1327.9 L366.3 1332.0 L362.2 1336.0 L358.2 1340.1 L354.2 1344.1 L350.1 1348.2 L346.1 1352.3 L342.1 1356.3 L338.0 1360.4 L334.0 1364.4 L329.9 1368.4 L325.9 1372.5 L321.9 1376.5 L317.8 1380.6 L313.8 1384.6 L309.8 1388.7 L305.7 1392.7 L301.7 1396.7 L297.7 1400.8 L293.6 1404.8 L289.6 1408.9 L285.5 1412.9 L281.5 1416.9 L277.5 1421.0 L273.4 1425.0 L269.4 1429.1 L265.4 1433.1 L261.3 1437.1 L257.3 1441.2 L253.2 1445.2 L249.2 1449.3 L245.2 1453.3 L241.1 1457.4 Z"/></clipPath>
<path d="M237.1 1463.3 L245.8 1457.5 L254.5 1451.6 L263.2 1445.7 L271.9 1439.8 L280.6 1433.8 L289.3 1427.8 L298.0 1421.9 L306.7 1416.0 L315.4 1410.2 L324.0 1404.4 L332.7 1398.8 L341.4 1393.2 L350.1 1387.8 L358.8 1382.5 L367.5 1377.4 L376.2 1372.4 L384.9 1367.6 L393.6 1363.0 L402.3 1358.6 L411.0 1354.4 L419.7 1350.4 L428.4 1346.6 L437.1 1343.0 L445.8 1339.6 L454.5 1336.5 L463.2 1333.6 L471.9 1330.9 L480.6 1328.5 L489.3 1326.3 L497.9 1324.4 L506.6 1322.7 L515.3 1321.3 L524.0 1320.1 L532.7 1319.2 L541.4 1318.5 L550.1 1318.0 L558.8 1317.9 L567.5 1317.9 L576.2 1318.2 L584.9 1318.8 L593.6 1319.6 L602.3 1320.6 L611.0 1321.9 L619.7 1323.4 L628.4 1325.1 L637.1 1327.1 L645.8 1329.3 L654.5 1331.7 L663.2 1334.4 L671.8 1337.2 L680.5 1340.3 L689.2 1343.6 L697.9 1347.1 L706.6 1350.8 L715.3 1354.6 L724.0 1358.7 L732.7 1363.0 L741.4 1367.5 L750.1 1372.1 L758.8 1377.0 L767.5 1382.0 L776.2 1387.2 L784.9 1392.6 L793.6 1398.1 L802.3 1403.8 L811.0 1409.7 L819.7 1415.8 L828.4 1422.0 L837.1 1428.4 L845.7 1435.0 L854.4 1441.8 L863.1 1448.7 L871.8 1455.8 L880.5 1463.0 L889.2 1470.5 L897.9 1478.1 L906.6 1485.9 L915.3 1493.9 L924.0 1502.1 L928.1 1492.3 L932.3 1488.9 L936.4 1485.5 L940.5 1482.1 L944.6 1478.7 L948.8 1475.2 L952.9 1471.8 L957.0 1468.3 L961.1 1464.8 L965.3 1461.3 L969.4 1457.8 L973.5 1454.3 L977.6 1450.8 L981.8 1447.3 L985.9 1443.8 L990.0 1440.3 L994.2 1436.7 L998.3 1433.2 L1002.4 1429.6 L1006.5 1426.1 L1010.7 1422.5 L1014.8 1418.9 L1018.9 1415.3 L1023.0 1411.7 L1027.2 1408.2 L1031.3 1404.6 L1035.4 1401.0 L1039.5 1397.4 L1043.7 1393.7 L1047.8 1390.1 L1051.9 1386.5 L1056.1 1382.9 L1060.2 1379.3 L1064.3 1375.7 L1068.4 1372.0 L1072.6 1368.4 L1076.7 1364.8 L1080.8 1361.1 L1084.9 1357.5 L1089.1 1353.9 L1093.2 1350.2 L1097.3 1346.6 L1101.4 1343.0 L1105.6 1339.4 L1109.7 1335.7 L1113.8 1332.1 L1117.9 1328.5 L1122.1 1324.8 L1126.2 1321.2 L1130.3 1317.6 L1134.5 1314.0 L1138.6 1310.4 L1142.7 1306.8 L1146.8 1303.1 L1151.0 1299.5 L1155.1 1295.9 L1159.2 1292.3 L1163.3 1288.8 L1167.5 1285.2 L1171.6 1281.6 L1175.7 1278.0 L1179.8 1274.4 L1184.0 1270.9 L1188.1 1267.3 L1192.2 1263.8 L1196.4 1260.2 L1200.5 1256.7 L1204.6 1253.2 L1208.7 1249.6 L1212.9 1246.1 L1217.0 1242.6 L1221.1 1239.1 L1225.2 1235.7 L1229.4 1232.2 L1233.5 1228.7 L1237.6 1225.3 L1241.7 1221.8 L1245.9 1218.4 L1250.0 1215.0 L1241.2 1205.7 L1232.4 1196.6 L1223.6 1187.6 L1214.9 1178.9 L1206.1 1170.4 L1197.3 1162.1 L1188.5 1154.0 L1179.7 1146.1 L1170.9 1138.4 L1162.2 1131.0 L1153.4 1123.7 L1144.6 1116.7 L1135.8 1109.8 L1127.0 1103.2 L1118.2 1096.8 L1109.4 1090.6 L1100.7 1084.6 L1091.9 1078.9 L1083.1 1073.3 L1074.3 1068.0 L1065.5 1062.8 L1056.7 1057.9 L1047.9 1053.2 L1039.2 1048.7 L1030.4 1044.5 L1021.6 1040.4 L1012.8 1036.5 L1004.0 1032.9 L995.2 1029.5 L986.5 1026.3 L977.7 1023.3 L968.9 1020.5 L960.1 1018.0 L951.3 1015.6 L942.5 1013.5 L933.7 1011.6 L925.0 1009.8 L916.2 1008.4 L907.4 1007.1 L898.6 1006.0 L889.8 1005.2 L881.0 1004.6 L872.3 1004.2 L863.5 1004.0 L854.7 1004.0 L845.9 1004.2 L837.1 1004.7 L828.3 1005.4 L819.5 1006.2 L810.8 1007.3 L802.0 1008.7 L793.2 1010.2 L784.4 1012.0 L775.6 1013.9 L766.8 1016.1 L758.1 1018.5 L749.3 1021.2 L740.5 1024.0 L731.7 1027.1 L722.9 1030.4 L714.1 1033.9 L705.3 1037.6 L696.6 1041.5 L687.8 1045.7 L679.0 1050.0 L670.2 1054.6 L661.4 1059.4 L652.6 1064.5 L643.8 1069.7 L635.1 1075.2 L626.3 1080.9 L617.5 1086.8 L608.7 1092.9 L599.9 1099.3 L591.1 1105.8 L582.4 1112.6 L573.6 1119.6 L564.8 1126.9 L556.0 1134.3 L552.0 1138.2 L547.9 1142.7 L543.9 1147.1 L539.9 1151.5 L535.8 1155.8 L531.8 1160.2 L527.7 1164.6 L523.7 1168.9 L519.7 1173.3 L515.6 1177.6 L511.6 1181.9 L507.6 1186.2 L503.5 1190.5 L499.5 1194.8 L495.4 1199.1 L491.4 1203.3 L487.4 1207.6 L483.3 1211.8 L479.3 1216.1 L475.3 1220.3 L471.2 1224.5 L467.2 1228.7 L463.2 1232.9 L459.1 1237.1 L455.1 1241.3 L451.0 1245.5 L447.0 1249.7 L443.0 1253.9 L438.9 1258.0 L434.9 1262.2 L430.9 1266.3 L426.8 1270.5 L422.8 1274.6 L418.8 1278.7 L414.7 1282.9 L410.7 1287.0 L406.6 1291.1 L402.6 1295.2 L398.6 1299.3 L394.5 1303.4 L390.5 1307.5 L386.5 1311.6 L382.4 1315.7 L378.4 1319.7 L374.3 1323.8 L370.3 1327.9 L366.3 1332.0 L362.2 1336.0 L358.2 1340.1 L354.2 1344.1 L350.1 1348.2 L346.1 1352.3 L342.1 1356.3 L338.0 1360.4 L334.0 1364.4 L329.9 1368.4 L325.9 1372.5 L321.9 1376.5 L317.8 1380.6 L313.8 1384.6 L309.8 1388.7 L305.7 1392.7 L301.7 1396.7 L297.7 1400.8 L293.6 1404.8 L289.6 1408.9 L285.5 1412.9 L281.5 1416.9 L277.5 1421.0 L273.4 1425.0 L269.4 1429.1 L265.4 1433.1 L261.3 1437.1 L257.3 1441.2 L253.2 1445.2 L249.2 1449.3 L245.2 1453.3 L241.1 1457.4 Z" fill="#bcbcbc"/>
<g clip-path="url(#clipb)"><g filter="url(#hblur)">
<defs><linearGradient id="gb0" gradientUnits="userSpaceOnUse" x1="0" y1="1445" x2="0" y2="1472"><stop offset="0.000" stop-color="#555555"/><stop offset="0.926" stop-color="#464646"/><stop offset="1.000" stop-color="#464646"/></linearGradient><linearGradient id="gb1" gradientUnits="userSpaceOnUse" x1="0" y1="1437" x2="0" y2="1472"><stop offset="0.000" stop-color="#5a5a5a"/><stop offset="0.571" stop-color="#4e4e4e"/><stop offset="0.600" stop-color="#505050"/><stop offset="0.686" stop-color="#5b5b5b"/><stop offset="0.714" stop-color="#5c5c5c"/><stop offset="1.000" stop-color="#585858"/></linearGradient><linearGradient id="gb2" gradientUnits="userSpaceOnUse" x1="0" y1="1429" x2="0" y2="1472"><stop offset="0.000" stop-color="#5f5f5f"/><stop offset="0.465" stop-color="#535353"/><stop offset="0.488" stop-color="#555555"/><stop offset="0.628" stop-color="#686868"/><stop offset="0.744" stop-color="#767676"/><stop offset="0.767" stop-color="#777777"/><stop offset="1.000" stop-color="#747474"/></linearGradient><linearGradient id="gb3" gradientUnits="userSpaceOnUse" x1="0" y1="1421" x2="0" y2="1466"><stop offset="0.000" stop-color="#636363"/><stop offset="0.444" stop-color="#575757"/><stop offset="0.644" stop-color="#717171"/><stop offset="0.822" stop-color="#848484"/><stop offset="0.889" stop-color="#8a8a8a"/><stop offset="1.000" stop-color="#898989"/></linearGradient><linearGradient id="gb4" gradientUnits="userSpaceOnUse" x1="0" y1="1413" x2="0" y2="1460"><stop offset="0.000" stop-color="#696969"/><stop offset="0.426" stop-color="#5c5c5c"/><stop offset="0.574" stop-color="#707070"/><stop offset="0.702" stop-color="#7e7e7e"/><stop offset="0.851" stop-color="#8c8c8c"/><stop offset="1.000" stop-color="#979797"/></linearGradient><linearGradient id="gb5" gradientUnits="userSpaceOnUse" x1="0" y1="1405" x2="0" y2="1456"><stop offset="0.000" stop-color="#6f6f6f"/><stop offset="0.392" stop-color="#616161"/><stop offset="0.549" stop-color="#767676"/><stop offset="0.686" stop-color="#858585"/><stop offset="0.843" stop-color="#939393"/><stop offset="1.000" stop-color="#9d9d9d"/></linearGradient><linearGradient id="gb6" gradientUnits="userSpaceOnUse" x1="0" y1="1397" x2="0" y2="1450"><stop offset="0.000" stop-color="#757575"/><stop offset="0.377" stop-color="#666666"/><stop offset="0.547" stop-color="#7c7c7c"/><stop offset="0.679" stop-color="#8a8a8a"/><stop offset="0.830" stop-color="#969696"/><stop offset="1.000" stop-color="#a1a1a1"/></linearGradient><linearGradient id="gb7" gradientUnits="userSpaceOnUse" x1="0" y1="1389" x2="0" y2="1444"><stop offset="0.000" stop-color="#7b7b7b"/><stop offset="0.364" stop-color="#6c6c6c"/><stop offset="0.527" stop-color="#7f7f7f"/><stop offset="0.673" stop-color="#8e8e8e"/><stop offset="0.836" stop-color="#9b9b9b"/><stop offset="1.000" stop-color="#a4a4a4"/></linearGradient><linearGradient id="gb8" gradientUnits="userSpaceOnUse" x1="0" y1="1381" x2="0" y2="1439"><stop offset="0.000" stop-color="#818181"/><stop offset="0.345" stop-color="#727272"/><stop offset="0.517" stop-color="#858585"/><stop offset="0.655" stop-color="#929292"/><stop offset="0.828" stop-color="#9e9e9e"/><stop offset="1.000" stop-color="#a7a7a7"/></linearGradient><linearGradient id="gb9" gradientUnits="userSpaceOnUse" x1="0" y1="1373" x2="0" y2="1433"><stop offset="0.000" stop-color="#858585"/><stop offset="0.117" stop-color="#828282"/><stop offset="0.333" stop-color="#787878"/><stop offset="0.500" stop-color="#8a8a8a"/><stop offset="0.650" stop-color="#969696"/><stop offset="0.833" stop-color="#a2a2a2"/><stop offset="1.000" stop-color="#aaaaaa"/></linearGradient><linearGradient id="gb10" gradientUnits="userSpaceOnUse" x1="0" y1="1365" x2="0" y2="1427"><stop offset="0.000" stop-color="#888888"/><stop offset="0.242" stop-color="#828282"/><stop offset="0.323" stop-color="#7e7e7e"/><stop offset="0.500" stop-color="#8f8f8f"/><stop offset="0.645" stop-color="#9a9a9a"/><stop offset="0.806" stop-color="#a4a4a4"/><stop offset="1.000" stop-color="#acacac"/></linearGradient><linearGradient id="gb11" gradientUnits="userSpaceOnUse" x1="0" y1="1357" x2="0" y2="1423"><stop offset="0.000" stop-color="#8b8b8b"/><stop offset="0.303" stop-color="#838383"/><stop offset="0.455" stop-color="#929292"/><stop offset="0.621" stop-color="#9e9e9e"/><stop offset="0.803" stop-color="#a8a8a8"/><stop offset="1.000" stop-color="#afafaf"/></linearGradient><linearGradient id="gb12" gradientUnits="userSpaceOnUse" x1="0" y1="1349" x2="0" y2="1417"><stop offset="0.000" stop-color="#8e8e8e"/><stop offset="0.294" stop-color="#868686"/><stop offset="0.456" stop-color="#979797"/><stop offset="0.574" stop-color="#9f9f9f"/><stop offset="0.779" stop-color="#a9a9a9"/><stop offset="1.000" stop-color="#b1b1b1"/></linearGradient><linearGradient id="gb13" gradientUnits="userSpaceOnUse" x1="0" y1="1341" x2="0" y2="1411"><stop offset="0.000" stop-color="#919191"/><stop offset="0.286" stop-color="#898989"/><stop offset="0.429" stop-color="#989898"/><stop offset="0.557" stop-color="#a2a2a2"/><stop offset="0.771" stop-color="#ababab"/><stop offset="1.000" stop-color="#b3b3b3"/></linearGradient><linearGradient id="gb14" gradientUnits="userSpaceOnUse" x1="0" y1="1333" x2="0" y2="1407"><stop offset="0.000" stop-color="#949494"/><stop offset="0.270" stop-color="#8c8c8c"/><stop offset="0.432" stop-color="#9c9c9c"/><stop offset="0.608" stop-color="#a8a8a8"/><stop offset="0.784" stop-color="#afafaf"/><stop offset="1.000" stop-color="#b5b5b5"/></linearGradient><linearGradient id="gb15" gradientUnits="userSpaceOnUse" x1="0" y1="1325" x2="0" y2="1401"><stop offset="0.000" stop-color="#979797"/><stop offset="0.263" stop-color="#8f8f8f"/><stop offset="0.421" stop-color="#9e9e9e"/><stop offset="0.592" stop-color="#a9a9a9"/><stop offset="0.724" stop-color="#afafaf"/><stop offset="1.000" stop-color="#b6b6b6"/></linearGradient><linearGradient id="gb16" gradientUnits="userSpaceOnUse" x1="0" y1="1317" x2="0" y2="1396"><stop offset="0.000" stop-color="#9a9a9a"/><stop offset="0.253" stop-color="#929292"/><stop offset="0.418" stop-color="#a1a1a1"/><stop offset="0.582" stop-color="#ababab"/><stop offset="0.797" stop-color="#b3b3b3"/><stop offset="1.000" stop-color="#b7b7b7"/></linearGradient><linearGradient id="gb17" gradientUnits="userSpaceOnUse" x1="0" y1="1309" x2="0" y2="1392"><stop offset="0.000" stop-color="#9d9d9d"/><stop offset="0.241" stop-color="#959595"/><stop offset="0.398" stop-color="#a3a3a3"/><stop offset="0.578" stop-color="#adadad"/><stop offset="0.783" stop-color="#b4b4b4"/><stop offset="1.000" stop-color="#b8b8b8"/></linearGradient><linearGradient id="gb18" gradientUnits="userSpaceOnUse" x1="0" y1="1301" x2="0" y2="1387"><stop offset="0.000" stop-color="#a0a0a0"/><stop offset="0.233" stop-color="#989898"/><stop offset="0.395" stop-color="#a5a5a5"/><stop offset="0.570" stop-color="#afafaf"/><stop offset="0.767" stop-color="#b5b5b5"/><stop offset="1.000" stop-color="#b9b9b9"/></linearGradient><linearGradient id="gb19" gradientUnits="userSpaceOnUse" x1="0" y1="1292" x2="0" y2="1383"><stop offset="0.000" stop-color="#a2a2a2"/><stop offset="0.231" stop-color="#9b9b9b"/><stop offset="0.385" stop-color="#a7a7a7"/><stop offset="0.560" stop-color="#b0b0b0"/><stop offset="0.758" stop-color="#b6b6b6"/><stop offset="1.000" stop-color="#bababa"/></linearGradient><linearGradient id="gb20" gradientUnits="userSpaceOnUse" x1="0" y1="1284" x2="0" y2="1378"><stop offset="0.000" stop-color="#a5a5a5"/><stop offset="0.223" stop-color="#9e9e9e"/><stop offset="0.383" stop-color="#a9a9a9"/><stop offset="0.553" stop-color="#b1b1b1"/><stop offset="0.755" stop-color="#b7b7b7"/><stop offset="1.000" stop-color="#bbbbbb"/></linearGradient><linearGradient id="gb21" gradientUnits="userSpaceOnUse" x1="0" y1="1276" x2="0" y2="1373"><stop offset="0.000" stop-color="#a7a7a7"/><stop offset="0.216" stop-color="#a1a1a1"/><stop offset="0.371" stop-color="#ababab"/><stop offset="0.557" stop-color="#b3b3b3"/><stop offset="0.753" stop-color="#b8b8b8"/><stop offset="1.000" stop-color="#bbbbbb"/></linearGradient><linearGradient id="gb22" gradientUnits="userSpaceOnUse" x1="0" y1="1268" x2="0" y2="1370"><stop offset="0.000" stop-color="#aaaaaa"/><stop offset="0.206" stop-color="#a4a4a4"/><stop offset="0.343" stop-color="#acacac"/><stop offset="0.539" stop-color="#b4b4b4"/><stop offset="0.745" stop-color="#b9b9b9"/><stop offset="1.000" stop-color="#bcbcbc"/></linearGradient><linearGradient id="gb23" gradientUnits="userSpaceOnUse" x1="0" y1="1260" x2="0" y2="1365"><stop offset="0.000" stop-color="#acacac"/><stop offset="0.190" stop-color="#a6a6a6"/><stop offset="0.371" stop-color="#b0b0b0"/><stop offset="0.533" stop-color="#b5b5b5"/><stop offset="0.743" stop-color="#b9b9b9"/><stop offset="1.000" stop-color="#bcbcbc"/></linearGradient><linearGradient id="gb24" gradientUnits="userSpaceOnUse" x1="0" y1="1252" x2="0" y2="1361"><stop offset="0.000" stop-color="#aeaeae"/><stop offset="0.183" stop-color="#a8a8a8"/><stop offset="0.358" stop-color="#b1b1b1"/><stop offset="0.523" stop-color="#b6b6b6"/><stop offset="0.734" stop-color="#bababa"/><stop offset="1.000" stop-color="#bcbcbc"/></linearGradient><linearGradient id="gb25" gradientUnits="userSpaceOnUse" x1="0" y1="1243" x2="0" y2="1358"><stop offset="0.000" stop-color="#b1b1b1"/><stop offset="0.183" stop-color="#ababab"/><stop offset="0.348" stop-color="#b2b2b2"/><stop offset="0.513" stop-color="#b7b7b7"/><stop offset="0.730" stop-color="#bbbbbb"/><stop offset="1.000" stop-color="#bdbdbd"/></linearGradient><linearGradient id="gb26" gradientUnits="userSpaceOnUse" x1="0" y1="1235" x2="0" y2="1354"><stop offset="0.000" stop-color="#b4b4b4"/><stop offset="0.176" stop-color="#adadad"/><stop offset="0.361" stop-color="#b4b4b4"/><stop offset="0.538" stop-color="#b9b9b9"/><stop offset="1.000" stop-color="#bdbdbd"/></linearGradient><linearGradient id="gb27" gradientUnits="userSpaceOnUse" x1="0" y1="1227" x2="0" y2="1351"><stop offset="0.000" stop-color="#b6b6b6"/><stop offset="0.169" stop-color="#b0b0b0"/><stop offset="0.548" stop-color="#bababa"/><stop offset="1.000" stop-color="#bdbdbd"/></linearGradient><linearGradient id="gb28" gradientUnits="userSpaceOnUse" x1="0" y1="1218" x2="0" y2="1348"><stop offset="0.000" stop-color="#b9b9b9"/><stop offset="0.162" stop-color="#b2b2b2"/><stop offset="0.569" stop-color="#bababa"/><stop offset="1.000" stop-color="#bdbdbd"/></linearGradient><linearGradient id="gb29" gradientUnits="userSpaceOnUse" x1="0" y1="1210" x2="0" y2="1345"><stop offset="0.000" stop-color="#bbbbbb"/><stop offset="0.156" stop-color="#b5b5b5"/><stop offset="0.593" stop-color="#bbbbbb"/><stop offset="1.000" stop-color="#bdbdbd"/></linearGradient><linearGradient id="gb30" gradientUnits="userSpaceOnUse" x1="0" y1="1202" x2="0" y2="1342"><stop offset="0.000" stop-color="#bdbdbd"/><stop offset="0.171" stop-color="#b7b7b7"/><stop offset="0.629" stop-color="#bcbcbc"/><stop offset="1.000" stop-color="#bebebe"/></linearGradient><linearGradient id="gb31" gradientUnits="userSpaceOnUse" x1="0" y1="1193" x2="0" y2="1340"><stop offset="0.000" stop-color="#bebebe"/><stop offset="0.048" stop-color="#bebebe"/><stop offset="0.143" stop-color="#bababa"/><stop offset="0.224" stop-color="#b9b9b9"/><stop offset="1.000" stop-color="#bebebe"/></linearGradient><linearGradient id="gb32" gradientUnits="userSpaceOnUse" x1="0" y1="1185" x2="0" y2="1338"><stop offset="0.000" stop-color="#bebebe"/><stop offset="0.098" stop-color="#bebebe"/><stop offset="0.170" stop-color="#bbbbbb"/><stop offset="0.268" stop-color="#bababa"/><stop offset="1.000" stop-color="#bebebe"/></linearGradient><linearGradient id="gb33" gradientUnits="userSpaceOnUse" x1="0" y1="1176" x2="0" y2="1335"><stop offset="0.000" stop-color="#bebebe"/><stop offset="0.151" stop-color="#bebebe"/><stop offset="0.314" stop-color="#bbbbbb"/><stop offset="1.000" stop-color="#bebebe"/></linearGradient><linearGradient id="gb34" gradientUnits="userSpaceOnUse" x1="0" y1="1168" x2="0" y2="1334"><stop offset="0.000" stop-color="#bebebe"/><stop offset="0.193" stop-color="#bebebe"/><stop offset="0.349" stop-color="#bcbcbc"/><stop offset="1.000" stop-color="#bebebe"/></linearGradient><linearGradient id="gb35" gradientUnits="userSpaceOnUse" x1="0" y1="1159" x2="0" y2="1332"><stop offset="0.000" stop-color="#bebebe"/><stop offset="0.387" stop-color="#bdbdbd"/><stop offset="1.000" stop-color="#bebebe"/></linearGradient><linearGradient id="gb36" gradientUnits="userSpaceOnUse" x1="0" y1="1151" x2="0" y2="1331"><stop offset="0.000" stop-color="#bebebe"/><stop offset="1.000" stop-color="#bebebe"/></linearGradient><linearGradient id="gb37" gradientUnits="userSpaceOnUse" x1="0" y1="1142" x2="0" y2="1329"><stop offset="0.000" stop-color="#bebebe"/><stop offset="1.000" stop-color="#bebebe"/></linearGradient><linearGradient id="gb38" gradientUnits="userSpaceOnUse" x1="0" y1="1133" x2="0" y2="1328"><stop offset="0.000" stop-color="#bebebe"/><stop offset="1.000" stop-color="#bebebe"/></linearGradient><linearGradient id="gb39" gradientUnits="userSpaceOnUse" x1="0" y1="1126" x2="0" y2="1328"><stop offset="0.000" stop-color="#bebebe"/><stop offset="1.000" stop-color="#bebebe"/></linearGradient><linearGradient id="gb40" gradientUnits="userSpaceOnUse" x1="0" y1="1118" x2="0" y2="1327"><stop offset="0.000" stop-color="#bebebe"/><stop offset="1.000" stop-color="#bebebe"/></linearGradient><linearGradient id="gb41" gradientUnits="userSpaceOnUse" x1="0" y1="1113" x2="0" y2="1327"><stop offset="0.000" stop-color="#bebebe"/><stop offset="1.000" stop-color="#bebebe"/></linearGradient><linearGradient id="gb42" gradientUnits="userSpaceOnUse" x1="0" y1="1106" x2="0" y2="1327"><stop offset="0.000" stop-color="#bfbfbf"/><stop offset="1.000" stop-color="#bebebe"/></linearGradient><linearGradient id="gb43" gradientUnits="userSpaceOnUse" x1="0" y1="1099" x2="0" y2="1328"><stop offset="0.000" stop-color="#bfbfbf"/><stop offset="1.000" stop-color="#bebebe"/></linearGradient><linearGradient id="gb44" gradientUnits="userSpaceOnUse" x1="0" y1="1094" x2="0" y2="1328"><stop offset="0.000" stop-color="#c0c0c0"/><stop offset="1.000" stop-color="#bebebe"/></linearGradient><linearGradient id="gb45" gradientUnits="userSpaceOnUse" x1="0" y1="1087" x2="0" y2="1329"><stop offset="0.000" stop-color="#c0c0c0"/><stop offset="1.000" stop-color="#bebebe"/></linearGradient><linearGradient id="gb46" gradientUnits="userSpaceOnUse" x1="0" y1="1082" x2="0" y2="1331"><stop offset="0.000" stop-color="#c0c0c0"/><stop offset="0.129" stop-color="#c1c1c1"/><stop offset="0.442" stop-color="#bebebe"/><stop offset="1.000" stop-color="#bebebe"/></linearGradient><linearGradient id="gb47" gradientUnits="userSpaceOnUse" x1="0" y1="1076" x2="0" y2="1332"><stop offset="0.000" stop-color="#c1c1c1"/><stop offset="0.145" stop-color="#c2c2c2"/><stop offset="0.453" stop-color="#bebebe"/><stop offset="1.000" stop-color="#bebebe"/></linearGradient><linearGradient id="gb48" gradientUnits="userSpaceOnUse" x1="0" y1="1071" x2="0" y2="1334"><stop offset="0.000" stop-color="#c1c1c1"/><stop offset="0.160" stop-color="#c3c3c3"/><stop offset="0.460" stop-color="#bebebe"/><stop offset="1.000" stop-color="#bebebe"/></linearGradient><linearGradient id="gb49" gradientUnits="userSpaceOnUse" x1="0" y1="1066" x2="0" y2="1335"><stop offset="0.000" stop-color="#c0c0c0"/><stop offset="0.175" stop-color="#c3c3c3"/><stop offset="0.472" stop-color="#bebebe"/><stop offset="1.000" stop-color="#bebebe"/></linearGradient><linearGradient id="gb50" gradientUnits="userSpaceOnUse" x1="0" y1="1061" x2="0" y2="1337"><stop offset="0.000" stop-color="#c0c0c0"/><stop offset="0.192" stop-color="#c3c3c3"/><stop offset="0.482" stop-color="#bebebe"/><stop offset="1.000" stop-color="#bebebe"/></linearGradient><linearGradient id="gb51" gradientUnits="userSpaceOnUse" x1="0" y1="1057" x2="0" y2="1340"><stop offset="0.000" stop-color="#c0c0c0"/><stop offset="0.208" stop-color="#c3c3c3"/><stop offset="0.491" stop-color="#bebebe"/><stop offset="1.000" stop-color="#bebebe"/></linearGradient><linearGradient id="gb52" gradientUnits="userSpaceOnUse" x1="0" y1="1052" x2="0" y2="1342"><stop offset="0.000" stop-color="#bfbfbf"/><stop offset="0.234" stop-color="#c2c2c2"/><stop offset="0.503" stop-color="#bebebe"/><stop offset="1.000" stop-color="#bebebe"/></linearGradient><linearGradient id="gb53" gradientUnits="userSpaceOnUse" x1="0" y1="1047" x2="0" y2="1344"><stop offset="0.000" stop-color="#bfbfbf"/><stop offset="0.273" stop-color="#c1c1c1"/><stop offset="0.522" stop-color="#bebebe"/><stop offset="1.000" stop-color="#bebebe"/></linearGradient><linearGradient id="gb54" gradientUnits="userSpaceOnUse" x1="0" y1="1043" x2="0" y2="1347"><stop offset="0.000" stop-color="#bebebe"/><stop offset="0.316" stop-color="#c0c0c0"/><stop offset="0.536" stop-color="#bebebe"/><stop offset="1.000" stop-color="#bebebe"/></linearGradient><linearGradient id="gb55" gradientUnits="userSpaceOnUse" x1="0" y1="1039" x2="0" y2="1350"><stop offset="0.000" stop-color="#bebebe"/><stop offset="0.170" stop-color="#bdbdbd"/><stop offset="0.350" stop-color="#bfbfbf"/><stop offset="1.000" stop-color="#bebebe"/></linearGradient><linearGradient id="gb56" gradientUnits="userSpaceOnUse" x1="0" y1="1035" x2="0" y2="1353"><stop offset="0.000" stop-color="#bebebe"/><stop offset="0.189" stop-color="#bbbbbb"/><stop offset="0.377" stop-color="#bebebe"/><stop offset="1.000" stop-color="#bebebe"/></linearGradient><linearGradient id="gb57" gradientUnits="userSpaceOnUse" x1="0" y1="1031" x2="0" y2="1357"><stop offset="0.000" stop-color="#bebebe"/><stop offset="0.202" stop-color="#bababa"/><stop offset="0.396" stop-color="#bebebe"/><stop offset="1.000" stop-color="#bebebe"/></linearGradient><linearGradient id="gb58" gradientUnits="userSpaceOnUse" x1="0" y1="1027" x2="0" y2="1360"><stop offset="0.000" stop-color="#bebebe"/><stop offset="0.213" stop-color="#bababa"/><stop offset="0.408" stop-color="#bebebe"/><stop offset="1.000" stop-color="#bebebe"/></linearGradient><linearGradient id="gb59" gradientUnits="userSpaceOnUse" x1="0" y1="1025" x2="0" y2="1363"><stop offset="0.000" stop-color="#bebebe"/><stop offset="0.219" stop-color="#bababa"/><stop offset="0.414" stop-color="#bebebe"/><stop offset="1.000" stop-color="#bebebe"/></linearGradient><linearGradient id="gb60" gradientUnits="userSpaceOnUse" x1="0" y1="1021" x2="0" y2="1367"><stop offset="0.000" stop-color="#bebebe"/><stop offset="0.225" stop-color="#bababa"/><stop offset="0.422" stop-color="#bebebe"/><stop offset="1.000" stop-color="#bebebe"/></linearGradient><linearGradient id="gb61" gradientUnits="userSpaceOnUse" x1="0" y1="1019" x2="0" y2="1372"><stop offset="0.000" stop-color="#bebebe"/><stop offset="0.227" stop-color="#bbbbbb"/><stop offset="0.422" stop-color="#bebebe"/><stop offset="1.000" stop-color="#bebebe"/></linearGradient><linearGradient id="gb62" gradientUnits="userSpaceOnUse" x1="0" y1="1016" x2="0" y2="1375"><stop offset="0.000" stop-color="#bebebe"/><stop offset="0.234" stop-color="#bcbcbc"/><stop offset="0.426" stop-color="#bebebe"/><stop offset="1.000" stop-color="#bebebe"/></linearGradient><linearGradient id="gb63" gradientUnits="userSpaceOnUse" x1="0" y1="1013" x2="0" y2="1380"><stop offset="0.000" stop-color="#bebebe"/><stop offset="0.237" stop-color="#bdbdbd"/><stop offset="1.000" stop-color="#bebebe"/></linearGradient><linearGradient id="gb64" gradientUnits="userSpaceOnUse" x1="0" y1="1011" x2="0" y2="1384"><stop offset="0.000" stop-color="#bebebe"/><stop offset="1.000" stop-color="#bebebe"/></linearGradient><linearGradient id="gb65" gradientUnits="userSpaceOnUse" x1="0" y1="1008" x2="0" y2="1388"><stop offset="0.000" stop-color="#bebebe"/><stop offset="1.000" stop-color="#bebebe"/></linearGradient><linearGradient id="gb66" gradientUnits="userSpaceOnUse" x1="0" y1="1006" x2="0" y2="1393"><stop offset="0.000" stop-color="#bebebe"/><stop offset="1.000" stop-color="#bebebe"/></linearGradient><linearGradient id="gb67" gradientUnits="userSpaceOnUse" x1="0" y1="1004" x2="0" y2="1398"><stop offset="0.000" stop-color="#bebebe"/><stop offset="1.000" stop-color="#bebebe"/></linearGradient><linearGradient id="gb68" gradientUnits="userSpaceOnUse" x1="0" y1="1003" x2="0" y2="1403"><stop offset="0.000" stop-color="#bebebe"/><stop offset="1.000" stop-color="#bebebe"/></linearGradient><linearGradient id="gb69" gradientUnits="userSpaceOnUse" x1="0" y1="1001" x2="0" y2="1409"><stop offset="0.000" stop-color="#bebebe"/><stop offset="1.000" stop-color="#bebebe"/></linearGradient><linearGradient id="gb70" gradientUnits="userSpaceOnUse" x1="0" y1="1000" x2="0" y2="1413"><stop offset="0.000" stop-color="#bfbfbf"/><stop offset="0.123" stop-color="#c0c0c0"/><stop offset="0.320" stop-color="#bebebe"/><stop offset="1.000" stop-color="#bebebe"/></linearGradient><linearGradient id="gb71" gradientUnits="userSpaceOnUse" x1="0" y1="999" x2="0" y2="1419"><stop offset="0.000" stop-color="#bfbfbf"/><stop offset="0.124" stop-color="#c1c1c1"/><stop offset="0.319" stop-color="#bebebe"/><stop offset="1.000" stop-color="#bebebe"/></linearGradient><linearGradient id="gb72" gradientUnits="userSpaceOnUse" x1="0" y1="998" x2="0" y2="1425"><stop offset="0.000" stop-color="#bfbfbf"/><stop offset="0.124" stop-color="#c1c1c1"/><stop offset="0.316" stop-color="#bebebe"/><stop offset="1.000" stop-color="#bebebe"/></linearGradient><linearGradient id="gb73" gradientUnits="userSpaceOnUse" x1="0" y1="997" x2="0" y2="1430"><stop offset="0.000" stop-color="#bfbfbf"/><stop offset="0.125" stop-color="#c2c2c2"/><stop offset="0.314" stop-color="#bebebe"/><stop offset="1.000" stop-color="#bebebe"/></linearGradient><linearGradient id="gb74" gradientUnits="userSpaceOnUse" x1="0" y1="996" x2="0" y2="1436"><stop offset="0.000" stop-color="#bfbfbf"/><stop offset="0.125" stop-color="#c3c3c3"/><stop offset="0.311" stop-color="#bebebe"/><stop offset="1.000" stop-color="#bebebe"/></linearGradient><linearGradient id="gb75" gradientUnits="userSpaceOnUse" x1="0" y1="996" x2="0" y2="1443"><stop offset="0.000" stop-color="#bfbfbf"/><stop offset="0.123" stop-color="#c4c4c4"/><stop offset="0.306" stop-color="#bebebe"/><stop offset="1.000" stop-color="#bdbdbd"/></linearGradient><linearGradient id="gb76" gradientUnits="userSpaceOnUse" x1="0" y1="996" x2="0" y2="1448"><stop offset="0.000" stop-color="#c0c0c0"/><stop offset="0.122" stop-color="#c5c5c5"/><stop offset="0.301" stop-color="#bebebe"/><stop offset="1.000" stop-color="#bdbdbd"/></linearGradient><linearGradient id="gb77" gradientUnits="userSpaceOnUse" x1="0" y1="995" x2="0" y2="1455"><stop offset="0.000" stop-color="#c0c0c0"/><stop offset="0.122" stop-color="#c5c5c5"/><stop offset="0.296" stop-color="#bebebe"/><stop offset="0.813" stop-color="#bebebe"/><stop offset="1.000" stop-color="#bcbcbc"/></linearGradient><linearGradient id="gb78" gradientUnits="userSpaceOnUse" x1="0" y1="995" x2="0" y2="1462"><stop offset="0.000" stop-color="#c0c0c0"/><stop offset="0.086" stop-color="#c5c5c5"/><stop offset="0.122" stop-color="#c6c6c6"/><stop offset="0.285" stop-color="#bebebe"/><stop offset="0.803" stop-color="#bebebe"/><stop offset="1.000" stop-color="#b9b9b9"/></linearGradient><linearGradient id="gb79" gradientUnits="userSpaceOnUse" x1="0" y1="995" x2="0" y2="1468"><stop offset="0.000" stop-color="#c0c0c0"/><stop offset="0.085" stop-color="#c5c5c5"/><stop offset="0.123" stop-color="#c6c6c6"/><stop offset="0.275" stop-color="#bebebe"/><stop offset="0.795" stop-color="#bdbdbd"/><stop offset="0.879" stop-color="#bcbcbc"/><stop offset="1.000" stop-color="#b6b6b6"/></linearGradient><linearGradient id="gb80" gradientUnits="userSpaceOnUse" x1="0" y1="995" x2="0" y2="1475"><stop offset="0.000" stop-color="#c0c0c0"/><stop offset="0.117" stop-color="#c6c6c6"/><stop offset="0.283" stop-color="#bebebe"/><stop offset="0.773" stop-color="#bdbdbd"/><stop offset="0.865" stop-color="#bababa"/><stop offset="1.000" stop-color="#b1b1b1"/></linearGradient><linearGradient id="gb81" gradientUnits="userSpaceOnUse" x1="0" y1="996" x2="0" y2="1482"><stop offset="0.000" stop-color="#c0c0c0"/><stop offset="0.113" stop-color="#c5c5c5"/><stop offset="0.278" stop-color="#bebebe"/><stop offset="0.759" stop-color="#bdbdbd"/><stop offset="0.850" stop-color="#b9b9b9"/><stop offset="1.000" stop-color="#ababab"/></linearGradient><linearGradient id="gb82" gradientUnits="userSpaceOnUse" x1="0" y1="996" x2="0" y2="1488"><stop offset="0.000" stop-color="#c0c0c0"/><stop offset="0.112" stop-color="#c5c5c5"/><stop offset="0.276" stop-color="#bebebe"/><stop offset="0.750" stop-color="#bdbdbd"/><stop offset="0.835" stop-color="#b8b8b8"/><stop offset="0.955" stop-color="#a8a8a8"/><stop offset="1.000" stop-color="#a4a4a4"/></linearGradient><linearGradient id="gb83" gradientUnits="userSpaceOnUse" x1="0" y1="996" x2="0" y2="1496"><stop offset="0.000" stop-color="#bfbfbf"/><stop offset="0.110" stop-color="#c4c4c4"/><stop offset="0.274" stop-color="#bebebe"/><stop offset="0.628" stop-color="#bebebe"/><stop offset="0.738" stop-color="#bdbdbd"/><stop offset="0.818" stop-color="#b7b7b7"/><stop offset="0.948" stop-color="#a1a1a1"/><stop offset="1.000" stop-color="#9d9d9d"/></linearGradient><linearGradient id="gb84" gradientUnits="userSpaceOnUse" x1="0" y1="997" x2="0" y2="1502"><stop offset="0.000" stop-color="#bfbfbf"/><stop offset="0.109" stop-color="#c3c3c3"/><stop offset="0.273" stop-color="#bdbdbd"/><stop offset="0.606" stop-color="#bebebe"/><stop offset="0.727" stop-color="#bcbcbc"/><stop offset="0.774" stop-color="#b9b9b9"/><stop offset="0.816" stop-color="#b4b4b4"/><stop offset="0.949" stop-color="#9a9a9a"/><stop offset="0.974" stop-color="#979797"/><stop offset="1.000" stop-color="#979797"/></linearGradient><linearGradient id="gb85" gradientUnits="userSpaceOnUse" x1="0" y1="998" x2="0" y2="1511"><stop offset="0.000" stop-color="#bfbfbf"/><stop offset="0.105" stop-color="#c2c2c2"/><stop offset="0.269" stop-color="#bdbdbd"/><stop offset="0.569" stop-color="#bebebe"/><stop offset="0.712" stop-color="#bcbcbc"/><stop offset="0.758" stop-color="#b9b9b9"/><stop offset="0.799" stop-color="#b3b3b3"/><stop offset="0.906" stop-color="#9b9b9b"/><stop offset="0.936" stop-color="#959595"/><stop offset="0.969" stop-color="#939393"/><stop offset="1.000" stop-color="#949494"/></linearGradient><linearGradient id="gb86" gradientUnits="userSpaceOnUse" x1="0" y1="999" x2="0" y2="1511"><stop offset="0.000" stop-color="#bfbfbf"/><stop offset="0.104" stop-color="#c1c1c1"/><stop offset="0.270" stop-color="#bcbcbc"/><stop offset="0.439" stop-color="#bebebe"/><stop offset="0.635" stop-color="#bebebe"/><stop offset="0.711" stop-color="#bcbcbc"/><stop offset="0.758" stop-color="#b9b9b9"/><stop offset="0.799" stop-color="#b3b3b3"/><stop offset="0.834" stop-color="#acacac"/><stop offset="0.906" stop-color="#999999"/><stop offset="0.936" stop-color="#949494"/><stop offset="0.969" stop-color="#919191"/><stop offset="1.000" stop-color="#939393"/></linearGradient><linearGradient id="gb87" gradientUnits="userSpaceOnUse" x1="0" y1="1000" x2="0" y2="1511"><stop offset="0.000" stop-color="#bfbfbf"/><stop offset="0.117" stop-color="#c0c0c0"/><stop offset="0.272" stop-color="#bbbbbb"/><stop offset="0.436" stop-color="#bebebe"/><stop offset="0.644" stop-color="#bebebe"/><stop offset="0.724" stop-color="#bcbcbc"/><stop offset="0.785" stop-color="#b5b5b5"/><stop offset="0.841" stop-color="#aaaaaa"/><stop offset="0.906" stop-color="#999999"/><stop offset="0.947" stop-color="#878787"/><stop offset="0.957" stop-color="#848484"/><stop offset="0.977" stop-color="#838383"/><stop offset="1.000" stop-color="#848484"/></linearGradient><linearGradient id="gb88" gradientUnits="userSpaceOnUse" x1="0" y1="1002" x2="0" y2="1503"><stop offset="0.000" stop-color="#bfbfbf"/><stop offset="0.128" stop-color="#c0c0c0"/><stop offset="0.273" stop-color="#bababa"/><stop offset="0.425" stop-color="#bebebe"/><stop offset="0.653" stop-color="#bebebe"/><stop offset="0.741" stop-color="#bbbbbb"/><stop offset="0.794" stop-color="#b6b6b6"/><stop offset="0.848" stop-color="#adadad"/><stop offset="0.908" stop-color="#9e9e9e"/><stop offset="0.958" stop-color="#878787"/><stop offset="0.976" stop-color="#858585"/><stop offset="1.000" stop-color="#858585"/></linearGradient><linearGradient id="gb89" gradientUnits="userSpaceOnUse" x1="0" y1="1003" x2="0" y2="1496"><stop offset="0.000" stop-color="#bebebe"/><stop offset="0.142" stop-color="#bfbfbf"/><stop offset="0.276" stop-color="#b9b9b9"/><stop offset="0.422" stop-color="#bebebe"/><stop offset="0.665" stop-color="#bebebe"/><stop offset="0.757" stop-color="#bbbbbb"/><stop offset="0.819" stop-color="#b6b6b6"/><stop offset="0.882" stop-color="#ababab"/><stop offset="0.915" stop-color="#a2a2a2"/><stop offset="0.957" stop-color="#8c8c8c"/><stop offset="1.000" stop-color="#898989"/></linearGradient><linearGradient id="gb90" gradientUnits="userSpaceOnUse" x1="0" y1="1005" x2="0" y2="1490"><stop offset="0.000" stop-color="#bebebe"/><stop offset="0.153" stop-color="#bebebe"/><stop offset="0.276" stop-color="#b9b9b9"/><stop offset="0.421" stop-color="#bebebe"/><stop offset="0.674" stop-color="#bebebe"/><stop offset="0.771" stop-color="#bcbcbc"/><stop offset="0.833" stop-color="#b7b7b7"/><stop offset="0.889" stop-color="#afafaf"/><stop offset="0.915" stop-color="#a7a7a7"/><stop offset="0.946" stop-color="#969696"/><stop offset="0.957" stop-color="#929292"/><stop offset="1.000" stop-color="#8f8f8f"/></linearGradient><linearGradient id="gb91" gradientUnits="userSpaceOnUse" x1="0" y1="1007" x2="0" y2="1483"><stop offset="0.000" stop-color="#bebebe"/><stop offset="0.158" stop-color="#bebebe"/><stop offset="0.277" stop-color="#b8b8b8"/><stop offset="0.420" stop-color="#bebebe"/><stop offset="0.687" stop-color="#bebebe"/><stop offset="0.790" stop-color="#bcbcbc"/><stop offset="0.849" stop-color="#b8b8b8"/><stop offset="0.893" stop-color="#b3b3b3"/><stop offset="0.916" stop-color="#adadad"/><stop offset="0.945" stop-color="#9e9e9e"/><stop offset="0.956" stop-color="#999999"/><stop offset="1.000" stop-color="#969696"/></linearGradient><linearGradient id="gb92" gradientUnits="userSpaceOnUse" x1="0" y1="1009" x2="0" y2="1476"><stop offset="0.000" stop-color="#bebebe"/><stop offset="0.158" stop-color="#bebebe"/><stop offset="0.281" stop-color="#b7b7b7"/><stop offset="0.375" stop-color="#bdbdbd"/><stop offset="0.422" stop-color="#bebebe"/><stop offset="0.702" stop-color="#bebebe"/><stop offset="0.814" stop-color="#bcbcbc"/><stop offset="0.895" stop-color="#b7b7b7"/><stop offset="0.916" stop-color="#b1b1b1"/><stop offset="0.955" stop-color="#a0a0a0"/><stop offset="1.000" stop-color="#9d9d9d"/></linearGradient><linearGradient id="gb93" gradientUnits="userSpaceOnUse" x1="0" y1="1011" x2="0" y2="1469"><stop offset="0.000" stop-color="#bebebe"/><stop offset="0.159" stop-color="#bebebe"/><stop offset="0.282" stop-color="#b6b6b6"/><stop offset="0.378" stop-color="#bcbcbc"/><stop offset="0.426" stop-color="#bebebe"/><stop offset="0.721" stop-color="#bebebe"/><stop offset="0.841" stop-color="#bcbcbc"/><stop offset="0.897" stop-color="#b9b9b9"/><stop offset="0.917" stop-color="#b4b4b4"/><stop offset="0.954" stop-color="#a6a6a6"/><stop offset="1.000" stop-color="#a3a3a3"/></linearGradient><linearGradient id="gb94" gradientUnits="userSpaceOnUse" x1="0" y1="1013" x2="0" y2="1463"><stop offset="0.000" stop-color="#bebebe"/><stop offset="0.160" stop-color="#bdbdbd"/><stop offset="0.282" stop-color="#b6b6b6"/><stop offset="0.380" stop-color="#bcbcbc"/><stop offset="0.427" stop-color="#bebebe"/><stop offset="0.858" stop-color="#bdbdbd"/><stop offset="0.887" stop-color="#bcbcbc"/><stop offset="0.904" stop-color="#b9b9b9"/><stop offset="0.953" stop-color="#aaaaaa"/><stop offset="1.000" stop-color="#a8a8a8"/></linearGradient><linearGradient id="gb95" gradientUnits="userSpaceOnUse" x1="0" y1="1016" x2="0" y2="1456"><stop offset="0.000" stop-color="#bebebe"/><stop offset="0.159" stop-color="#bdbdbd"/><stop offset="0.282" stop-color="#b6b6b6"/><stop offset="0.382" stop-color="#bcbcbc"/><stop offset="0.427" stop-color="#bebebe"/><stop offset="0.864" stop-color="#bdbdbd"/><stop offset="0.905" stop-color="#bababa"/><stop offset="0.952" stop-color="#aeaeae"/><stop offset="1.000" stop-color="#acacac"/></linearGradient><linearGradient id="gb96" gradientUnits="userSpaceOnUse" x1="0" y1="1019" x2="0" y2="1449"><stop offset="0.000" stop-color="#bebebe"/><stop offset="0.156" stop-color="#bdbdbd"/><stop offset="0.281" stop-color="#b6b6b6"/><stop offset="0.384" stop-color="#bcbcbc"/><stop offset="0.430" stop-color="#bebebe"/><stop offset="0.865" stop-color="#bebebe"/><stop offset="0.902" stop-color="#bbbbbb"/><stop offset="0.951" stop-color="#b1b1b1"/><stop offset="1.000" stop-color="#b0b0b0"/></linearGradient><linearGradient id="gb97" gradientUnits="userSpaceOnUse" x1="0" y1="1022" x2="0" y2="1442"><stop offset="0.000" stop-color="#bebebe"/><stop offset="0.152" stop-color="#bdbdbd"/><stop offset="0.281" stop-color="#b7b7b7"/><stop offset="0.431" stop-color="#bebebe"/><stop offset="0.864" stop-color="#bebebe"/><stop offset="0.902" stop-color="#bcbcbc"/><stop offset="0.950" stop-color="#b4b4b4"/><stop offset="1.000" stop-color="#b3b3b3"/></linearGradient><linearGradient id="gb98" gradientUnits="userSpaceOnUse" x1="0" y1="1025" x2="0" y2="1435"><stop offset="0.000" stop-color="#bebebe"/><stop offset="0.151" stop-color="#bdbdbd"/><stop offset="0.280" stop-color="#b7b7b7"/><stop offset="0.434" stop-color="#bebebe"/><stop offset="0.861" stop-color="#bebebe"/><stop offset="0.900" stop-color="#bcbcbc"/><stop offset="0.949" stop-color="#b6b6b6"/><stop offset="1.000" stop-color="#b6b6b6"/></linearGradient><linearGradient id="gb99" gradientUnits="userSpaceOnUse" x1="0" y1="1028" x2="0" y2="1428"><stop offset="0.000" stop-color="#bebebe"/><stop offset="0.147" stop-color="#bdbdbd"/><stop offset="0.280" stop-color="#b8b8b8"/><stop offset="0.435" stop-color="#bebebe"/><stop offset="0.858" stop-color="#bebebe"/><stop offset="0.897" stop-color="#bdbdbd"/><stop offset="0.948" stop-color="#b8b8b8"/><stop offset="1.000" stop-color="#b8b8b8"/></linearGradient><linearGradient id="gb100" gradientUnits="userSpaceOnUse" x1="0" y1="1032" x2="0" y2="1422"><stop offset="0.000" stop-color="#bebebe"/><stop offset="0.144" stop-color="#bdbdbd"/><stop offset="0.277" stop-color="#b9b9b9"/><stop offset="0.436" stop-color="#bebebe"/><stop offset="0.854" stop-color="#bebebe"/><stop offset="0.892" stop-color="#bdbdbd"/><stop offset="0.944" stop-color="#bababa"/><stop offset="1.000" stop-color="#b9b9b9"/></linearGradient><linearGradient id="gb101" gradientUnits="userSpaceOnUse" x1="0" y1="1035" x2="0" y2="1415"><stop offset="0.000" stop-color="#bebebe"/><stop offset="0.139" stop-color="#bebebe"/><stop offset="0.274" stop-color="#bababa"/><stop offset="0.489" stop-color="#bebebe"/><stop offset="0.858" stop-color="#bebebe"/><stop offset="0.942" stop-color="#bbbbbb"/><stop offset="1.000" stop-color="#bbbbbb"/></linearGradient><linearGradient id="gb102" gradientUnits="userSpaceOnUse" x1="0" y1="1040" x2="0" y2="1408"><stop offset="0.000" stop-color="#bebebe"/><stop offset="0.133" stop-color="#bebebe"/><stop offset="0.269" stop-color="#bbbbbb"/><stop offset="0.481" stop-color="#bebebe"/><stop offset="0.853" stop-color="#bebebe"/><stop offset="1.000" stop-color="#bcbcbc"/></linearGradient><linearGradient id="gb103" gradientUnits="userSpaceOnUse" x1="0" y1="1044" x2="0" y2="1400"><stop offset="0.000" stop-color="#bebebe"/><stop offset="0.267" stop-color="#bcbcbc"/><stop offset="0.478" stop-color="#bebebe"/><stop offset="0.851" stop-color="#bebebe"/><stop offset="1.000" stop-color="#bdbdbd"/></linearGradient><linearGradient id="gb104" gradientUnits="userSpaceOnUse" x1="0" y1="1048" x2="0" y2="1393"><stop offset="0.000" stop-color="#bebebe"/><stop offset="0.264" stop-color="#bcbcbc"/><stop offset="0.475" stop-color="#bebebe"/><stop offset="1.000" stop-color="#bdbdbd"/></linearGradient><linearGradient id="gb105" gradientUnits="userSpaceOnUse" x1="0" y1="1052" x2="0" y2="1387"><stop offset="0.000" stop-color="#bebebe"/><stop offset="0.260" stop-color="#bdbdbd"/><stop offset="1.000" stop-color="#bdbdbd"/></linearGradient><linearGradient id="gb106" gradientUnits="userSpaceOnUse" x1="0" y1="1056" x2="0" y2="1380"><stop offset="0.000" stop-color="#bebebe"/><stop offset="1.000" stop-color="#bebebe"/></linearGradient><linearGradient id="gb107" gradientUnits="userSpaceOnUse" x1="0" y1="1062" x2="0" y2="1372"><stop offset="0.000" stop-color="#bebebe"/><stop offset="1.000" stop-color="#bebebe"/></linearGradient><linearGradient id="gb108" gradientUnits="userSpaceOnUse" x1="0" y1="1067" x2="0" y2="1365"><stop offset="0.000" stop-color="#bebebe"/><stop offset="1.000" stop-color="#bebebe"/></linearGradient><linearGradient id="gb109" gradientUnits="userSpaceOnUse" x1="0" y1="1071" x2="0" y2="1359"><stop offset="0.000" stop-color="#bebebe"/><stop offset="1.000" stop-color="#bebebe"/></linearGradient><linearGradient id="gb110" gradientUnits="userSpaceOnUse" x1="0" y1="1077" x2="0" y2="1352"><stop offset="0.000" stop-color="#bebebe"/><stop offset="1.000" stop-color="#bebebe"/></linearGradient><linearGradient id="gb111" gradientUnits="userSpaceOnUse" x1="0" y1="1082" x2="0" y2="1344"><stop offset="0.000" stop-color="#bebebe"/><stop offset="1.000" stop-color="#bebebe"/></linearGradient><linearGradient id="gb112" gradientUnits="userSpaceOnUse" x1="0" y1="1088" x2="0" y2="1337"><stop offset="0.000" stop-color="#bebebe"/><stop offset="1.000" stop-color="#bebebe"/></linearGradient><linearGradient id="gb113" gradientUnits="userSpaceOnUse" x1="0" y1="1094" x2="0" y2="1330"><stop offset="0.000" stop-color="#bebebe"/><stop offset="1.000" stop-color="#bebebe"/></linearGradient><linearGradient id="gb114" gradientUnits="userSpaceOnUse" x1="0" y1="1100" x2="0" y2="1324"><stop offset="0.000" stop-color="#bebebe"/><stop offset="1.000" stop-color="#bebebe"/></linearGradient><linearGradient id="gb115" gradientUnits="userSpaceOnUse" x1="0" y1="1106" x2="0" y2="1316"><stop offset="0.000" stop-color="#bebebe"/><stop offset="1.000" stop-color="#bebebe"/></linearGradient><linearGradient id="gb116" gradientUnits="userSpaceOnUse" x1="0" y1="1112" x2="0" y2="1309"><stop offset="0.000" stop-color="#bebebe"/><stop offset="1.000" stop-color="#bebebe"/></linearGradient><linearGradient id="gb117" gradientUnits="userSpaceOnUse" x1="0" y1="1119" x2="0" y2="1302"><stop offset="0.000" stop-color="#bebebe"/><stop offset="1.000" stop-color="#bebebe"/></linearGradient><linearGradient id="gb118" gradientUnits="userSpaceOnUse" x1="0" y1="1126" x2="0" y2="1295"><stop offset="0.000" stop-color="#bebebe"/><stop offset="1.000" stop-color="#bebebe"/></linearGradient><linearGradient id="gb119" gradientUnits="userSpaceOnUse" x1="0" y1="1132" x2="0" y2="1289"><stop offset="0.000" stop-color="#bebebe"/><stop offset="1.000" stop-color="#bebebe"/></linearGradient><linearGradient id="gb120" gradientUnits="userSpaceOnUse" x1="0" y1="1140" x2="0" y2="1282"><stop offset="0.000" stop-color="#bebebe"/><stop offset="1.000" stop-color="#bebebe"/></linearGradient><linearGradient id="gb121" gradientUnits="userSpaceOnUse" x1="0" y1="1146" x2="0" y2="1275"><stop offset="0.000" stop-color="#bebebe"/><stop offset="1.000" stop-color="#bebebe"/></linearGradient><linearGradient id="gb122" gradientUnits="userSpaceOnUse" x1="0" y1="1154" x2="0" y2="1268"><stop offset="0.000" stop-color="#bebebe"/><stop offset="1.000" stop-color="#bebebe"/></linearGradient><linearGradient id="gb123" gradientUnits="userSpaceOnUse" x1="0" y1="1162" x2="0" y2="1261"><stop offset="0.000" stop-color="#bebebe"/><stop offset="1.000" stop-color="#bebebe"/></linearGradient><linearGradient id="gb124" gradientUnits="userSpaceOnUse" x1="0" y1="1169" x2="0" y2="1254"><stop offset="0.000" stop-color="#bebebe"/><stop offset="1.000" stop-color="#bebebe"/></linearGradient><linearGradient id="gb125" gradientUnits="userSpaceOnUse" x1="0" y1="1178" x2="0" y2="1247"><stop offset="0.000" stop-color="#bebebe"/><stop offset="1.000" stop-color="#bebebe"/></linearGradient><linearGradient id="gb126" gradientUnits="userSpaceOnUse" x1="0" y1="1185" x2="0" y2="1241"><stop offset="0.000" stop-color="#bebebe"/><stop offset="1.000" stop-color="#bebebe"/></linearGradient><linearGradient id="gb127" gradientUnits="userSpaceOnUse" x1="0" y1="1194" x2="0" y2="1234"><stop offset="0.000" stop-color="#bebebe"/><stop offset="1.000" stop-color="#bebebe"/></linearGradient><linearGradient id="gb128" gradientUnits="userSpaceOnUse" x1="0" y1="1203" x2="0" y2="1227"><stop offset="0.000" stop-color="#bebebe"/><stop offset="1.000" stop-color="#bebebe"/></linearGradient></defs><rect x="229.1" y="1445" width="8.6" height="27" fill="url(#gb0)"/><rect x="237.1" y="1437" width="8.6" height="35" fill="url(#gb1)"/><rect x="245.1" y="1429" width="8.6" height="43" fill="url(#gb2)"/><rect x="253.1" y="1421" width="8.6" height="45" fill="url(#gb3)"/><rect x="261.1" y="1413" width="8.6" height="47" fill="url(#gb4)"/><rect x="269.1" y="1405" width="8.6" height="51" fill="url(#gb5)"/><rect x="277.1" y="1397" width="8.6" height="53" fill="url(#gb6)"/><rect x="285.1" y="1389" width="8.6" height="55" fill="url(#gb7)"/><rect x="293.1" y="1381" width="8.6" height="58" fill="url(#gb8)"/><rect x="301.1" y="1373" width="8.6" height="60" fill="url(#gb9)"/><rect x="309.1" y="1365" width="8.6" height="62" fill="url(#gb10)"/><rect x="317.1" y="1357" width="8.6" height="66" fill="url(#gb11)"/><rect x="325.1" y="1349" width="8.6" height="68" fill="url(#gb12)"/><rect x="333.1" y="1341" width="8.6" height="70" fill="url(#gb13)"/><rect x="341.1" y="1333" width="8.6" height="74" fill="url(#gb14)"/><rect x="349.1" y="1325" width="8.6" height="76" fill="url(#gb15)"/><rect x="357.1" y="1317" width="8.6" height="79" fill="url(#gb16)"/><rect x="365.1" y="1309" width="8.6" height="83" fill="url(#gb17)"/><rect x="373.1" y="1301" width="8.6" height="86" fill="url(#gb18)"/><rect x="381.1" y="1292" width="8.6" height="91" fill="url(#gb19)"/><rect x="389.1" y="1284" width="8.6" height="94" fill="url(#gb20)"/><rect x="397.1" y="1276" width="8.6" height="97" fill="url(#gb21)"/><rect x="405.1" y="1268" width="8.6" height="102" fill="url(#gb22)"/><rect x="413.1" y="1260" width="8.6" height="105" fill="url(#gb23)"/><rect x="421.1" y="1252" width="8.6" height="109" fill="url(#gb24)"/><rect x="429.1" y="1243" width="8.6" height="115" fill="url(#gb25)"/><rect x="437.1" y="1235" width="8.6" height="119" fill="url(#gb26)"/><rect x="445.1" y="1227" width="8.6" height="124" fill="url(#gb27)"/><rect x="453.1" y="1218" width="8.6" height="130" fill="url(#gb28)"/><rect x="461.1" y="1210" width="8.6" height="135" fill="url(#gb29)"/><rect x="469.1" y="1202" width="8.6" height="140" fill="url(#gb30)"/><rect x="477.1" y="1193" width="8.6" height="147" fill="url(#gb31)"/><rect x="485.1" y="1185" width="8.6" height="153" fill="url(#gb32)"/><rect x="493.1" y="1176" width="8.6" height="159" fill="url(#gb33)"/><rect x="501.1" y="1168" width="8.6" height="166" fill="url(#gb34)"/><rect x="509.1" y="1159" width="8.6" height="173" fill="url(#gb35)"/><rect x="517.1" y="1151" width="8.6" height="180" fill="url(#gb36)"/><rect x="525.1" y="1142" width="8.6" height="187" fill="url(#gb37)"/><rect x="533.1" y="1133" width="8.6" height="195" fill="url(#gb38)"/><rect x="541.1" y="1126" width="8.6" height="202" fill="url(#gb39)"/><rect x="549.1" y="1118" width="8.6" height="209" fill="url(#gb40)"/><rect x="557.1" y="1113" width="8.6" height="214" fill="url(#gb41)"/><rect x="565.1" y="1106" width="8.6" height="221" fill="url(#gb42)"/><rect x="573.1" y="1099" width="8.6" height="229" fill="url(#gb43)"/><rect x="581.1" y="1094" width="8.6" height="234" fill="url(#gb44)"/><rect x="589.1" y="1087" width="8.6" height="242" fill="url(#gb45)"/><rect x="597.1" y="1082" width="8.6" height="249" fill="url(#gb46)"/><rect x="605.1" y="1076" width="8.6" height="256" fill="url(#gb47)"/><rect x="613.1" y="1071" width="8.6" height="263" fill="url(#gb48)"/><rect x="621.1" y="1066" width="8.6" height="269" fill="url(#gb49)"/><rect x="629.1" y="1061" width="8.6" height="276" fill="url(#gb50)"/><rect x="637.1" y="1057" width="8.6" height="283" fill="url(#gb51)"/><rect x="645.1" y="1052" width="8.6" height="290" fill="url(#gb52)"/><rect x="653.1" y="1047" width="8.6" height="297" fill="url(#gb53)"/><rect x="661.1" y="1043" width="8.6" height="304" fill="url(#gb54)"/><rect x="669.1" y="1039" width="8.6" height="311" fill="url(#gb55)"/><rect x="677.1" y="1035" width="8.6" height="318" fill="url(#gb56)"/><rect x="685.1" y="1031" width="8.6" height="326" fill="url(#gb57)"/><rect x="693.1" y="1027" width="8.6" height="333" fill="url(#gb58)"/><rect x="701.1" y="1025" width="8.6" height="338" fill="url(#gb59)"/><rect x="709.1" y="1021" width="8.6" height="346" fill="url(#gb60)"/><rect x="717.1" y="1019" width="8.6" height="353" fill="url(#gb61)"/><rect x="725.1" y="1016" width="8.6" height="359" fill="url(#gb62)"/><rect x="733.1" y="1013" width="8.6" height="367" fill="url(#gb63)"/><rect x="741.1" y="1011" width="8.6" height="373" fill="url(#gb64)"/><rect x="749.1" y="1008" width="8.6" height="380" fill="url(#gb65)"/><rect x="757.1" y="1006" width="8.6" height="387" fill="url(#gb66)"/><rect x="765.1" y="1004" width="8.6" height="394" fill="url(#gb67)"/><rect x="773.1" y="1003" width="8.6" height="400" fill="url(#gb68)"/><rect x="781.1" y="1001" width="8.6" height="408" fill="url(#gb69)"/><rect x="789.1" y="1000" width="8.6" height="413" fill="url(#gb70)"/><rect x="797.1" y="999" width="8.6" height="420" fill="url(#gb71)"/><rect x="805.1" y="998" width="8.6" height="427" fill="url(#gb72)"/><rect x="813.1" y="997" width="8.6" height="433" fill="url(#gb73)"/><rect x="821.1" y="996" width="8.6" height="440" fill="url(#gb74)"/><rect x="829.1" y="996" width="8.6" height="447" fill="url(#gb75)"/><rect x="837.1" y="996" width="8.6" height="452" fill="url(#gb76)"/><rect x="845.1" y="995" width="8.6" height="460" fill="url(#gb77)"/><rect x="853.1" y="995" width="8.6" height="467" fill="url(#gb78)"/><rect x="861.1" y="995" width="8.6" height="473" fill="url(#gb79)"/><rect x="869.1" y="995" width="8.6" height="480" fill="url(#gb80)"/><rect x="877.1" y="996" width="8.6" height="486" fill="url(#gb81)"/><rect x="885.1" y="996" width="8.6" height="492" fill="url(#gb82)"/><rect x="893.1" y="996" width="8.6" height="500" fill="url(#gb83)"/><rect x="901.1" y="997" width="8.6" height="505" fill="url(#gb84)"/><rect x="909.1" y="998" width="8.6" height="513" fill="url(#gb85)"/><rect x="917.1" y="999" width="8.6" height="512" fill="url(#gb86)"/><rect x="925.1" y="1000" width="8.6" height="511" fill="url(#gb87)"/><rect x="933.1" y="1002" width="8.6" height="501" fill="url(#gb88)"/><rect x="941.1" y="1003" width="8.6" height="493" fill="url(#gb89)"/><rect x="949.1" y="1005" width="8.6" height="485" fill="url(#gb90)"/><rect x="957.1" y="1007" width="8.6" height="476" fill="url(#gb91)"/><rect x="965.1" y="1009" width="8.6" height="467" fill="url(#gb92)"/><rect x="973.1" y="1011" width="8.6" height="458" fill="url(#gb93)"/><rect x="981.1" y="1013" width="8.6" height="450" fill="url(#gb94)"/><rect x="989.1" y="1016" width="8.6" height="440" fill="url(#gb95)"/><rect x="997.1" y="1019" width="8.6" height="430" fill="url(#gb96)"/><rect x="1005.1" y="1022" width="8.6" height="420" fill="url(#gb97)"/><rect x="1013.1" y="1025" width="8.6" height="410" fill="url(#gb98)"/><rect x="1021.1" y="1028" width="8.6" height="400" fill="url(#gb99)"/><rect x="1029.1" y="1032" width="8.6" height="390" fill="url(#gb100)"/><rect x="1037.1" y="1035" width="8.6" height="380" fill="url(#gb101)"/><rect x="1045.1" y="1040" width="8.6" height="368" fill="url(#gb102)"/><rect x="1053.1" y="1044" width="8.6" height="356" fill="url(#gb103)"/><rect x="1061.1" y="1048" width="8.6" height="345" fill="url(#gb104)"/><rect x="1069.1" y="1052" width="8.6" height="335" fill="url(#gb105)"/><rect x="1077.1" y="1056" width="8.6" height="324" fill="url(#gb106)"/><rect x="1085.1" y="1062" width="8.6" height="310" fill="url(#gb107)"/><rect x="1093.1" y="1067" width="8.6" height="298" fill="url(#gb108)"/><rect x="1101.1" y="1071" width="8.6" height="288" fill="url(#gb109)"/><rect x="1109.1" y="1077" width="8.6" height="275" fill="url(#gb110)"/><rect x="1117.1" y="1082" width="8.6" height="262" fill="url(#gb111)"/><rect x="1125.1" y="1088" width="8.6" height="249" fill="url(#gb112)"/><rect x="1133.1" y="1094" width="8.6" height="236" fill="url(#gb113)"/><rect x="1141.1" y="1100" width="8.6" height="224" fill="url(#gb114)"/><rect x="1149.1" y="1106" width="8.6" height="210" fill="url(#gb115)"/><rect x="1157.1" y="1112" width="8.6" height="197" fill="url(#gb116)"/><rect x="1165.1" y="1119" width="8.6" height="183" fill="url(#gb117)"/><rect x="1173.1" y="1126" width="8.6" height="169" fill="url(#gb118)"/><rect x="1181.1" y="1132" width="8.6" height="157" fill="url(#gb119)"/><rect x="1189.1" y="1140" width="8.6" height="142" fill="url(#gb120)"/><rect x="1197.1" y="1146" width="8.6" height="129" fill="url(#gb121)"/><rect x="1205.1" y="1154" width="8.6" height="114" fill="url(#gb122)"/><rect x="1213.1" y="1162" width="8.6" height="99" fill="url(#gb123)"/><rect x="1221.1" y="1169" width="8.6" height="85" fill="url(#gb124)"/><rect x="1229.1" y="1178" width="8.6" height="69" fill="url(#gb125)"/><rect x="1237.1" y="1185" width="8.6" height="56" fill="url(#gb126)"/><rect x="1245.1" y="1194" width="8.6" height="40" fill="url(#gb127)"/><rect x="1253.1" y="1203" width="8.6" height="24" fill="url(#gb128)"/>
</g></g>
<path d="M237.1 1463.3 L245.8 1457.5 L254.5 1451.6 L263.2 1445.7 L271.9 1439.8 L280.6 1433.8 L289.3 1427.8 L298.0 1421.9 L306.7 1416.0 L315.4 1410.2 L324.0 1404.4 L332.7 1398.8 L341.4 1393.2 L350.1 1387.8 L358.8 1382.5 L367.5 1377.4 L376.2 1372.4 L384.9 1367.6 L393.6 1363.0 L402.3 1358.6 L411.0 1354.4 L419.7 1350.4 L428.4 1346.6 L437.1 1343.0 L445.8 1339.6 L454.5 1336.5 L463.2 1333.6 L471.9 1330.9 L480.6 1328.5 L489.3 1326.3 L497.9 1324.4 L506.6 1322.7 L515.3 1321.3 L524.0 1320.1 L532.7 1319.2 L541.4 1318.5 L550.1 1318.0 L558.8 1317.9 L567.5 1317.9 L576.2 1318.2 L584.9 1318.8 L593.6 1319.6 L602.3 1320.6 L611.0 1321.9 L619.7 1323.4 L628.4 1325.1 L637.1 1327.1 L645.8 1329.3 L654.5 1331.7 L663.2 1334.4 L671.8 1337.2 L680.5 1340.3 L689.2 1343.6 L697.9 1347.1 L706.6 1350.8 L715.3 1354.6 L724.0 1358.7 L732.7 1363.0 L741.4 1367.5 L750.1 1372.1 L758.8 1377.0 L767.5 1382.0 L776.2 1387.2 L784.9 1392.6 L793.6 1398.1 L802.3 1403.8 L811.0 1409.7 L819.7 1415.8 L828.4 1422.0 L837.1 1428.4 L845.7 1435.0 L854.4 1441.8 L863.1 1448.7 L871.8 1455.8 L880.5 1463.0 L889.2 1470.5 L897.9 1478.1 L906.6 1485.9 L915.3 1493.9 L924.0 1502.1 L928.1 1492.3 L932.3 1488.9 L936.4 1485.5 L940.5 1482.1 L944.6 1478.7 L948.8 1475.2 L952.9 1471.8 L957.0 1468.3 L961.1 1464.8 L965.3 1461.3 L969.4 1457.8 L973.5 1454.3 L977.6 1450.8 L981.8 1447.3 L985.9 1443.8 L990.0 1440.3 L994.2 1436.7 L998.3 1433.2 L1002.4 1429.6 L1006.5 1426.1 L1010.7 1422.5 L1014.8 1418.9 L1018.9 1415.3 L1023.0 1411.7 L1027.2 1408.2 L1031.3 1404.6 L1035.4 1401.0 L1039.5 1397.4 L1043.7 1393.7 L1047.8 1390.1 L1051.9 1386.5 L1056.1 1382.9 L1060.2 1379.3 L1064.3 1375.7 L1068.4 1372.0 L1072.6 1368.4 L1076.7 1364.8 L1080.8 1361.1 L1084.9 1357.5 L1089.1 1353.9 L1093.2 1350.2 L1097.3 1346.6 L1101.4 1343.0 L1105.6 1339.4 L1109.7 1335.7 L1113.8 1332.1 L1117.9 1328.5 L1122.1 1324.8 L1126.2 1321.2 L1130.3 1317.6 L1134.5 1314.0 L1138.6 1310.4 L1142.7 1306.8 L1146.8 1303.1 L1151.0 1299.5 L1155.1 1295.9 L1159.2 1292.3 L1163.3 1288.8 L1167.5 1285.2 L1171.6 1281.6 L1175.7 1278.0 L1179.8 1274.4 L1184.0 1270.9 L1188.1 1267.3 L1192.2 1263.8 L1196.4 1260.2 L1200.5 1256.7 L1204.6 1253.2 L1208.7 1249.6 L1212.9 1246.1 L1217.0 1242.6 L1221.1 1239.1 L1225.2 1235.7 L1229.4 1232.2 L1233.5 1228.7 L1237.6 1225.3 L1241.7 1221.8 L1245.9 1218.4 L1250.0 1215.0 L1241.2 1205.7 L1232.4 1196.6 L1223.6 1187.6 L1214.9 1178.9 L1206.1 1170.4 L1197.3 1162.1 L1188.5 1154.0 L1179.7 1146.1 L1170.9 1138.4 L1162.2 1131.0 L1153.4 1123.7 L1144.6 1116.7 L1135.8 1109.8 L1127.0 1103.2 L1118.2 1096.8 L1109.4 1090.6 L1100.7 1084.6 L1091.9 1078.9 L1083.1 1073.3 L1074.3 1068.0 L1065.5 1062.8 L1056.7 1057.9 L1047.9 1053.2 L1039.2 1048.7 L1030.4 1044.5 L1021.6 1040.4 L1012.8 1036.5 L1004.0 1032.9 L995.2 1029.5 L986.5 1026.3 L977.7 1023.3 L968.9 1020.5 L960.1 1018.0 L951.3 1015.6 L942.5 1013.5 L933.7 1011.6 L925.0 1009.8 L916.2 1008.4 L907.4 1007.1 L898.6 1006.0 L889.8 1005.2 L881.0 1004.6 L872.3 1004.2 L863.5 1004.0 L854.7 1004.0 L845.9 1004.2 L837.1 1004.7 L828.3 1005.4 L819.5 1006.2 L810.8 1007.3 L802.0 1008.7 L793.2 1010.2 L784.4 1012.0 L775.6 1013.9 L766.8 1016.1 L758.1 1018.5 L749.3 1021.2 L740.5 1024.0 L731.7 1027.1 L722.9 1030.4 L714.1 1033.9 L705.3 1037.6 L696.6 1041.5 L687.8 1045.7 L679.0 1050.0 L670.2 1054.6 L661.4 1059.4 L652.6 1064.5 L643.8 1069.7 L635.1 1075.2 L626.3 1080.9 L617.5 1086.8 L608.7 1092.9 L599.9 1099.3 L591.1 1105.8 L582.4 1112.6 L573.6 1119.6 L564.8 1126.9 L556.0 1134.3 L552.0 1138.2 L547.9 1142.7 L543.9 1147.1 L539.9 1151.5 L535.8 1155.8 L531.8 1160.2 L527.7 1164.6 L523.7 1168.9 L519.7 1173.3 L515.6 1177.6 L511.6 1181.9 L507.6 1186.2 L503.5 1190.5 L499.5 1194.8 L495.4 1199.1 L491.4 1203.3 L487.4 1207.6 L483.3 1211.8 L479.3 1216.1 L475.3 1220.3 L471.2 1224.5 L467.2 1228.7 L463.2 1232.9 L459.1 1237.1 L455.1 1241.3 L451.0 1245.5 L447.0 1249.7 L443.0 1253.9 L438.9 1258.0 L434.9 1262.2 L430.9 1266.3 L426.8 1270.5 L422.8 1274.6 L418.8 1278.7 L414.7 1282.9 L410.7 1287.0 L406.6 1291.1 L402.6 1295.2 L398.6 1299.3 L394.5 1303.4 L390.5 1307.5 L386.5 1311.6 L382.4 1315.7 L378.4 1319.7 L374.3 1323.8 L370.3 1327.9 L366.3 1332.0 L362.2 1336.0 L358.2 1340.1 L354.2 1344.1 L350.1 1348.2 L346.1 1352.3 L342.1 1356.3 L338.0 1360.4 L334.0 1364.4 L329.9 1368.4 L325.9 1372.5 L321.9 1376.5 L317.8 1380.6 L313.8 1384.6 L309.8 1388.7 L305.7 1392.7 L301.7 1396.7 L297.7 1400.8 L293.6 1404.8 L289.6 1408.9 L285.5 1412.9 L281.5 1416.9 L277.5 1421.0 L273.4 1425.0 L269.4 1429.1 L265.4 1433.1 L261.3 1437.1 L257.3 1441.2 L253.2 1445.2 L249.2 1449.3 L245.2 1453.3 L241.1 1457.4 Z" fill="none" stroke="#1a1a1a" stroke-width="2.7" stroke-linejoin="round"/>
<line x1="200.1" y1="1130.6" x2="926.9" y2="1241.0" stroke="#111" stroke-width="3.2" stroke-linecap="round"/>
<line x1="926.9" y1="1241.0" x2="1279.1" y2="1016.2" stroke="#111" stroke-width="3.2" stroke-linecap="round"/>
<line x1="1279.1" y1="1016.2" x2="552.6" y2="912.3" stroke="#111" stroke-width="3.2" stroke-linecap="round"/>
<line x1="552.6" y1="912.3" x2="200.1" y2="1130.6" stroke="#111" stroke-width="3.2" stroke-linecap="round"/>
<line x1="200.1" y1="1130.6" x2="200.5" y2="1463.7" stroke="#111" stroke-width="3.2" stroke-linecap="round"/>
<line x1="926.9" y1="1241.0" x2="926.1" y2="1569.6" stroke="#111" stroke-width="3.2" stroke-linecap="round"/>
<line x1="1279.1" y1="1016.2" x2="1279.1" y2="1348.5" stroke="#111" stroke-width="3.2" stroke-linecap="round"/>
<line x1="200.5" y1="1463.7" x2="926.1" y2="1569.6" stroke="#111" stroke-width="3.2" stroke-linecap="round"/>
<line x1="926.1" y1="1569.6" x2="1279.1" y2="1348.5" stroke="#111" stroke-width="3.2" stroke-linecap="round"/>
<path d="M200.1 1143.0h15.0M200.1 1155.4h8.5M200.1 1167.9h8.5M200.2 1180.3h8.5M200.2 1192.8h8.5M200.2 1205.2h15.0M200.2 1217.6h8.5M200.2 1230.1h8.5M200.2 1242.5h8.5M200.2 1255.0h8.5M200.3 1267.4h15.0M200.3 1279.8h8.5M200.3 1292.3h8.5M200.3 1304.7h8.5M200.3 1317.2h8.5M200.3 1329.6h15.0M200.4 1342.0h8.5M200.4 1354.5h8.5M200.4 1366.9h8.5M200.4 1379.4h8.5M200.4 1391.8h15.0M200.4 1404.2h8.5M200.4 1416.7h8.5M200.5 1429.1h8.5M200.5 1441.6h8.5M200.5 1454.0h15.0" stroke="#111" stroke-width="2.8" fill="none"/>
<path d="M926.9 1253.4h-15.0M926.8 1265.8h-8.5M926.8 1278.3h-8.5M926.8 1290.7h-8.5M926.7 1303.2h-8.5M926.7 1315.6h-15.0M926.7 1328.0h-8.5M926.7 1340.5h-8.5M926.6 1352.9h-8.5M926.6 1365.4h-8.5M926.6 1377.8h-15.0M926.5 1390.2h-8.5M926.5 1402.7h-8.5M926.5 1415.1h-8.5M926.4 1427.6h-8.5M926.4 1440.0h-15.0M926.4 1452.4h-8.5M926.4 1464.9h-8.5M926.3 1477.3h-8.5M926.3 1489.8h-8.5M926.3 1502.2h-15.0M926.2 1514.6h-8.5M926.2 1527.1h-8.5M926.2 1539.5h-8.5M926.1 1552.0h-8.5M926.1 1564.4h-15.0" stroke="#111" stroke-width="2.8" fill="none"/>
<path d="M1279.1 1028.6h-15.0M1279.1 1041.0h-8.5M1279.1 1053.5h-8.5M1279.1 1065.9h-8.5M1279.1 1078.4h-8.5M1279.1 1090.8h-15.0M1279.1 1103.2h-8.5M1279.1 1115.7h-8.5M1279.1 1128.1h-8.5M1279.1 1140.6h-8.5M1279.1 1153.0h-15.0M1279.1 1165.4h-8.5M1279.1 1177.9h-8.5M1279.1 1190.3h-8.5M1279.1 1202.8h-8.5M1279.1 1215.2h-15.0M1279.1 1227.6h-8.5M1279.1 1240.1h-8.5M1279.1 1252.5h-8.5M1279.1 1265.0h-8.5M1279.1 1277.4h-15.0M1279.1 1289.8h-8.5M1279.1 1302.3h-8.5M1279.1 1314.7h-8.5M1279.1 1327.2h-8.5M1279.1 1339.6h-15.0" stroke="#111" stroke-width="2.8" fill="none"/>
<path d="M200.5 1463.7l4.2 -2.7M245.8 1470.3l2.5 -1.6M291.2 1476.9l2.5 -1.6M336.6 1483.6l2.5 -1.6M381.9 1490.2l4.2 -2.7M427.2 1496.8l2.5 -1.6M472.6 1503.4l2.5 -1.6M518.0 1510.0l2.5 -1.6M563.3 1516.7l4.2 -2.7M608.7 1523.3l2.5 -1.6M654.0 1529.9l2.5 -1.6M699.4 1536.5l2.5 -1.6M744.7 1543.1l4.2 -2.7M790.1 1549.7l2.5 -1.6M835.4 1556.4l2.5 -1.6M880.8 1563.0l2.5 -1.6M926.1 1569.6l4.2 -2.7" stroke="#111" stroke-width="2.6" fill="none"/>
<path d="M200.1 1130.6l4.2 -2.7M245.5 1137.5l2.5 -1.6M290.9 1144.4l2.5 -1.6M336.4 1151.3l2.5 -1.6M381.8 1158.2l4.2 -2.7M427.2 1165.1l2.5 -1.6M472.6 1172.0l2.5 -1.6M518.1 1178.9l2.5 -1.6M563.5 1185.8l4.2 -2.7M608.9 1192.7l2.5 -1.6M654.4 1199.6l2.5 -1.6M699.8 1206.5l2.5 -1.6M745.2 1213.4l4.2 -2.7M790.6 1220.3l2.5 -1.6M836.0 1227.2l2.5 -1.6M881.5 1234.1l2.5 -1.6M926.9 1241.0l4.2 -2.7" stroke="#111" stroke-width="2.6" fill="none"/>
<path d="M552.6 912.3l-4.2 2.7M598.0 918.8l-2.5 1.6M643.4 925.3l-2.5 1.6M688.8 931.8l-2.5 1.6M734.2 938.3l-4.2 2.7M779.6 944.8l-2.5 1.6M825.0 951.3l-2.5 1.6M870.4 957.8l-2.5 1.6M915.8 964.2l-4.2 2.7M961.3 970.7l-2.5 1.6M1006.7 977.2l-2.5 1.6M1052.1 983.7l-2.5 1.6M1097.5 990.2l-4.2 2.7M1142.9 996.7l-2.5 1.6M1188.3 1003.2l-2.5 1.6M1233.7 1009.7l-2.5 1.6M1279.1 1016.2l-4.2 2.7" stroke="#111" stroke-width="2.6" fill="none"/>
<path d="M926.1 1569.6l-5.9 -0.9M955.5 1551.2l-3.0 -0.4M984.9 1532.8l-3.0 -0.4M1014.4 1514.3l-3.0 -0.4M1043.8 1495.9l-5.9 -0.9M1073.2 1477.5l-3.0 -0.4M1102.6 1459.0l-3.0 -0.4M1132.0 1440.6l-3.0 -0.4M1161.4 1422.2l-5.9 -0.9M1190.8 1403.8l-3.0 -0.4M1220.3 1385.3l-3.0 -0.4M1249.7 1366.9l-3.0 -0.4M1279.1 1348.5l-5.9 -0.9" stroke="#111" stroke-width="2.6" fill="none"/>
<path d="M926.9 1241.0l-5.9 -0.9M956.2 1222.3l-3.0 -0.4M985.6 1203.5l-3.0 -0.4M1014.9 1184.8l-3.0 -0.4M1044.3 1166.1l-5.9 -0.9M1073.6 1147.3l-3.0 -0.4M1103.0 1128.6l-3.0 -0.4M1132.3 1109.9l-3.0 -0.4M1161.7 1091.1l-5.9 -0.9M1191.0 1072.4l-3.0 -0.4M1220.4 1053.7l-3.0 -0.4M1249.8 1034.9l-3.0 -0.4M1279.1 1016.2l-5.9 -0.9" stroke="#111" stroke-width="2.6" fill="none"/>
<path d="M200.1 1130.6l5.9 0.9M229.5 1112.4l3.0 0.4M258.9 1094.2l3.0 0.4M288.2 1076.0l3.0 0.4M317.6 1057.8l5.9 0.9M347.0 1039.6l3.0 0.4M376.4 1021.4l3.0 0.4M405.7 1003.3l3.0 0.4M435.1 985.1l5.9 0.9M464.5 966.9l3.0 0.4M493.9 948.7l3.0 0.4M523.2 930.5l3.0 0.4M552.6 912.3l5.9 0.9" stroke="#111" stroke-width="2.6" fill="none"/>
<text x="106.1" y="1036.4" font-size="110.3" font-weight="bold">b</text>
<text x="117.6" y="1157.6" font-size="51.1" font-weight="bold">0.6</text>
<text x="117.6" y="1219.4" font-size="50.7" font-weight="bold">0.5</text>
<text x="117.6" y="1281.3" font-size="50.0" font-weight="bold">0.4</text>
<text x="117.6" y="1344.1" font-size="51.1" font-weight="bold">0.3</text>
<text x="117.5" y="1405.0" font-size="51.3" font-weight="bold">0.2</text>
<text x="117.6" y="1466.8" font-size="50.7" font-weight="bold">0.1</text>
<text x="141.0" y="1525.4" font-size="50.4" font-weight="bold">75:25</text>
<text x="358.7" y="1563.5" font-size="50.4" font-weight="bold">50:50</text>
<text x="584.0" y="1598.6" font-size="50.2" font-weight="bold">25:75</text>
<text x="821.2" y="1631.5" font-size="49.4" font-weight="bold">0:100</text>
<text x="272.0" y="1671.5" font-size="54.8" font-weight="bold">ACE-EtAc % (v/v)</text>
<text x="956.0" y="1597.3" font-size="44.8" font-weight="bold">200</text>
<text x="1066.8" y="1527.5" font-size="44.3" font-weight="bold">400</text>
<text x="1176.9" y="1454.9" font-size="44.8" font-weight="bold">600</text>
<text x="1288.9" y="1384.4" font-size="44.6" font-weight="bold">800</text>
<text x="1103.7" y="1591.4" font-size="54.9" font-weight="bold">[EE100] mg</text>
<text transform="matrix(0 -1 1 0 58.9 1329.9)" x="-2.4" y="37.9" font-size="53.0" font-weight="bold">PdI</text>
<line x1="559.4" y1="1787.3" x2="559.4" y2="2145.8" stroke="#111" stroke-width="3.2" stroke-linecap="round"/>
<line x1="559.4" y1="2145.8" x2="190.0" y2="2392.0" stroke="#111" stroke-width="3.2" stroke-linecap="round"/>
<line x1="559.4" y1="2145.8" x2="1326.0" y2="2266.2" stroke="#111" stroke-width="3.2" stroke-linecap="round"/>
<path d="M559.4 1798.8h15.0M559.4 1810.1h8.5M559.4 1821.4h8.5M559.4 1832.6h8.5M559.4 1843.9h8.5M559.4 1855.2h15.0M559.4 1866.5h8.5M559.4 1877.8h8.5M559.4 1889.0h8.5M559.4 1900.3h8.5M559.4 1911.6h15.0M559.4 1922.9h8.5M559.4 1934.2h8.5M559.4 1945.4h8.5M559.4 1956.7h8.5M559.4 1968.0h15.0M559.4 1979.3h8.5M559.4 1990.6h8.5M559.4 2001.8h8.5M559.4 2013.1h8.5M559.4 2024.4h15.0M559.4 2035.7h8.5M559.4 2047.0h8.5M559.4 2058.2h8.5M559.4 2069.5h8.5M559.4 2080.8h15.0M559.4 2092.1h8.5M559.4 2103.4h8.5M559.4 2114.6h8.5M559.4 2125.9h8.5M559.4 2137.2h15.0" stroke="#111" stroke-width="2.8" fill="none"/>
<clipPath id="clipc"><path d="M220.1 2289.8 L229.3 2287.8 L238.5 2285.8 L247.6 2283.9 L256.8 2282.1 L266.0 2280.3 L275.2 2278.5 L284.3 2276.8 L293.5 2275.2 L302.7 2273.6 L311.9 2272.1 L321.0 2270.6 L330.2 2269.2 L339.4 2267.8 L348.6 2266.5 L357.7 2265.3 L366.9 2264.1 L376.1 2262.9 L385.3 2261.8 L394.4 2260.8 L403.6 2259.8 L412.8 2258.8 L422.0 2258.0 L431.1 2257.1 L440.3 2256.3 L449.5 2255.6 L458.7 2254.9 L467.9 2254.3 L477.0 2253.8 L486.2 2253.3 L495.4 2252.8 L504.6 2252.4 L513.7 2252.0 L522.9 2251.7 L532.1 2251.5 L541.3 2251.3 L550.4 2251.1 L559.6 2251.0 L568.8 2251.0 L578.0 2251.0 L587.1 2251.1 L596.3 2251.2 L605.5 2251.3 L614.7 2251.6 L623.8 2251.8 L633.0 2252.1 L642.2 2252.5 L651.4 2252.9 L660.5 2253.4 L669.7 2253.9 L678.9 2254.5 L688.1 2255.1 L697.2 2255.8 L706.4 2256.6 L715.6 2257.3 L724.8 2258.2 L734.0 2259.1 L743.1 2260.0 L752.3 2261.0 L761.5 2262.0 L770.7 2263.1 L779.8 2264.2 L789.0 2265.4 L798.2 2266.6 L807.4 2267.9 L816.5 2269.3 L825.7 2270.7 L834.9 2272.1 L844.1 2273.6 L853.2 2275.1 L862.4 2276.7 L871.6 2278.3 L880.8 2280.0 L889.9 2281.7 L899.1 2283.5 L908.3 2285.4 L917.5 2287.2 L926.6 2289.2 L935.8 2291.2 L945.0 2293.2 L949.4 2287.3 L953.8 2282.0 L958.3 2276.7 L962.7 2271.5 L967.1 2266.4 L971.5 2261.3 L976.0 2256.3 L980.4 2251.4 L984.8 2246.4 L989.2 2241.6 L993.7 2236.8 L998.1 2232.0 L1002.5 2227.3 L1006.9 2222.7 L1011.3 2218.1 L1015.8 2213.5 L1020.2 2209.0 L1024.6 2204.6 L1029.0 2200.2 L1033.5 2195.8 L1037.9 2191.5 L1042.3 2187.3 L1046.7 2183.1 L1051.1 2178.9 L1055.6 2174.8 L1060.0 2170.7 L1064.4 2166.7 L1068.8 2162.7 L1073.3 2158.8 L1077.7 2154.9 L1082.1 2151.0 L1086.5 2147.2 L1091.0 2143.5 L1095.4 2139.7 L1099.8 2136.1 L1104.2 2132.4 L1108.6 2128.8 L1113.1 2125.2 L1117.5 2121.7 L1121.9 2118.2 L1126.3 2114.8 L1130.8 2111.4 L1135.2 2108.0 L1139.6 2104.6 L1144.0 2101.3 L1148.4 2098.1 L1152.9 2094.8 L1157.3 2091.6 L1161.7 2088.5 L1166.1 2085.3 L1170.6 2082.2 L1175.0 2079.1 L1179.4 2076.1 L1183.8 2073.1 L1188.3 2070.1 L1192.7 2067.2 L1197.1 2064.2 L1201.5 2061.3 L1205.9 2058.5 L1210.4 2055.6 L1214.8 2052.8 L1219.2 2050.0 L1223.6 2047.3 L1228.1 2044.6 L1232.5 2041.8 L1236.9 2039.2 L1241.3 2036.5 L1245.7 2033.9 L1250.2 2031.3 L1254.6 2028.7 L1259.0 2026.1 L1263.4 2023.6 L1267.9 2021.0 L1272.3 2018.5 L1276.7 2016.0 L1281.1 2013.6 L1285.6 2011.1 L1290.0 2008.7 L1294.4 2006.3 L1285.2 2004.2 L1276.0 2000.8 L1266.8 1997.4 L1257.6 1994.0 L1248.4 1990.7 L1239.2 1987.4 L1230.0 1984.2 L1220.8 1981.0 L1211.6 1977.9 L1202.3 1974.8 L1193.1 1971.7 L1183.9 1968.7 L1174.7 1965.7 L1165.5 1962.8 L1156.3 1960.0 L1147.1 1957.2 L1137.9 1954.4 L1128.7 1951.7 L1119.5 1949.0 L1110.3 1946.4 L1101.1 1943.8 L1091.9 1941.3 L1082.7 1938.8 L1073.5 1936.4 L1064.3 1934.0 L1055.1 1931.7 L1045.9 1929.4 L1036.7 1927.1 L1027.5 1925.0 L1018.2 1922.8 L1009.0 1920.8 L999.8 1918.7 L990.6 1916.8 L981.4 1914.9 L972.2 1913.0 L963.0 1911.2 L953.8 1909.4 L944.6 1907.7 L935.4 1906.1 L926.2 1904.5 L917.0 1902.9 L907.8 1901.4 L898.6 1900.0 L889.4 1898.6 L880.2 1897.3 L871.0 1896.0 L861.8 1894.8 L852.6 1893.6 L843.4 1892.5 L834.1 1891.5 L824.9 1890.5 L815.7 1889.6 L806.5 1888.7 L797.3 1887.9 L788.1 1887.1 L778.9 1886.4 L769.7 1885.8 L760.5 1885.2 L751.3 1884.7 L742.1 1884.2 L732.9 1883.8 L723.7 1883.5 L714.5 1883.2 L705.3 1882.9 L696.1 1882.8 L686.9 1882.7 L677.7 1882.6 L668.5 1882.7 L659.3 1882.7 L650.0 1882.9 L640.8 1883.1 L631.6 1883.3 L622.4 1883.7 L613.2 1884.1 L604.0 1884.5 L594.8 1885.1 L585.6 1885.6 L576.4 1886.3 L567.2 1887.0 L562.8 1891.7 L558.4 1895.8 L554.0 1899.9 L549.6 1904.1 L545.2 1908.2 L540.8 1912.4 L536.4 1916.6 L532.1 1920.8 L527.7 1925.0 L523.3 1929.3 L518.9 1933.6 L514.5 1937.9 L510.1 1942.2 L505.7 1946.5 L501.3 1950.9 L496.9 1955.3 L492.5 1959.7 L488.1 1964.1 L483.7 1968.6 L479.3 1973.1 L474.9 1977.6 L470.5 1982.1 L466.1 1986.7 L461.8 1991.2 L457.4 1995.9 L453.0 2000.5 L448.6 2005.1 L444.2 2009.8 L439.8 2014.5 L435.4 2019.3 L431.0 2024.0 L426.6 2028.8 L422.2 2033.6 L417.8 2038.5 L413.4 2043.3 L409.0 2048.2 L404.6 2053.2 L400.2 2058.1 L395.8 2063.1 L391.5 2068.1 L387.1 2073.2 L382.7 2078.3 L378.3 2083.4 L373.9 2088.5 L369.5 2093.7 L365.1 2098.9 L360.7 2104.1 L356.3 2109.4 L351.9 2114.7 L347.5 2120.0 L343.1 2125.4 L338.7 2130.8 L334.3 2136.2 L329.9 2141.7 L325.5 2147.2 L321.2 2152.7 L316.8 2158.3 L312.4 2163.9 L308.0 2169.6 L303.6 2175.3 L299.2 2181.0 L294.8 2186.7 L290.4 2192.5 L286.0 2198.3 L281.6 2204.2 L277.2 2210.1 L272.8 2216.0 L268.4 2222.0 L264.0 2228.0 L259.6 2234.1 L255.2 2240.2 L250.9 2246.3 L246.5 2252.5 L242.1 2258.7 L237.7 2265.0 L233.3 2271.3 L228.9 2277.6 L224.5 2284.0 Z"/></clipPath>
<path d="M220.1 2289.8 L229.3 2287.8 L238.5 2285.8 L247.6 2283.9 L256.8 2282.1 L266.0 2280.3 L275.2 2278.5 L284.3 2276.8 L293.5 2275.2 L302.7 2273.6 L311.9 2272.1 L321.0 2270.6 L330.2 2269.2 L339.4 2267.8 L348.6 2266.5 L357.7 2265.3 L366.9 2264.1 L376.1 2262.9 L385.3 2261.8 L394.4 2260.8 L403.6 2259.8 L412.8 2258.8 L422.0 2258.0 L431.1 2257.1 L440.3 2256.3 L449.5 2255.6 L458.7 2254.9 L467.9 2254.3 L477.0 2253.8 L486.2 2253.3 L495.4 2252.8 L504.6 2252.4 L513.7 2252.0 L522.9 2251.7 L532.1 2251.5 L541.3 2251.3 L550.4 2251.1 L559.6 2251.0 L568.8 2251.0 L578.0 2251.0 L587.1 2251.1 L596.3 2251.2 L605.5 2251.3 L614.7 2251.6 L623.8 2251.8 L633.0 2252.1 L642.2 2252.5 L651.4 2252.9 L660.5 2253.4 L669.7 2253.9 L678.9 2254.5 L688.1 2255.1 L697.2 2255.8 L706.4 2256.6 L715.6 2257.3 L724.8 2258.2 L734.0 2259.1 L743.1 2260.0 L752.3 2261.0 L761.5 2262.0 L770.7 2263.1 L779.8 2264.2 L789.0 2265.4 L798.2 2266.6 L807.4 2267.9 L816.5 2269.3 L825.7 2270.7 L834.9 2272.1 L844.1 2273.6 L853.2 2275.1 L862.4 2276.7 L871.6 2278.3 L880.8 2280.0 L889.9 2281.7 L899.1 2283.5 L908.3 2285.4 L917.5 2287.2 L926.6 2289.2 L935.8 2291.2 L945.0 2293.2 L949.4 2287.3 L953.8 2282.0 L958.3 2276.7 L962.7 2271.5 L967.1 2266.4 L971.5 2261.3 L976.0 2256.3 L980.4 2251.4 L984.8 2246.4 L989.2 2241.6 L993.7 2236.8 L998.1 2232.0 L1002.5 2227.3 L1006.9 2222.7 L1011.3 2218.1 L1015.8 2213.5 L1020.2 2209.0 L1024.6 2204.6 L1029.0 2200.2 L1033.5 2195.8 L1037.9 2191.5 L1042.3 2187.3 L1046.7 2183.1 L1051.1 2178.9 L1055.6 2174.8 L1060.0 2170.7 L1064.4 2166.7 L1068.8 2162.7 L1073.3 2158.8 L1077.7 2154.9 L1082.1 2151.0 L1086.5 2147.2 L1091.0 2143.5 L1095.4 2139.7 L1099.8 2136.1 L1104.2 2132.4 L1108.6 2128.8 L1113.1 2125.2 L1117.5 2121.7 L1121.9 2118.2 L1126.3 2114.8 L1130.8 2111.4 L1135.2 2108.0 L1139.6 2104.6 L1144.0 2101.3 L1148.4 2098.1 L1152.9 2094.8 L1157.3 2091.6 L1161.7 2088.5 L1166.1 2085.3 L1170.6 2082.2 L1175.0 2079.1 L1179.4 2076.1 L1183.8 2073.1 L1188.3 2070.1 L1192.7 2067.2 L1197.1 2064.2 L1201.5 2061.3 L1205.9 2058.5 L1210.4 2055.6 L1214.8 2052.8 L1219.2 2050.0 L1223.6 2047.3 L1228.1 2044.6 L1232.5 2041.8 L1236.9 2039.2 L1241.3 2036.5 L1245.7 2033.9 L1250.2 2031.3 L1254.6 2028.7 L1259.0 2026.1 L1263.4 2023.6 L1267.9 2021.0 L1272.3 2018.5 L1276.7 2016.0 L1281.1 2013.6 L1285.6 2011.1 L1290.0 2008.7 L1294.4 2006.3 L1285.2 2004.2 L1276.0 2000.8 L1266.8 1997.4 L1257.6 1994.0 L1248.4 1990.7 L1239.2 1987.4 L1230.0 1984.2 L1220.8 1981.0 L1211.6 1977.9 L1202.3 1974.8 L1193.1 1971.7 L1183.9 1968.7 L1174.7 1965.7 L1165.5 1962.8 L1156.3 1960.0 L1147.1 1957.2 L1137.9 1954.4 L1128.7 1951.7 L1119.5 1949.0 L1110.3 1946.4 L1101.1 1943.8 L1091.9 1941.3 L1082.7 1938.8 L1073.5 1936.4 L1064.3 1934.0 L1055.1 1931.7 L1045.9 1929.4 L1036.7 1927.1 L1027.5 1925.0 L1018.2 1922.8 L1009.0 1920.8 L999.8 1918.7 L990.6 1916.8 L981.4 1914.9 L972.2 1913.0 L963.0 1911.2 L953.8 1909.4 L944.6 1907.7 L935.4 1906.1 L926.2 1904.5 L917.0 1902.9 L907.8 1901.4 L898.6 1900.0 L889.4 1898.6 L880.2 1897.3 L871.0 1896.0 L861.8 1894.8 L852.6 1893.6 L843.4 1892.5 L834.1 1891.5 L824.9 1890.5 L815.7 1889.6 L806.5 1888.7 L797.3 1887.9 L788.1 1887.1 L778.9 1886.4 L769.7 1885.8 L760.5 1885.2 L751.3 1884.7 L742.1 1884.2 L732.9 1883.8 L723.7 1883.5 L714.5 1883.2 L705.3 1882.9 L696.1 1882.8 L686.9 1882.7 L677.7 1882.6 L668.5 1882.7 L659.3 1882.7 L650.0 1882.9 L640.8 1883.1 L631.6 1883.3 L622.4 1883.7 L613.2 1884.1 L604.0 1884.5 L594.8 1885.1 L585.6 1885.6 L576.4 1886.3 L567.2 1887.0 L562.8 1891.7 L558.4 1895.8 L554.0 1899.9 L549.6 1904.1 L545.2 1908.2 L540.8 1912.4 L536.4 1916.6 L532.1 1920.8 L527.7 1925.0 L523.3 1929.3 L518.9 1933.6 L514.5 1937.9 L510.1 1942.2 L505.7 1946.5 L501.3 1950.9 L496.9 1955.3 L492.5 1959.7 L488.1 1964.1 L483.7 1968.6 L479.3 1973.1 L474.9 1977.6 L470.5 1982.1 L466.1 1986.7 L461.8 1991.2 L457.4 1995.9 L453.0 2000.5 L448.6 2005.1 L444.2 2009.8 L439.8 2014.5 L435.4 2019.3 L431.0 2024.0 L426.6 2028.8 L422.2 2033.6 L417.8 2038.5 L413.4 2043.3 L409.0 2048.2 L404.6 2053.2 L400.2 2058.1 L395.8 2063.1 L391.5 2068.1 L387.1 2073.2 L382.7 2078.3 L378.3 2083.4 L373.9 2088.5 L369.5 2093.7 L365.1 2098.9 L360.7 2104.1 L356.3 2109.4 L351.9 2114.7 L347.5 2120.0 L343.1 2125.4 L338.7 2130.8 L334.3 2136.2 L329.9 2141.7 L325.5 2147.2 L321.2 2152.7 L316.8 2158.3 L312.4 2163.9 L308.0 2169.6 L303.6 2175.3 L299.2 2181.0 L294.8 2186.7 L290.4 2192.5 L286.0 2198.3 L281.6 2204.2 L277.2 2210.1 L272.8 2216.0 L268.4 2222.0 L264.0 2228.0 L259.6 2234.1 L255.2 2240.2 L250.9 2246.3 L246.5 2252.5 L242.1 2258.7 L237.7 2265.0 L233.3 2271.3 L228.9 2277.6 L224.5 2284.0 Z" fill="#bcbcbc"/>
<g clip-path="url(#clipc)"><g filter="url(#hblur)">
<defs><linearGradient id="gc0" gradientUnits="userSpaceOnUse" x1="0" y1="2271" x2="0" y2="2298"><stop offset="0.000" stop-color="#8c8c8c"/><stop offset="1.000" stop-color="#8c8c8c"/></linearGradient><linearGradient id="gc1" gradientUnits="userSpaceOnUse" x1="0" y1="2259" x2="0" y2="2298"><stop offset="0.000" stop-color="#909090"/><stop offset="0.641" stop-color="#909090"/><stop offset="0.667" stop-color="#8f8f8f"/><stop offset="0.744" stop-color="#878787"/><stop offset="0.769" stop-color="#909090"/><stop offset="1.000" stop-color="#909090"/></linearGradient><linearGradient id="gc2" gradientUnits="userSpaceOnUse" x1="0" y1="2248" x2="0" y2="2298"><stop offset="0.000" stop-color="#979797"/><stop offset="0.500" stop-color="#979797"/><stop offset="0.560" stop-color="#8f8f8f"/><stop offset="0.580" stop-color="#a0a0a0"/><stop offset="0.780" stop-color="#888888"/><stop offset="1.000" stop-color="#888888"/></linearGradient><linearGradient id="gc3" gradientUnits="userSpaceOnUse" x1="0" y1="2237" x2="0" y2="2296"><stop offset="0.000" stop-color="#9e9e9e"/><stop offset="0.407" stop-color="#9e9e9e"/><stop offset="0.475" stop-color="#959595"/><stop offset="0.492" stop-color="#a0a0a0"/><stop offset="0.814" stop-color="#8d8d8d"/><stop offset="1.000" stop-color="#8c8c8c"/></linearGradient><linearGradient id="gc4" gradientUnits="userSpaceOnUse" x1="0" y1="2226" x2="0" y2="2295"><stop offset="0.000" stop-color="#a5a5a5"/><stop offset="0.348" stop-color="#a5a5a5"/><stop offset="0.406" stop-color="#9b9b9b"/><stop offset="0.420" stop-color="#a0a0a0"/><stop offset="0.841" stop-color="#949494"/><stop offset="1.000" stop-color="#949494"/></linearGradient><linearGradient id="gc5" gradientUnits="userSpaceOnUse" x1="0" y1="2214" x2="0" y2="2293"><stop offset="0.000" stop-color="#acacac"/><stop offset="0.316" stop-color="#acacac"/><stop offset="0.367" stop-color="#a2a2a2"/><stop offset="0.861" stop-color="#9c9c9c"/><stop offset="1.000" stop-color="#9c9c9c"/></linearGradient><linearGradient id="gc6" gradientUnits="userSpaceOnUse" x1="0" y1="2204" x2="0" y2="2291"><stop offset="0.000" stop-color="#b2b2b2"/><stop offset="0.276" stop-color="#b1b1b1"/><stop offset="0.310" stop-color="#aaaaaa"/><stop offset="0.322" stop-color="#a6a6a6"/><stop offset="1.000" stop-color="#a3a3a3"/></linearGradient><linearGradient id="gc7" gradientUnits="userSpaceOnUse" x1="0" y1="2193" x2="0" y2="2290"><stop offset="0.000" stop-color="#b7b7b7"/><stop offset="0.247" stop-color="#b7b7b7"/><stop offset="0.289" stop-color="#adadad"/><stop offset="0.299" stop-color="#a9a9a9"/><stop offset="1.000" stop-color="#a8a8a8"/></linearGradient><linearGradient id="gc8" gradientUnits="userSpaceOnUse" x1="0" y1="2183" x2="0" y2="2288"><stop offset="0.000" stop-color="#bcbcbc"/><stop offset="0.219" stop-color="#bcbcbc"/><stop offset="0.257" stop-color="#b3b3b3"/><stop offset="0.267" stop-color="#acacac"/><stop offset="1.000" stop-color="#adadad"/></linearGradient><linearGradient id="gc9" gradientUnits="userSpaceOnUse" x1="0" y1="2172" x2="0" y2="2287"><stop offset="0.000" stop-color="#c1c1c1"/><stop offset="0.200" stop-color="#c1c1c1"/><stop offset="0.235" stop-color="#b9b9b9"/><stop offset="0.243" stop-color="#afafaf"/><stop offset="1.000" stop-color="#b3b3b3"/></linearGradient><linearGradient id="gc10" gradientUnits="userSpaceOnUse" x1="0" y1="2161" x2="0" y2="2285"><stop offset="0.000" stop-color="#c6c6c6"/><stop offset="0.194" stop-color="#c6c6c6"/><stop offset="0.226" stop-color="#bdbdbd"/><stop offset="0.234" stop-color="#b3b3b3"/><stop offset="1.000" stop-color="#b8b8b8"/></linearGradient><linearGradient id="gc11" gradientUnits="userSpaceOnUse" x1="0" y1="2151" x2="0" y2="2284"><stop offset="0.000" stop-color="#c9c9c9"/><stop offset="0.173" stop-color="#c9c9c9"/><stop offset="0.203" stop-color="#c2c2c2"/><stop offset="0.211" stop-color="#b4b4b4"/><stop offset="1.000" stop-color="#bdbdbd"/></linearGradient><linearGradient id="gc12" gradientUnits="userSpaceOnUse" x1="0" y1="2141" x2="0" y2="2282"><stop offset="0.000" stop-color="#cbcbcb"/><stop offset="0.163" stop-color="#cbcbcb"/><stop offset="0.191" stop-color="#c3c3c3"/><stop offset="0.199" stop-color="#b5b5b5"/><stop offset="1.000" stop-color="#c0c0c0"/></linearGradient><linearGradient id="gc13" gradientUnits="userSpaceOnUse" x1="0" y1="2131" x2="0" y2="2281"><stop offset="0.000" stop-color="#cdcdcd"/><stop offset="0.153" stop-color="#cdcdcd"/><stop offset="0.180" stop-color="#c4c4c4"/><stop offset="0.187" stop-color="#b6b6b6"/><stop offset="1.000" stop-color="#c0c0c0"/></linearGradient><linearGradient id="gc14" gradientUnits="userSpaceOnUse" x1="0" y1="2122" x2="0" y2="2280"><stop offset="0.000" stop-color="#cfcfcf"/><stop offset="0.139" stop-color="#cfcfcf"/><stop offset="0.165" stop-color="#c5c5c5"/><stop offset="0.190" stop-color="#b8b8b8"/><stop offset="0.196" stop-color="#b6b6b6"/><stop offset="1.000" stop-color="#c0c0c0"/></linearGradient><linearGradient id="gc15" gradientUnits="userSpaceOnUse" x1="0" y1="2111" x2="0" y2="2278"><stop offset="0.000" stop-color="#d1d1d1"/><stop offset="0.138" stop-color="#d1d1d1"/><stop offset="0.162" stop-color="#c7c7c7"/><stop offset="0.222" stop-color="#b7b7b7"/><stop offset="1.000" stop-color="#c0c0c0"/></linearGradient><linearGradient id="gc16" gradientUnits="userSpaceOnUse" x1="0" y1="2101" x2="0" y2="2277"><stop offset="0.000" stop-color="#d3d3d3"/><stop offset="0.131" stop-color="#d3d3d3"/><stop offset="0.159" stop-color="#c7c7c7"/><stop offset="0.239" stop-color="#b7b7b7"/><stop offset="1.000" stop-color="#c0c0c0"/></linearGradient><linearGradient id="gc17" gradientUnits="userSpaceOnUse" x1="0" y1="2092" x2="0" y2="2276"><stop offset="0.000" stop-color="#d4d4d4"/><stop offset="0.120" stop-color="#d4d4d4"/><stop offset="0.147" stop-color="#c9c9c9"/><stop offset="0.250" stop-color="#b8b8b8"/><stop offset="1.000" stop-color="#c0c0c0"/></linearGradient><linearGradient id="gc18" gradientUnits="userSpaceOnUse" x1="0" y1="2083" x2="0" y2="2275"><stop offset="0.000" stop-color="#d5d5d5"/><stop offset="0.115" stop-color="#d5d5d5"/><stop offset="0.135" stop-color="#cbcbcb"/><stop offset="0.281" stop-color="#b8b8b8"/><stop offset="1.000" stop-color="#c0c0c0"/></linearGradient><linearGradient id="gc19" gradientUnits="userSpaceOnUse" x1="0" y1="2074" x2="0" y2="2274"><stop offset="0.000" stop-color="#d6d6d6"/><stop offset="0.105" stop-color="#d6d6d6"/><stop offset="0.130" stop-color="#cdcdcd"/><stop offset="0.335" stop-color="#b8b8b8"/><stop offset="1.000" stop-color="#c0c0c0"/></linearGradient><linearGradient id="gc20" gradientUnits="userSpaceOnUse" x1="0" y1="2064" x2="0" y2="2273"><stop offset="0.000" stop-color="#d7d7d7"/><stop offset="0.105" stop-color="#d7d7d7"/><stop offset="0.124" stop-color="#cecece"/><stop offset="0.392" stop-color="#b8b8b8"/><stop offset="1.000" stop-color="#c0c0c0"/></linearGradient><linearGradient id="gc21" gradientUnits="userSpaceOnUse" x1="0" y1="2055" x2="0" y2="2272"><stop offset="0.000" stop-color="#d8d8d8"/><stop offset="0.097" stop-color="#d8d8d8"/><stop offset="0.120" stop-color="#d0d0d0"/><stop offset="0.438" stop-color="#b8b8b8"/><stop offset="1.000" stop-color="#c0c0c0"/></linearGradient><linearGradient id="gc22" gradientUnits="userSpaceOnUse" x1="0" y1="2046" x2="0" y2="2271"><stop offset="0.000" stop-color="#d9d9d9"/><stop offset="0.093" stop-color="#d9d9d9"/><stop offset="0.116" stop-color="#d1d1d1"/><stop offset="0.480" stop-color="#b8b8b8"/><stop offset="1.000" stop-color="#c0c0c0"/></linearGradient><linearGradient id="gc23" gradientUnits="userSpaceOnUse" x1="0" y1="2037" x2="0" y2="2270"><stop offset="0.000" stop-color="#dadada"/><stop offset="0.090" stop-color="#dadada"/><stop offset="0.112" stop-color="#d3d3d3"/><stop offset="0.519" stop-color="#b8b8b8"/><stop offset="1.000" stop-color="#c0c0c0"/></linearGradient><linearGradient id="gc24" gradientUnits="userSpaceOnUse" x1="0" y1="2028" x2="0" y2="2269"><stop offset="0.000" stop-color="#dadada"/><stop offset="0.087" stop-color="#dadada"/><stop offset="0.108" stop-color="#d4d4d4"/><stop offset="0.560" stop-color="#b8b8b8"/><stop offset="1.000" stop-color="#c0c0c0"/></linearGradient><linearGradient id="gc25" gradientUnits="userSpaceOnUse" x1="0" y1="2019" x2="0" y2="2268"><stop offset="0.000" stop-color="#dbdbdb"/><stop offset="0.084" stop-color="#dbdbdb"/><stop offset="0.104" stop-color="#d6d6d6"/><stop offset="0.598" stop-color="#b8b8b8"/><stop offset="1.000" stop-color="#c0c0c0"/></linearGradient><linearGradient id="gc26" gradientUnits="userSpaceOnUse" x1="0" y1="2010" x2="0" y2="2267"><stop offset="0.000" stop-color="#dbdbdb"/><stop offset="0.082" stop-color="#dbdbdb"/><stop offset="0.101" stop-color="#d7d7d7"/><stop offset="0.634" stop-color="#b8b8b8"/><stop offset="1.000" stop-color="#c0c0c0"/></linearGradient><linearGradient id="gc27" gradientUnits="userSpaceOnUse" x1="0" y1="2002" x2="0" y2="2266"><stop offset="0.000" stop-color="#dcdcdc"/><stop offset="0.080" stop-color="#dbdbdb"/><stop offset="0.095" stop-color="#d9d9d9"/><stop offset="0.670" stop-color="#b8b8b8"/><stop offset="1.000" stop-color="#c1c1c1"/></linearGradient><linearGradient id="gc28" gradientUnits="userSpaceOnUse" x1="0" y1="1994" x2="0" y2="2266"><stop offset="0.000" stop-color="#dcdcdc"/><stop offset="0.074" stop-color="#dcdcdc"/><stop offset="0.092" stop-color="#dadada"/><stop offset="0.699" stop-color="#b8b8b8"/><stop offset="0.963" stop-color="#c1c1c1"/><stop offset="1.000" stop-color="#c1c1c1"/></linearGradient><linearGradient id="gc29" gradientUnits="userSpaceOnUse" x1="0" y1="1985" x2="0" y2="2265"><stop offset="0.000" stop-color="#dcdcdc"/><stop offset="0.089" stop-color="#dcdcdc"/><stop offset="0.732" stop-color="#b8b8b8"/><stop offset="0.964" stop-color="#c1c1c1"/><stop offset="1.000" stop-color="#c1c1c1"/></linearGradient><linearGradient id="gc30" gradientUnits="userSpaceOnUse" x1="0" y1="1976" x2="0" y2="2264"><stop offset="0.000" stop-color="#dddddd"/><stop offset="0.090" stop-color="#dedede"/><stop offset="0.760" stop-color="#b8b8b8"/><stop offset="0.969" stop-color="#c1c1c1"/><stop offset="1.000" stop-color="#c1c1c1"/></linearGradient><linearGradient id="gc31" gradientUnits="userSpaceOnUse" x1="0" y1="1968" x2="0" y2="2264"><stop offset="0.000" stop-color="#dddddd"/><stop offset="0.068" stop-color="#dddddd"/><stop offset="0.084" stop-color="#e0e0e0"/><stop offset="0.784" stop-color="#b8b8b8"/><stop offset="0.966" stop-color="#c1c1c1"/><stop offset="1.000" stop-color="#c1c1c1"/></linearGradient><linearGradient id="gc32" gradientUnits="userSpaceOnUse" x1="0" y1="1960" x2="0" y2="2263"><stop offset="0.000" stop-color="#dedede"/><stop offset="0.066" stop-color="#dedede"/><stop offset="0.083" stop-color="#e2e2e2"/><stop offset="0.809" stop-color="#b8b8b8"/><stop offset="0.970" stop-color="#c1c1c1"/><stop offset="1.000" stop-color="#c1c1c1"/></linearGradient><linearGradient id="gc33" gradientUnits="userSpaceOnUse" x1="0" y1="1952" x2="0" y2="2263"><stop offset="0.000" stop-color="#dddddd"/><stop offset="0.064" stop-color="#dddddd"/><stop offset="0.074" stop-color="#e4e4e4"/><stop offset="0.823" stop-color="#b8b8b8"/><stop offset="0.968" stop-color="#c1c1c1"/><stop offset="1.000" stop-color="#c2c2c2"/></linearGradient><linearGradient id="gc34" gradientUnits="userSpaceOnUse" x1="0" y1="1944" x2="0" y2="2262"><stop offset="0.000" stop-color="#d9d9d9"/><stop offset="0.063" stop-color="#d9d9d9"/><stop offset="0.132" stop-color="#e6e6e6"/><stop offset="0.843" stop-color="#b8b8b8"/><stop offset="0.972" stop-color="#c2c2c2"/><stop offset="1.000" stop-color="#c2c2c2"/></linearGradient><linearGradient id="gc35" gradientUnits="userSpaceOnUse" x1="0" y1="1936" x2="0" y2="2262"><stop offset="0.000" stop-color="#d5d5d5"/><stop offset="0.061" stop-color="#d5d5d5"/><stop offset="0.187" stop-color="#e7e7e7"/><stop offset="0.856" stop-color="#b8b8b8"/><stop offset="0.969" stop-color="#c2c2c2"/><stop offset="1.000" stop-color="#c2c2c2"/></linearGradient><linearGradient id="gc36" gradientUnits="userSpaceOnUse" x1="0" y1="1928" x2="0" y2="2261"><stop offset="0.000" stop-color="#d0d0d0"/><stop offset="0.060" stop-color="#d0d0d0"/><stop offset="0.240" stop-color="#e8e8e8"/><stop offset="0.868" stop-color="#b9b9b9"/><stop offset="0.973" stop-color="#c2c2c2"/><stop offset="1.000" stop-color="#c2c2c2"/></linearGradient><linearGradient id="gc37" gradientUnits="userSpaceOnUse" x1="0" y1="1920" x2="0" y2="2261"><stop offset="0.000" stop-color="#cccccc"/><stop offset="0.062" stop-color="#cccccc"/><stop offset="0.287" stop-color="#e8e8e8"/><stop offset="0.877" stop-color="#b9b9b9"/><stop offset="0.974" stop-color="#c2c2c2"/><stop offset="1.000" stop-color="#c2c2c2"/></linearGradient><linearGradient id="gc38" gradientUnits="userSpaceOnUse" x1="0" y1="1913" x2="0" y2="2261"><stop offset="0.000" stop-color="#c8c8c8"/><stop offset="0.057" stop-color="#c8c8c8"/><stop offset="0.328" stop-color="#e8e8e8"/><stop offset="0.885" stop-color="#bababa"/><stop offset="0.974" stop-color="#c3c3c3"/><stop offset="1.000" stop-color="#c3c3c3"/></linearGradient><linearGradient id="gc39" gradientUnits="userSpaceOnUse" x1="0" y1="1905" x2="0" y2="2260"><stop offset="0.000" stop-color="#c1c1c1"/><stop offset="0.056" stop-color="#c1c1c1"/><stop offset="0.372" stop-color="#e8e8e8"/><stop offset="0.896" stop-color="#bbbbbb"/><stop offset="0.975" stop-color="#c3c3c3"/><stop offset="1.000" stop-color="#c3c3c3"/></linearGradient><linearGradient id="gc40" gradientUnits="userSpaceOnUse" x1="0" y1="1897" x2="0" y2="2260"><stop offset="0.000" stop-color="#b9b9b9"/><stop offset="0.055" stop-color="#b9b9b9"/><stop offset="0.410" stop-color="#e8e8e8"/><stop offset="0.904" stop-color="#bbbbbb"/><stop offset="0.975" stop-color="#c3c3c3"/><stop offset="1.000" stop-color="#c3c3c3"/></linearGradient><linearGradient id="gc41" gradientUnits="userSpaceOnUse" x1="0" y1="1890" x2="0" y2="2260"><stop offset="0.000" stop-color="#b2b2b2"/><stop offset="0.054" stop-color="#b2b2b2"/><stop offset="0.438" stop-color="#e8e8e8"/><stop offset="0.911" stop-color="#bcbcbc"/><stop offset="0.976" stop-color="#c3c3c3"/><stop offset="1.000" stop-color="#c3c3c3"/></linearGradient><linearGradient id="gc42" gradientUnits="userSpaceOnUse" x1="0" y1="1882" x2="0" y2="2260"><stop offset="0.000" stop-color="#aaaaaa"/><stop offset="0.053" stop-color="#ababab"/><stop offset="0.463" stop-color="#e8e8e8"/><stop offset="0.921" stop-color="#bcbcbc"/><stop offset="0.976" stop-color="#c3c3c3"/><stop offset="1.000" stop-color="#c3c3c3"/></linearGradient><linearGradient id="gc43" gradientUnits="userSpaceOnUse" x1="0" y1="1878" x2="0" y2="2260"><stop offset="0.000" stop-color="#a3a3a3"/><stop offset="0.045" stop-color="#a3a3a3"/><stop offset="0.482" stop-color="#e8e8e8"/><stop offset="0.927" stop-color="#bdbdbd"/><stop offset="0.976" stop-color="#c4c4c4"/><stop offset="1.000" stop-color="#c4c4c4"/></linearGradient><linearGradient id="gc44" gradientUnits="userSpaceOnUse" x1="0" y1="1878" x2="0" y2="2260"><stop offset="0.000" stop-color="#9c9c9c"/><stop offset="0.024" stop-color="#9c9c9c"/><stop offset="0.497" stop-color="#e8e8e8"/><stop offset="0.932" stop-color="#bdbdbd"/><stop offset="0.976" stop-color="#c4c4c4"/><stop offset="1.000" stop-color="#c4c4c4"/></linearGradient><linearGradient id="gc45" gradientUnits="userSpaceOnUse" x1="0" y1="1877" x2="0" y2="2260"><stop offset="0.000" stop-color="#999999"/><stop offset="0.026" stop-color="#9a9a9a"/><stop offset="0.512" stop-color="#e8e8e8"/><stop offset="0.937" stop-color="#bebebe"/><stop offset="0.977" stop-color="#c4c4c4"/><stop offset="1.000" stop-color="#c4c4c4"/></linearGradient><linearGradient id="gc46" gradientUnits="userSpaceOnUse" x1="0" y1="1877" x2="0" y2="2260"><stop offset="0.000" stop-color="#969696"/><stop offset="0.026" stop-color="#979797"/><stop offset="0.125" stop-color="#a5a5a5"/><stop offset="0.525" stop-color="#e8e8e8"/><stop offset="0.943" stop-color="#bfbfbf"/><stop offset="0.977" stop-color="#c4c4c4"/><stop offset="1.000" stop-color="#c4c4c4"/></linearGradient><linearGradient id="gc47" gradientUnits="userSpaceOnUse" x1="0" y1="1876" x2="0" y2="2260"><stop offset="0.000" stop-color="#949494"/><stop offset="0.023" stop-color="#949494"/><stop offset="0.044" stop-color="#969696"/><stop offset="0.169" stop-color="#a7a7a7"/><stop offset="0.326" stop-color="#c2c2c2"/><stop offset="0.536" stop-color="#e8e8e8"/><stop offset="0.945" stop-color="#c0c0c0"/><stop offset="0.977" stop-color="#c5c5c5"/><stop offset="1.000" stop-color="#c5c5c5"/></linearGradient><linearGradient id="gc48" gradientUnits="userSpaceOnUse" x1="0" y1="1876" x2="0" y2="2260"><stop offset="0.000" stop-color="#919191"/><stop offset="0.026" stop-color="#919191"/><stop offset="0.062" stop-color="#949494"/><stop offset="0.195" stop-color="#a7a7a7"/><stop offset="0.352" stop-color="#c2c2c2"/><stop offset="0.547" stop-color="#e8e8e8"/><stop offset="0.948" stop-color="#c1c1c1"/><stop offset="0.977" stop-color="#c5c5c5"/><stop offset="1.000" stop-color="#c5c5c5"/></linearGradient><linearGradient id="gc49" gradientUnits="userSpaceOnUse" x1="0" y1="1875" x2="0" y2="2260"><stop offset="0.000" stop-color="#8e8e8e"/><stop offset="0.031" stop-color="#8e8e8e"/><stop offset="0.078" stop-color="#929292"/><stop offset="0.213" stop-color="#a5a5a5"/><stop offset="0.369" stop-color="#c1c1c1"/><stop offset="0.558" stop-color="#e8e8e8"/><stop offset="0.953" stop-color="#c2c2c2"/><stop offset="0.977" stop-color="#c5c5c5"/><stop offset="1.000" stop-color="#c6c6c6"/></linearGradient><linearGradient id="gc50" gradientUnits="userSpaceOnUse" x1="0" y1="1875" x2="0" y2="2260"><stop offset="0.000" stop-color="#8b8b8b"/><stop offset="0.036" stop-color="#8b8b8b"/><stop offset="0.091" stop-color="#909090"/><stop offset="0.231" stop-color="#a4a4a4"/><stop offset="0.387" stop-color="#c0c0c0"/><stop offset="0.569" stop-color="#e8e8e8"/><stop offset="0.956" stop-color="#c3c3c3"/><stop offset="0.979" stop-color="#c6c6c6"/><stop offset="1.000" stop-color="#c6c6c6"/></linearGradient><linearGradient id="gc51" gradientUnits="userSpaceOnUse" x1="0" y1="1875" x2="0" y2="2261"><stop offset="0.000" stop-color="#888888"/><stop offset="0.041" stop-color="#898989"/><stop offset="0.101" stop-color="#8e8e8e"/><stop offset="0.168" stop-color="#969696"/><stop offset="0.244" stop-color="#a1a1a1"/><stop offset="0.399" stop-color="#bfbfbf"/><stop offset="0.578" stop-color="#e8e8e8"/><stop offset="0.959" stop-color="#c4c4c4"/><stop offset="0.977" stop-color="#c6c6c6"/><stop offset="1.000" stop-color="#c6c6c6"/></linearGradient><linearGradient id="gc52" gradientUnits="userSpaceOnUse" x1="0" y1="1875" x2="0" y2="2261"><stop offset="0.000" stop-color="#858585"/><stop offset="0.049" stop-color="#868686"/><stop offset="0.111" stop-color="#8b8b8b"/><stop offset="0.181" stop-color="#949494"/><stop offset="0.256" stop-color="#9f9f9f"/><stop offset="0.412" stop-color="#bdbdbd"/><stop offset="0.588" stop-color="#e8e8e8"/><stop offset="0.961" stop-color="#c6c6c6"/><stop offset="1.000" stop-color="#c7c7c7"/></linearGradient><linearGradient id="gc53" gradientUnits="userSpaceOnUse" x1="0" y1="1874" x2="0" y2="2261"><stop offset="0.000" stop-color="#828282"/><stop offset="0.054" stop-color="#838383"/><stop offset="0.119" stop-color="#888888"/><stop offset="0.191" stop-color="#919191"/><stop offset="0.269" stop-color="#9c9c9c"/><stop offset="0.346" stop-color="#ababab"/><stop offset="0.429" stop-color="#bdbdbd"/><stop offset="0.512" stop-color="#d1d1d1"/><stop offset="0.597" stop-color="#e8e8e8"/><stop offset="0.966" stop-color="#c7c7c7"/><stop offset="1.000" stop-color="#c7c7c7"/></linearGradient><linearGradient id="gc54" gradientUnits="userSpaceOnUse" x1="0" y1="1874" x2="0" y2="2262"><stop offset="0.000" stop-color="#808080"/><stop offset="0.054" stop-color="#818181"/><stop offset="0.121" stop-color="#868686"/><stop offset="0.196" stop-color="#8f8f8f"/><stop offset="0.273" stop-color="#9b9b9b"/><stop offset="0.351" stop-color="#a9a9a9"/><stop offset="0.433" stop-color="#bbbbbb"/><stop offset="0.515" stop-color="#cfcfcf"/><stop offset="0.606" stop-color="#e8e8e8"/><stop offset="0.966" stop-color="#c8c8c8"/><stop offset="1.000" stop-color="#c8c8c8"/></linearGradient><linearGradient id="gc55" gradientUnits="userSpaceOnUse" x1="0" y1="1874" x2="0" y2="2262"><stop offset="0.000" stop-color="#7d7d7d"/><stop offset="0.057" stop-color="#7e7e7e"/><stop offset="0.124" stop-color="#838383"/><stop offset="0.198" stop-color="#8c8c8c"/><stop offset="0.276" stop-color="#989898"/><stop offset="0.356" stop-color="#a8a8a8"/><stop offset="0.441" stop-color="#bababa"/><stop offset="0.526" stop-color="#cfcfcf"/><stop offset="0.613" stop-color="#e8e8e8"/><stop offset="0.977" stop-color="#c8c8c8"/><stop offset="1.000" stop-color="#c8c8c8"/></linearGradient><linearGradient id="gc56" gradientUnits="userSpaceOnUse" x1="0" y1="1874" x2="0" y2="2263"><stop offset="0.000" stop-color="#7a7a7a"/><stop offset="0.057" stop-color="#7b7b7b"/><stop offset="0.126" stop-color="#818181"/><stop offset="0.201" stop-color="#8a8a8a"/><stop offset="0.280" stop-color="#979797"/><stop offset="0.360" stop-color="#a6a6a6"/><stop offset="0.445" stop-color="#b9b9b9"/><stop offset="0.532" stop-color="#cfcfcf"/><stop offset="0.620" stop-color="#e8e8e8"/><stop offset="0.977" stop-color="#c9c9c9"/><stop offset="1.000" stop-color="#c9c9c9"/></linearGradient><linearGradient id="gc57" gradientUnits="userSpaceOnUse" x1="0" y1="1874" x2="0" y2="2263"><stop offset="0.000" stop-color="#777777"/><stop offset="0.057" stop-color="#787878"/><stop offset="0.126" stop-color="#7e7e7e"/><stop offset="0.203" stop-color="#888888"/><stop offset="0.283" stop-color="#959595"/><stop offset="0.365" stop-color="#a5a5a5"/><stop offset="0.450" stop-color="#b8b8b8"/><stop offset="0.537" stop-color="#cecece"/><stop offset="0.627" stop-color="#e8e8e8"/><stop offset="0.977" stop-color="#cacaca"/><stop offset="1.000" stop-color="#cacaca"/></linearGradient><linearGradient id="gc58" gradientUnits="userSpaceOnUse" x1="0" y1="1874" x2="0" y2="2264"><stop offset="0.000" stop-color="#757575"/><stop offset="0.056" stop-color="#767676"/><stop offset="0.126" stop-color="#7b7b7b"/><stop offset="0.203" stop-color="#858585"/><stop offset="0.285" stop-color="#929292"/><stop offset="0.367" stop-color="#a3a3a3"/><stop offset="0.454" stop-color="#b7b7b7"/><stop offset="0.541" stop-color="#cdcdcd"/><stop offset="0.633" stop-color="#e8e8e8"/><stop offset="0.974" stop-color="#cbcbcb"/><stop offset="1.000" stop-color="#cbcbcb"/></linearGradient><linearGradient id="gc59" gradientUnits="userSpaceOnUse" x1="0" y1="1874" x2="0" y2="2265"><stop offset="0.000" stop-color="#727272"/><stop offset="0.056" stop-color="#737373"/><stop offset="0.128" stop-color="#797979"/><stop offset="0.205" stop-color="#838383"/><stop offset="0.286" stop-color="#909090"/><stop offset="0.368" stop-color="#a1a1a1"/><stop offset="0.455" stop-color="#b5b5b5"/><stop offset="0.542" stop-color="#cccccc"/><stop offset="0.639" stop-color="#e8e8e8"/><stop offset="0.974" stop-color="#cccccc"/><stop offset="1.000" stop-color="#cccccc"/></linearGradient><linearGradient id="gc60" gradientUnits="userSpaceOnUse" x1="0" y1="1874" x2="0" y2="2265"><stop offset="0.000" stop-color="#6f6f6f"/><stop offset="0.056" stop-color="#707070"/><stop offset="0.128" stop-color="#767676"/><stop offset="0.207" stop-color="#818181"/><stop offset="0.289" stop-color="#8e8e8e"/><stop offset="0.373" stop-color="#9f9f9f"/><stop offset="0.460" stop-color="#b4b4b4"/><stop offset="0.547" stop-color="#cbcbcb"/><stop offset="0.647" stop-color="#e8e8e8"/><stop offset="0.974" stop-color="#cdcdcd"/><stop offset="1.000" stop-color="#cdcdcd"/></linearGradient><linearGradient id="gc61" gradientUnits="userSpaceOnUse" x1="0" y1="1874" x2="0" y2="2266"><stop offset="0.000" stop-color="#6d6d6d"/><stop offset="0.059" stop-color="#6e6e6e"/><stop offset="0.130" stop-color="#747474"/><stop offset="0.209" stop-color="#7e7e7e"/><stop offset="0.293" stop-color="#8d8d8d"/><stop offset="0.378" stop-color="#9e9e9e"/><stop offset="0.467" stop-color="#b3b3b3"/><stop offset="0.556" stop-color="#cbcbcb"/><stop offset="0.653" stop-color="#e8e8e8"/><stop offset="0.974" stop-color="#cdcdcd"/><stop offset="1.000" stop-color="#cdcdcd"/></linearGradient><linearGradient id="gc62" gradientUnits="userSpaceOnUse" x1="0" y1="1874" x2="0" y2="2267"><stop offset="0.000" stop-color="#6a6a6a"/><stop offset="0.059" stop-color="#6b6b6b"/><stop offset="0.132" stop-color="#727272"/><stop offset="0.214" stop-color="#7c7c7c"/><stop offset="0.298" stop-color="#8b8b8b"/><stop offset="0.382" stop-color="#9c9c9c"/><stop offset="0.471" stop-color="#b2b2b2"/><stop offset="0.560" stop-color="#cacaca"/><stop offset="0.662" stop-color="#e8e8e8"/><stop offset="0.975" stop-color="#cecece"/><stop offset="1.000" stop-color="#cecece"/></linearGradient><linearGradient id="gc63" gradientUnits="userSpaceOnUse" x1="0" y1="1875" x2="0" y2="2267"><stop offset="0.000" stop-color="#686868"/><stop offset="0.061" stop-color="#696969"/><stop offset="0.135" stop-color="#707070"/><stop offset="0.217" stop-color="#7b7b7b"/><stop offset="0.301" stop-color="#898989"/><stop offset="0.388" stop-color="#9b9b9b"/><stop offset="0.480" stop-color="#b1b1b1"/><stop offset="0.574" stop-color="#cbcbcb"/><stop offset="0.668" stop-color="#e8e8e8"/><stop offset="0.974" stop-color="#cfcfcf"/><stop offset="1.000" stop-color="#cfcfcf"/></linearGradient><linearGradient id="gc64" gradientUnits="userSpaceOnUse" x1="0" y1="1875" x2="0" y2="2268"><stop offset="0.000" stop-color="#656565"/><stop offset="0.061" stop-color="#676767"/><stop offset="0.137" stop-color="#6d6d6d"/><stop offset="0.219" stop-color="#787878"/><stop offset="0.305" stop-color="#878787"/><stop offset="0.394" stop-color="#9a9a9a"/><stop offset="0.486" stop-color="#b1b1b1"/><stop offset="0.580" stop-color="#cacaca"/><stop offset="0.677" stop-color="#e8e8e8"/><stop offset="0.975" stop-color="#cfcfcf"/><stop offset="1.000" stop-color="#cfcfcf"/></linearGradient><linearGradient id="gc65" gradientUnits="userSpaceOnUse" x1="0" y1="1875" x2="0" y2="2269"><stop offset="0.000" stop-color="#636363"/><stop offset="0.061" stop-color="#646464"/><stop offset="0.137" stop-color="#6b6b6b"/><stop offset="0.221" stop-color="#767676"/><stop offset="0.307" stop-color="#858585"/><stop offset="0.396" stop-color="#989898"/><stop offset="0.490" stop-color="#afafaf"/><stop offset="0.584" stop-color="#c9c9c9"/><stop offset="0.685" stop-color="#e8e8e8"/><stop offset="0.975" stop-color="#d0d0d0"/><stop offset="1.000" stop-color="#d0d0d0"/></linearGradient><linearGradient id="gc66" gradientUnits="userSpaceOnUse" x1="0" y1="1875" x2="0" y2="2270"><stop offset="0.000" stop-color="#606060"/><stop offset="0.063" stop-color="#626262"/><stop offset="0.139" stop-color="#696969"/><stop offset="0.223" stop-color="#747474"/><stop offset="0.311" stop-color="#848484"/><stop offset="0.400" stop-color="#969696"/><stop offset="0.494" stop-color="#aeaeae"/><stop offset="0.585" stop-color="#c7c7c7"/><stop offset="0.694" stop-color="#e8e8e8"/><stop offset="0.975" stop-color="#d1d1d1"/><stop offset="1.000" stop-color="#d1d1d1"/></linearGradient><linearGradient id="gc67" gradientUnits="userSpaceOnUse" x1="0" y1="1876" x2="0" y2="2271"><stop offset="0.000" stop-color="#5e5e5e"/><stop offset="0.063" stop-color="#606060"/><stop offset="0.139" stop-color="#666666"/><stop offset="0.223" stop-color="#727272"/><stop offset="0.314" stop-color="#828282"/><stop offset="0.405" stop-color="#969696"/><stop offset="0.501" stop-color="#adadad"/><stop offset="0.600" stop-color="#c9c9c9"/><stop offset="0.699" stop-color="#e8e8e8"/><stop offset="0.975" stop-color="#d1d1d1"/><stop offset="1.000" stop-color="#d1d1d1"/></linearGradient><linearGradient id="gc68" gradientUnits="userSpaceOnUse" x1="0" y1="1876" x2="0" y2="2272"><stop offset="0.000" stop-color="#5c5c5c"/><stop offset="0.063" stop-color="#5d5d5d"/><stop offset="0.141" stop-color="#646464"/><stop offset="0.227" stop-color="#707070"/><stop offset="0.318" stop-color="#808080"/><stop offset="0.409" stop-color="#949494"/><stop offset="0.505" stop-color="#acacac"/><stop offset="0.601" stop-color="#c7c7c7"/><stop offset="0.707" stop-color="#e8e8e8"/><stop offset="0.972" stop-color="#d2d2d2"/><stop offset="1.000" stop-color="#d2d2d2"/></linearGradient><linearGradient id="gc69" gradientUnits="userSpaceOnUse" x1="0" y1="1876" x2="0" y2="2273"><stop offset="0.000" stop-color="#5a5a5a"/><stop offset="0.065" stop-color="#5b5b5b"/><stop offset="0.144" stop-color="#626262"/><stop offset="0.229" stop-color="#6e6e6e"/><stop offset="0.322" stop-color="#7f7f7f"/><stop offset="0.416" stop-color="#939393"/><stop offset="0.511" stop-color="#ababab"/><stop offset="0.612" stop-color="#c8c8c8"/><stop offset="0.713" stop-color="#e8e8e8"/><stop offset="0.972" stop-color="#d2d2d2"/><stop offset="1.000" stop-color="#d2d2d2"/></linearGradient><linearGradient id="gc70" gradientUnits="userSpaceOnUse" x1="0" y1="1877" x2="0" y2="2274"><stop offset="0.000" stop-color="#585858"/><stop offset="0.065" stop-color="#595959"/><stop offset="0.146" stop-color="#616161"/><stop offset="0.232" stop-color="#6d6d6d"/><stop offset="0.325" stop-color="#7d7d7d"/><stop offset="0.418" stop-color="#929292"/><stop offset="0.516" stop-color="#ababab"/><stop offset="0.617" stop-color="#c7c7c7"/><stop offset="0.720" stop-color="#e8e8e8"/><stop offset="0.972" stop-color="#d2d2d2"/><stop offset="1.000" stop-color="#d2d2d2"/></linearGradient><linearGradient id="gc71" gradientUnits="userSpaceOnUse" x1="0" y1="1878" x2="0" y2="2275"><stop offset="0.000" stop-color="#565656"/><stop offset="0.065" stop-color="#575757"/><stop offset="0.146" stop-color="#5f5f5f"/><stop offset="0.232" stop-color="#6b6b6b"/><stop offset="0.325" stop-color="#7c7c7c"/><stop offset="0.421" stop-color="#919191"/><stop offset="0.519" stop-color="#aaaaaa"/><stop offset="0.620" stop-color="#c7c7c7"/><stop offset="0.723" stop-color="#e8e8e8"/><stop offset="0.972" stop-color="#d2d2d2"/><stop offset="1.000" stop-color="#d2d2d2"/></linearGradient><linearGradient id="gc72" gradientUnits="userSpaceOnUse" x1="0" y1="1878" x2="0" y2="2276"><stop offset="0.000" stop-color="#545454"/><stop offset="0.065" stop-color="#555555"/><stop offset="0.146" stop-color="#5d5d5d"/><stop offset="0.234" stop-color="#696969"/><stop offset="0.327" stop-color="#7a7a7a"/><stop offset="0.422" stop-color="#8f8f8f"/><stop offset="0.520" stop-color="#a9a9a9"/><stop offset="0.623" stop-color="#c7c7c7"/><stop offset="0.726" stop-color="#e8e8e8"/><stop offset="0.972" stop-color="#d2d2d2"/><stop offset="1.000" stop-color="#d2d2d2"/></linearGradient><linearGradient id="gc73" gradientUnits="userSpaceOnUse" x1="0" y1="1879" x2="0" y2="2277"><stop offset="0.000" stop-color="#525252"/><stop offset="0.065" stop-color="#535353"/><stop offset="0.146" stop-color="#5b5b5b"/><stop offset="0.234" stop-color="#676767"/><stop offset="0.329" stop-color="#797979"/><stop offset="0.425" stop-color="#8e8e8e"/><stop offset="0.523" stop-color="#a8a8a8"/><stop offset="0.626" stop-color="#c6c6c6"/><stop offset="0.729" stop-color="#e8e8e8"/><stop offset="0.975" stop-color="#d2d2d2"/><stop offset="1.000" stop-color="#d2d2d2"/></linearGradient><linearGradient id="gc74" gradientUnits="userSpaceOnUse" x1="0" y1="1879" x2="0" y2="2278"><stop offset="0.000" stop-color="#505050"/><stop offset="0.065" stop-color="#515151"/><stop offset="0.145" stop-color="#595959"/><stop offset="0.233" stop-color="#656565"/><stop offset="0.328" stop-color="#777777"/><stop offset="0.424" stop-color="#8c8c8c"/><stop offset="0.524" stop-color="#a7a7a7"/><stop offset="0.622" stop-color="#c3c3c3"/><stop offset="0.734" stop-color="#e8e8e8"/><stop offset="0.975" stop-color="#d2d2d2"/><stop offset="1.000" stop-color="#d2d2d2"/></linearGradient><linearGradient id="gc75" gradientUnits="userSpaceOnUse" x1="0" y1="1880" x2="0" y2="2279"><stop offset="0.000" stop-color="#4e4e4e"/><stop offset="0.065" stop-color="#505050"/><stop offset="0.148" stop-color="#575757"/><stop offset="0.236" stop-color="#646464"/><stop offset="0.331" stop-color="#767676"/><stop offset="0.426" stop-color="#8c8c8c"/><stop offset="0.526" stop-color="#a6a6a6"/><stop offset="0.627" stop-color="#c4c4c4"/><stop offset="0.737" stop-color="#e8e8e8"/><stop offset="0.975" stop-color="#d2d2d2"/><stop offset="1.000" stop-color="#d2d2d2"/></linearGradient><linearGradient id="gc76" gradientUnits="userSpaceOnUse" x1="0" y1="1881" x2="0" y2="2281"><stop offset="0.000" stop-color="#4c4c4c"/><stop offset="0.065" stop-color="#4e4e4e"/><stop offset="0.147" stop-color="#565656"/><stop offset="0.237" stop-color="#636363"/><stop offset="0.333" stop-color="#757575"/><stop offset="0.427" stop-color="#8b8b8b"/><stop offset="0.527" stop-color="#a5a5a5"/><stop offset="0.630" stop-color="#c4c4c4"/><stop offset="0.738" stop-color="#e8e8e8"/><stop offset="0.973" stop-color="#d2d2d2"/><stop offset="1.000" stop-color="#d2d2d2"/></linearGradient><linearGradient id="gc77" gradientUnits="userSpaceOnUse" x1="0" y1="1882" x2="0" y2="2282"><stop offset="0.000" stop-color="#4b4b4b"/><stop offset="0.068" stop-color="#4c4c4c"/><stop offset="0.150" stop-color="#545454"/><stop offset="0.240" stop-color="#626262"/><stop offset="0.335" stop-color="#747474"/><stop offset="0.432" stop-color="#8b8b8b"/><stop offset="0.532" stop-color="#a6a6a6"/><stop offset="0.635" stop-color="#c5c5c5"/><stop offset="0.740" stop-color="#e8e8e8"/><stop offset="0.973" stop-color="#d2d2d2"/><stop offset="1.000" stop-color="#d2d2d2"/></linearGradient><linearGradient id="gc78" gradientUnits="userSpaceOnUse" x1="0" y1="1882" x2="0" y2="2283"><stop offset="0.000" stop-color="#494949"/><stop offset="0.067" stop-color="#4b4b4b"/><stop offset="0.150" stop-color="#535353"/><stop offset="0.239" stop-color="#606060"/><stop offset="0.334" stop-color="#727272"/><stop offset="0.431" stop-color="#898989"/><stop offset="0.534" stop-color="#a4a4a4"/><stop offset="0.638" stop-color="#c4c4c4"/><stop offset="0.743" stop-color="#e8e8e8"/><stop offset="0.975" stop-color="#d2d2d2"/><stop offset="1.000" stop-color="#d2d2d2"/></linearGradient><linearGradient id="gc79" gradientUnits="userSpaceOnUse" x1="0" y1="1883" x2="0" y2="2285"><stop offset="0.000" stop-color="#484848"/><stop offset="0.067" stop-color="#494949"/><stop offset="0.149" stop-color="#515151"/><stop offset="0.239" stop-color="#5f5f5f"/><stop offset="0.336" stop-color="#717171"/><stop offset="0.433" stop-color="#888888"/><stop offset="0.535" stop-color="#a4a4a4"/><stop offset="0.639" stop-color="#c4c4c4"/><stop offset="0.744" stop-color="#e8e8e8"/><stop offset="0.973" stop-color="#d2d2d2"/><stop offset="1.000" stop-color="#d2d2d2"/></linearGradient><linearGradient id="gc80" gradientUnits="userSpaceOnUse" x1="0" y1="1884" x2="0" y2="2286"><stop offset="0.000" stop-color="#464646"/><stop offset="0.067" stop-color="#484848"/><stop offset="0.149" stop-color="#505050"/><stop offset="0.239" stop-color="#5d5d5d"/><stop offset="0.336" stop-color="#707070"/><stop offset="0.433" stop-color="#878787"/><stop offset="0.535" stop-color="#a3a3a3"/><stop offset="0.639" stop-color="#c3c3c3"/><stop offset="0.746" stop-color="#e8e8e8"/><stop offset="0.973" stop-color="#d2d2d2"/><stop offset="1.000" stop-color="#d2d2d2"/></linearGradient><linearGradient id="gc81" gradientUnits="userSpaceOnUse" x1="0" y1="1885" x2="0" y2="2288"><stop offset="0.000" stop-color="#454545"/><stop offset="0.067" stop-color="#474747"/><stop offset="0.149" stop-color="#4f4f4f"/><stop offset="0.238" stop-color="#5c5c5c"/><stop offset="0.335" stop-color="#6f6f6f"/><stop offset="0.432" stop-color="#868686"/><stop offset="0.533" stop-color="#a2a2a2"/><stop offset="0.635" stop-color="#c2c2c2"/><stop offset="0.747" stop-color="#e8e8e8"/><stop offset="0.973" stop-color="#d2d2d2"/><stop offset="1.000" stop-color="#d2d2d2"/></linearGradient><linearGradient id="gc82" gradientUnits="userSpaceOnUse" x1="0" y1="1886" x2="0" y2="2289"><stop offset="0.000" stop-color="#444444"/><stop offset="0.067" stop-color="#454545"/><stop offset="0.151" stop-color="#4e4e4e"/><stop offset="0.241" stop-color="#5b5b5b"/><stop offset="0.337" stop-color="#6f6f6f"/><stop offset="0.434" stop-color="#868686"/><stop offset="0.536" stop-color="#a2a2a2"/><stop offset="0.638" stop-color="#c2c2c2"/><stop offset="0.747" stop-color="#e8e8e8"/><stop offset="0.973" stop-color="#d2d2d2"/><stop offset="1.000" stop-color="#d2d2d2"/></linearGradient><linearGradient id="gc83" gradientUnits="userSpaceOnUse" x1="0" y1="1887" x2="0" y2="2290"><stop offset="0.000" stop-color="#434343"/><stop offset="0.067" stop-color="#444444"/><stop offset="0.151" stop-color="#4d4d4d"/><stop offset="0.241" stop-color="#5a5a5a"/><stop offset="0.337" stop-color="#6e6e6e"/><stop offset="0.434" stop-color="#858585"/><stop offset="0.536" stop-color="#a2a2a2"/><stop offset="0.640" stop-color="#c3c3c3"/><stop offset="0.747" stop-color="#e8e8e8"/><stop offset="0.973" stop-color="#d2d2d2"/><stop offset="1.000" stop-color="#d2d2d2"/></linearGradient><linearGradient id="gc84" gradientUnits="userSpaceOnUse" x1="0" y1="1888" x2="0" y2="2292"><stop offset="0.000" stop-color="#424242"/><stop offset="0.067" stop-color="#434343"/><stop offset="0.151" stop-color="#4c4c4c"/><stop offset="0.240" stop-color="#5a5a5a"/><stop offset="0.337" stop-color="#6d6d6d"/><stop offset="0.433" stop-color="#858585"/><stop offset="0.535" stop-color="#a1a1a1"/><stop offset="0.639" stop-color="#c2c2c2"/><stop offset="0.745" stop-color="#e8e8e8"/><stop offset="0.973" stop-color="#d2d2d2"/><stop offset="1.000" stop-color="#d2d2d2"/></linearGradient><linearGradient id="gc85" gradientUnits="userSpaceOnUse" x1="0" y1="1889" x2="0" y2="2294"><stop offset="0.000" stop-color="#414141"/><stop offset="0.067" stop-color="#424242"/><stop offset="0.151" stop-color="#4b4b4b"/><stop offset="0.240" stop-color="#595959"/><stop offset="0.336" stop-color="#6c6c6c"/><stop offset="0.432" stop-color="#848484"/><stop offset="0.533" stop-color="#a1a1a1"/><stop offset="0.637" stop-color="#c2c2c2"/><stop offset="0.743" stop-color="#e8e8e8"/><stop offset="0.973" stop-color="#d2d2d2"/><stop offset="1.000" stop-color="#d2d2d2"/></linearGradient><linearGradient id="gc86" gradientUnits="userSpaceOnUse" x1="0" y1="1891" x2="0" y2="2295"><stop offset="0.000" stop-color="#404040"/><stop offset="0.067" stop-color="#424242"/><stop offset="0.149" stop-color="#4a4a4a"/><stop offset="0.238" stop-color="#585858"/><stop offset="0.334" stop-color="#6c6c6c"/><stop offset="0.431" stop-color="#838383"/><stop offset="0.532" stop-color="#a0a0a0"/><stop offset="0.636" stop-color="#c2c2c2"/><stop offset="0.743" stop-color="#e8e8e8"/><stop offset="0.973" stop-color="#d2d2d2"/><stop offset="1.000" stop-color="#d2d2d2"/></linearGradient><linearGradient id="gc87" gradientUnits="userSpaceOnUse" x1="0" y1="1892" x2="0" y2="2297"><stop offset="0.000" stop-color="#3f3f3f"/><stop offset="0.067" stop-color="#414141"/><stop offset="0.148" stop-color="#494949"/><stop offset="0.237" stop-color="#575757"/><stop offset="0.333" stop-color="#6b6b6b"/><stop offset="0.430" stop-color="#838383"/><stop offset="0.531" stop-color="#a0a0a0"/><stop offset="0.635" stop-color="#c1c1c1"/><stop offset="0.741" stop-color="#e8e8e8"/><stop offset="0.973" stop-color="#d2d2d2"/><stop offset="1.000" stop-color="#d2d2d2"/></linearGradient><linearGradient id="gc88" gradientUnits="userSpaceOnUse" x1="0" y1="1893" x2="0" y2="2298"><stop offset="0.000" stop-color="#3f3f3f"/><stop offset="0.067" stop-color="#404040"/><stop offset="0.148" stop-color="#494949"/><stop offset="0.237" stop-color="#575757"/><stop offset="0.333" stop-color="#6a6a6a"/><stop offset="0.430" stop-color="#828282"/><stop offset="0.531" stop-color="#a0a0a0"/><stop offset="0.635" stop-color="#c1c1c1"/><stop offset="0.741" stop-color="#e8e8e8"/><stop offset="0.973" stop-color="#d2d2d2"/><stop offset="1.000" stop-color="#d2d2d2"/></linearGradient><linearGradient id="gc89" gradientUnits="userSpaceOnUse" x1="0" y1="1894" x2="0" y2="2300"><stop offset="0.000" stop-color="#3e3e3e"/><stop offset="0.067" stop-color="#404040"/><stop offset="0.148" stop-color="#484848"/><stop offset="0.236" stop-color="#565656"/><stop offset="0.333" stop-color="#6a6a6a"/><stop offset="0.429" stop-color="#828282"/><stop offset="0.527" stop-color="#9e9e9e"/><stop offset="0.626" stop-color="#bebebe"/><stop offset="0.741" stop-color="#e8e8e8"/><stop offset="0.973" stop-color="#d2d2d2"/><stop offset="1.000" stop-color="#d2d2d2"/></linearGradient><linearGradient id="gc90" gradientUnits="userSpaceOnUse" x1="0" y1="1896" x2="0" y2="2302"><stop offset="0.000" stop-color="#3e3e3e"/><stop offset="0.067" stop-color="#3f3f3f"/><stop offset="0.148" stop-color="#484848"/><stop offset="0.236" stop-color="#565656"/><stop offset="0.333" stop-color="#6a6a6a"/><stop offset="0.429" stop-color="#828282"/><stop offset="0.527" stop-color="#9f9f9f"/><stop offset="0.626" stop-color="#bfbfbf"/><stop offset="0.739" stop-color="#e8e8e8"/><stop offset="0.973" stop-color="#d2d2d2"/><stop offset="1.000" stop-color="#d2d2d2"/></linearGradient><linearGradient id="gc91" gradientUnits="userSpaceOnUse" x1="0" y1="1897" x2="0" y2="2302"><stop offset="0.000" stop-color="#3d3d3d"/><stop offset="0.067" stop-color="#3f3f3f"/><stop offset="0.148" stop-color="#484848"/><stop offset="0.237" stop-color="#565656"/><stop offset="0.331" stop-color="#696969"/><stop offset="0.427" stop-color="#828282"/><stop offset="0.528" stop-color="#9f9f9f"/><stop offset="0.630" stop-color="#c0c0c0"/><stop offset="0.738" stop-color="#e8e8e8"/><stop offset="0.978" stop-color="#d2d2d2"/><stop offset="1.000" stop-color="#d2d2d2"/></linearGradient><linearGradient id="gc92" gradientUnits="userSpaceOnUse" x1="0" y1="1899" x2="0" y2="2302"><stop offset="0.000" stop-color="#3d3d3d"/><stop offset="0.065" stop-color="#3f3f3f"/><stop offset="0.146" stop-color="#474747"/><stop offset="0.236" stop-color="#565656"/><stop offset="0.330" stop-color="#696969"/><stop offset="0.427" stop-color="#828282"/><stop offset="0.526" stop-color="#9f9f9f"/><stop offset="0.630" stop-color="#c1c1c1"/><stop offset="0.734" stop-color="#e8e8e8"/><stop offset="0.955" stop-color="#d2d2d2"/><stop offset="1.000" stop-color="#d2d2d2"/></linearGradient><linearGradient id="gc93" gradientUnits="userSpaceOnUse" x1="0" y1="1900" x2="0" y2="2297"><stop offset="0.000" stop-color="#3d3d3d"/><stop offset="0.065" stop-color="#3f3f3f"/><stop offset="0.149" stop-color="#474747"/><stop offset="0.239" stop-color="#565656"/><stop offset="0.335" stop-color="#696969"/><stop offset="0.433" stop-color="#828282"/><stop offset="0.534" stop-color="#9f9f9f"/><stop offset="0.637" stop-color="#c1c1c1"/><stop offset="0.743" stop-color="#e8e8e8"/><stop offset="0.942" stop-color="#d2d2d2"/><stop offset="1.000" stop-color="#d2d2d2"/></linearGradient><linearGradient id="gc94" gradientUnits="userSpaceOnUse" x1="0" y1="1902" x2="0" y2="2287"><stop offset="0.000" stop-color="#3d3d3d"/><stop offset="0.068" stop-color="#3f3f3f"/><stop offset="0.153" stop-color="#484848"/><stop offset="0.244" stop-color="#565656"/><stop offset="0.343" stop-color="#6a6a6a"/><stop offset="0.442" stop-color="#828282"/><stop offset="0.545" stop-color="#9f9f9f"/><stop offset="0.652" stop-color="#c1c1c1"/><stop offset="0.761" stop-color="#e8e8e8"/><stop offset="0.943" stop-color="#d2d2d2"/><stop offset="1.000" stop-color="#d2d2d2"/></linearGradient><linearGradient id="gc95" gradientUnits="userSpaceOnUse" x1="0" y1="1903" x2="0" y2="2278"><stop offset="0.000" stop-color="#3e3e3e"/><stop offset="0.069" stop-color="#3f3f3f"/><stop offset="0.155" stop-color="#474747"/><stop offset="0.248" stop-color="#555555"/><stop offset="0.349" stop-color="#696969"/><stop offset="0.451" stop-color="#818181"/><stop offset="0.557" stop-color="#9f9f9f"/><stop offset="0.667" stop-color="#c1c1c1"/><stop offset="0.779" stop-color="#e8e8e8"/><stop offset="0.941" stop-color="#d2d2d2"/><stop offset="1.000" stop-color="#d2d2d2"/></linearGradient><linearGradient id="gc96" gradientUnits="userSpaceOnUse" x1="0" y1="1905" x2="0" y2="2269"><stop offset="0.000" stop-color="#3e3e3e"/><stop offset="0.071" stop-color="#404040"/><stop offset="0.159" stop-color="#484848"/><stop offset="0.255" stop-color="#565656"/><stop offset="0.360" stop-color="#6a6a6a"/><stop offset="0.464" stop-color="#838383"/><stop offset="0.571" stop-color="#9f9f9f"/><stop offset="0.684" stop-color="#c2c2c2"/><stop offset="0.797" stop-color="#e8e8e8"/><stop offset="0.940" stop-color="#d2d2d2"/><stop offset="1.000" stop-color="#d2d2d2"/></linearGradient><linearGradient id="gc97" gradientUnits="userSpaceOnUse" x1="0" y1="1906" x2="0" y2="2259"><stop offset="0.000" stop-color="#3e3e3e"/><stop offset="0.074" stop-color="#404040"/><stop offset="0.164" stop-color="#484848"/><stop offset="0.263" stop-color="#565656"/><stop offset="0.368" stop-color="#6a6a6a"/><stop offset="0.476" stop-color="#828282"/><stop offset="0.586" stop-color="#9f9f9f"/><stop offset="0.703" stop-color="#c2c2c2"/><stop offset="0.819" stop-color="#e8e8e8"/><stop offset="0.941" stop-color="#d2d2d2"/><stop offset="1.000" stop-color="#d2d2d2"/></linearGradient><linearGradient id="gc98" gradientUnits="userSpaceOnUse" x1="0" y1="1908" x2="0" y2="2251"><stop offset="0.000" stop-color="#3f3f3f"/><stop offset="0.076" stop-color="#414141"/><stop offset="0.166" stop-color="#494949"/><stop offset="0.268" stop-color="#575757"/><stop offset="0.376" stop-color="#6a6a6a"/><stop offset="0.487" stop-color="#838383"/><stop offset="0.601" stop-color="#a0a0a0"/><stop offset="0.717" stop-color="#c2c2c2"/><stop offset="0.837" stop-color="#e8e8e8"/><stop offset="0.939" stop-color="#d2d2d2"/><stop offset="1.000" stop-color="#d2d2d2"/></linearGradient><linearGradient id="gc99" gradientUnits="userSpaceOnUse" x1="0" y1="1910" x2="0" y2="2242"><stop offset="0.000" stop-color="#404040"/><stop offset="0.072" stop-color="#414141"/><stop offset="0.166" stop-color="#494949"/><stop offset="0.271" stop-color="#585858"/><stop offset="0.383" stop-color="#6b6b6b"/><stop offset="0.497" stop-color="#828282"/><stop offset="0.614" stop-color="#9e9e9e"/><stop offset="0.738" stop-color="#bfbfbf"/><stop offset="0.864" stop-color="#e4e4e4"/><stop offset="0.937" stop-color="#d2d2d2"/><stop offset="1.000" stop-color="#d2d2d2"/></linearGradient><linearGradient id="gc100" gradientUnits="userSpaceOnUse" x1="0" y1="1911" x2="0" y2="2234"><stop offset="0.000" stop-color="#414141"/><stop offset="0.068" stop-color="#424242"/><stop offset="0.161" stop-color="#4a4a4a"/><stop offset="0.269" stop-color="#575757"/><stop offset="0.384" stop-color="#6a6a6a"/><stop offset="0.505" stop-color="#818181"/><stop offset="0.628" stop-color="#9c9c9c"/><stop offset="0.759" stop-color="#bcbcbc"/><stop offset="0.892" stop-color="#dfdfdf"/><stop offset="0.935" stop-color="#d2d2d2"/><stop offset="1.000" stop-color="#d2d2d2"/></linearGradient><linearGradient id="gc101" gradientUnits="userSpaceOnUse" x1="0" y1="1913" x2="0" y2="2225"><stop offset="0.000" stop-color="#424242"/><stop offset="0.067" stop-color="#434343"/><stop offset="0.160" stop-color="#4b4b4b"/><stop offset="0.269" stop-color="#585858"/><stop offset="0.391" stop-color="#6b6b6b"/><stop offset="0.516" stop-color="#818181"/><stop offset="0.647" stop-color="#9b9b9b"/><stop offset="0.782" stop-color="#b9b9b9"/><stop offset="0.923" stop-color="#dbdbdb"/><stop offset="0.936" stop-color="#d2d2d2"/><stop offset="1.000" stop-color="#d2d2d2"/></linearGradient><linearGradient id="gc102" gradientUnits="userSpaceOnUse" x1="0" y1="1915" x2="0" y2="2217"><stop offset="0.000" stop-color="#434343"/><stop offset="0.053" stop-color="#434343"/><stop offset="0.129" stop-color="#494949"/><stop offset="0.222" stop-color="#535353"/><stop offset="0.328" stop-color="#626262"/><stop offset="0.467" stop-color="#787878"/><stop offset="0.613" stop-color="#929292"/><stop offset="0.768" stop-color="#b2b2b2"/><stop offset="0.934" stop-color="#d6d6d6"/><stop offset="1.000" stop-color="#d6d6d6"/></linearGradient><linearGradient id="gc103" gradientUnits="userSpaceOnUse" x1="0" y1="1917" x2="0" y2="2210"><stop offset="0.000" stop-color="#444444"/><stop offset="0.048" stop-color="#444444"/><stop offset="0.113" stop-color="#494949"/><stop offset="0.201" stop-color="#535353"/><stop offset="0.304" stop-color="#606060"/><stop offset="0.444" stop-color="#767676"/><stop offset="0.597" stop-color="#909090"/><stop offset="0.758" stop-color="#afafaf"/><stop offset="0.928" stop-color="#d2d2d2"/><stop offset="1.000" stop-color="#d2d2d2"/></linearGradient><linearGradient id="gc104" gradientUnits="userSpaceOnUse" x1="0" y1="1919" x2="0" y2="2201"><stop offset="0.000" stop-color="#454545"/><stop offset="0.043" stop-color="#464646"/><stop offset="0.099" stop-color="#4a4a4a"/><stop offset="0.284" stop-color="#606060"/><stop offset="0.426" stop-color="#747474"/><stop offset="0.582" stop-color="#8e8e8e"/><stop offset="0.752" stop-color="#acacac"/><stop offset="0.929" stop-color="#cdcdcd"/><stop offset="1.000" stop-color="#cecece"/></linearGradient><linearGradient id="gc105" gradientUnits="userSpaceOnUse" x1="0" y1="1921" x2="0" y2="2193"><stop offset="0.000" stop-color="#474747"/><stop offset="0.040" stop-color="#474747"/><stop offset="0.081" stop-color="#4a4a4a"/><stop offset="0.257" stop-color="#5e5e5e"/><stop offset="0.404" stop-color="#737373"/><stop offset="0.566" stop-color="#8c8c8c"/><stop offset="0.930" stop-color="#cacaca"/><stop offset="1.000" stop-color="#cacaca"/></linearGradient><linearGradient id="gc106" gradientUnits="userSpaceOnUse" x1="0" y1="1923" x2="0" y2="2186"><stop offset="0.000" stop-color="#494949"/><stop offset="0.042" stop-color="#494949"/><stop offset="0.072" stop-color="#4b4b4b"/><stop offset="0.236" stop-color="#5d5d5d"/><stop offset="0.548" stop-color="#898989"/><stop offset="0.928" stop-color="#c6c6c6"/><stop offset="1.000" stop-color="#c6c6c6"/></linearGradient><linearGradient id="gc107" gradientUnits="userSpaceOnUse" x1="0" y1="1925" x2="0" y2="2179"><stop offset="0.000" stop-color="#4b4b4b"/><stop offset="0.043" stop-color="#4b4b4b"/><stop offset="0.094" stop-color="#4f4f4f"/><stop offset="0.315" stop-color="#686868"/><stop offset="0.594" stop-color="#8f8f8f"/><stop offset="0.925" stop-color="#c2c2c2"/><stop offset="1.000" stop-color="#c2c2c2"/></linearGradient><linearGradient id="gc108" gradientUnits="userSpaceOnUse" x1="0" y1="1927" x2="0" y2="2172"><stop offset="0.000" stop-color="#4d4d4d"/><stop offset="0.045" stop-color="#4d4d4d"/><stop offset="0.090" stop-color="#505050"/><stop offset="0.310" stop-color="#686868"/><stop offset="0.588" stop-color="#8d8d8d"/><stop offset="0.922" stop-color="#bebebe"/><stop offset="1.000" stop-color="#bebebe"/></linearGradient><linearGradient id="gc109" gradientUnits="userSpaceOnUse" x1="0" y1="1929" x2="0" y2="2165"><stop offset="0.000" stop-color="#4f4f4f"/><stop offset="0.047" stop-color="#4f4f4f"/><stop offset="0.085" stop-color="#525252"/><stop offset="0.305" stop-color="#696969"/><stop offset="0.585" stop-color="#8c8c8c"/><stop offset="0.919" stop-color="#bababa"/><stop offset="1.000" stop-color="#bababa"/></linearGradient><linearGradient id="gc110" gradientUnits="userSpaceOnUse" x1="0" y1="1931" x2="0" y2="2158"><stop offset="0.000" stop-color="#515151"/><stop offset="0.053" stop-color="#515151"/><stop offset="0.084" stop-color="#545454"/><stop offset="0.295" stop-color="#696969"/><stop offset="0.581" stop-color="#8b8b8b"/><stop offset="0.916" stop-color="#b8b8b8"/><stop offset="1.000" stop-color="#b8b8b8"/></linearGradient><linearGradient id="gc111" gradientUnits="userSpaceOnUse" x1="0" y1="1933" x2="0" y2="2151"><stop offset="0.000" stop-color="#545454"/><stop offset="0.055" stop-color="#545454"/><stop offset="0.078" stop-color="#555555"/><stop offset="0.289" stop-color="#6a6a6a"/><stop offset="0.573" stop-color="#8b8b8b"/><stop offset="0.913" stop-color="#b7b7b7"/><stop offset="1.000" stop-color="#b7b7b7"/></linearGradient><linearGradient id="gc112" gradientUnits="userSpaceOnUse" x1="0" y1="1935" x2="0" y2="2144"><stop offset="0.000" stop-color="#575757"/><stop offset="0.077" stop-color="#585858"/><stop offset="0.282" stop-color="#6b6b6b"/><stop offset="0.569" stop-color="#8b8b8b"/><stop offset="0.914" stop-color="#b6b6b6"/><stop offset="1.000" stop-color="#b6b6b6"/></linearGradient><linearGradient id="gc113" gradientUnits="userSpaceOnUse" x1="0" y1="1937" x2="0" y2="2137"><stop offset="0.000" stop-color="#595959"/><stop offset="0.075" stop-color="#5a5a5a"/><stop offset="0.270" stop-color="#6c6c6c"/><stop offset="0.560" stop-color="#8b8b8b"/><stop offset="0.910" stop-color="#b5b5b5"/><stop offset="1.000" stop-color="#b5b5b5"/></linearGradient><linearGradient id="gc114" gradientUnits="userSpaceOnUse" x1="0" y1="1940" x2="0" y2="2131"><stop offset="0.000" stop-color="#5d5d5d"/><stop offset="0.073" stop-color="#5d5d5d"/><stop offset="0.267" stop-color="#6e6e6e"/><stop offset="0.555" stop-color="#8c8c8c"/><stop offset="0.906" stop-color="#b4b4b4"/><stop offset="1.000" stop-color="#b4b4b4"/></linearGradient><linearGradient id="gc115" gradientUnits="userSpaceOnUse" x1="0" y1="1942" x2="0" y2="2125"><stop offset="0.000" stop-color="#606060"/><stop offset="0.077" stop-color="#606060"/><stop offset="0.257" stop-color="#6f6f6f"/><stop offset="0.546" stop-color="#8c8c8c"/><stop offset="0.902" stop-color="#b3b3b3"/><stop offset="1.000" stop-color="#b3b3b3"/></linearGradient><linearGradient id="gc116" gradientUnits="userSpaceOnUse" x1="0" y1="1944" x2="0" y2="2119"><stop offset="0.000" stop-color="#636363"/><stop offset="0.074" stop-color="#636363"/><stop offset="0.246" stop-color="#717171"/><stop offset="0.537" stop-color="#8c8c8c"/><stop offset="0.897" stop-color="#b2b2b2"/><stop offset="1.000" stop-color="#b2b2b2"/></linearGradient><linearGradient id="gc117" gradientUnits="userSpaceOnUse" x1="0" y1="1947" x2="0" y2="2113"><stop offset="0.000" stop-color="#676767"/><stop offset="0.072" stop-color="#676767"/><stop offset="0.235" stop-color="#737373"/><stop offset="0.530" stop-color="#8d8d8d"/><stop offset="0.892" stop-color="#b1b1b1"/><stop offset="1.000" stop-color="#b1b1b1"/></linearGradient><linearGradient id="gc118" gradientUnits="userSpaceOnUse" x1="0" y1="1949" x2="0" y2="2107"><stop offset="0.000" stop-color="#6a6a6a"/><stop offset="0.082" stop-color="#6b6b6b"/><stop offset="0.222" stop-color="#757575"/><stop offset="0.513" stop-color="#8e8e8e"/><stop offset="0.886" stop-color="#b0b0b0"/><stop offset="1.000" stop-color="#b1b1b1"/></linearGradient><linearGradient id="gc119" gradientUnits="userSpaceOnUse" x1="0" y1="1952" x2="0" y2="2100"><stop offset="0.000" stop-color="#6e6e6e"/><stop offset="0.081" stop-color="#6e6e6e"/><stop offset="0.216" stop-color="#787878"/><stop offset="0.514" stop-color="#8f8f8f"/><stop offset="0.892" stop-color="#b0b0b0"/><stop offset="1.000" stop-color="#b0b0b0"/></linearGradient><linearGradient id="gc120" gradientUnits="userSpaceOnUse" x1="0" y1="1954" x2="0" y2="2095"><stop offset="0.000" stop-color="#737373"/><stop offset="0.085" stop-color="#737373"/><stop offset="0.199" stop-color="#7a7a7a"/><stop offset="0.496" stop-color="#909090"/><stop offset="0.879" stop-color="#b0b0b0"/><stop offset="1.000" stop-color="#b0b0b0"/></linearGradient><linearGradient id="gc121" gradientUnits="userSpaceOnUse" x1="0" y1="1956" x2="0" y2="2089"><stop offset="0.000" stop-color="#777777"/><stop offset="0.098" stop-color="#777777"/><stop offset="0.188" stop-color="#7c7c7c"/><stop offset="0.481" stop-color="#919191"/><stop offset="0.880" stop-color="#afafaf"/><stop offset="1.000" stop-color="#afafaf"/></linearGradient><linearGradient id="gc122" gradientUnits="userSpaceOnUse" x1="0" y1="1959" x2="0" y2="2084"><stop offset="0.000" stop-color="#7b7b7b"/><stop offset="0.096" stop-color="#7b7b7b"/><stop offset="0.176" stop-color="#808080"/><stop offset="0.472" stop-color="#939393"/><stop offset="0.864" stop-color="#afafaf"/><stop offset="1.000" stop-color="#afafaf"/></linearGradient><linearGradient id="gc123" gradientUnits="userSpaceOnUse" x1="0" y1="1962" x2="0" y2="2078"><stop offset="0.000" stop-color="#808080"/><stop offset="0.103" stop-color="#808080"/><stop offset="0.164" stop-color="#838383"/><stop offset="0.862" stop-color="#b0b0b0"/><stop offset="1.000" stop-color="#b0b0b0"/></linearGradient><linearGradient id="gc124" gradientUnits="userSpaceOnUse" x1="0" y1="1965" x2="0" y2="2073"><stop offset="0.000" stop-color="#858585"/><stop offset="0.111" stop-color="#858585"/><stop offset="0.157" stop-color="#878787"/><stop offset="0.852" stop-color="#b1b1b1"/><stop offset="1.000" stop-color="#b1b1b1"/></linearGradient><linearGradient id="gc125" gradientUnits="userSpaceOnUse" x1="0" y1="1967" x2="0" y2="2068"><stop offset="0.000" stop-color="#8a8a8a"/><stop offset="0.149" stop-color="#8b8b8b"/><stop offset="0.842" stop-color="#b3b3b3"/><stop offset="1.000" stop-color="#b3b3b3"/></linearGradient><linearGradient id="gc126" gradientUnits="userSpaceOnUse" x1="0" y1="1970" x2="0" y2="2062"><stop offset="0.000" stop-color="#8f8f8f"/><stop offset="0.152" stop-color="#909090"/><stop offset="0.837" stop-color="#b4b4b4"/><stop offset="1.000" stop-color="#b4b4b4"/></linearGradient><linearGradient id="gc127" gradientUnits="userSpaceOnUse" x1="0" y1="1973" x2="0" y2="2058"><stop offset="0.000" stop-color="#959595"/><stop offset="0.153" stop-color="#959595"/><stop offset="0.812" stop-color="#b5b5b5"/><stop offset="1.000" stop-color="#b5b5b5"/></linearGradient><linearGradient id="gc128" gradientUnits="userSpaceOnUse" x1="0" y1="1975" x2="0" y2="2053"><stop offset="0.000" stop-color="#9b9b9b"/><stop offset="0.167" stop-color="#9b9b9b"/><stop offset="0.795" stop-color="#b6b6b6"/><stop offset="1.000" stop-color="#b6b6b6"/></linearGradient><linearGradient id="gc129" gradientUnits="userSpaceOnUse" x1="0" y1="1978" x2="0" y2="2048"><stop offset="0.000" stop-color="#a1a1a1"/><stop offset="0.186" stop-color="#a1a1a1"/><stop offset="0.771" stop-color="#b7b7b7"/><stop offset="1.000" stop-color="#b8b8b8"/></linearGradient><linearGradient id="gc130" gradientUnits="userSpaceOnUse" x1="0" y1="1981" x2="0" y2="2043"><stop offset="0.000" stop-color="#a7a7a7"/><stop offset="0.210" stop-color="#a7a7a7"/><stop offset="0.758" stop-color="#bababa"/><stop offset="1.000" stop-color="#bababa"/></linearGradient><linearGradient id="gc131" gradientUnits="userSpaceOnUse" x1="0" y1="1984" x2="0" y2="2038"><stop offset="0.000" stop-color="#adadad"/><stop offset="0.241" stop-color="#adadad"/><stop offset="0.722" stop-color="#bbbbbb"/><stop offset="1.000" stop-color="#bcbcbc"/></linearGradient><linearGradient id="gc132" gradientUnits="userSpaceOnUse" x1="0" y1="1987" x2="0" y2="2034"><stop offset="0.000" stop-color="#b4b4b4"/><stop offset="0.255" stop-color="#b4b4b4"/><stop offset="0.681" stop-color="#bdbdbd"/><stop offset="1.000" stop-color="#bdbdbd"/></linearGradient><linearGradient id="gc133" gradientUnits="userSpaceOnUse" x1="0" y1="1990" x2="0" y2="2029"><stop offset="0.000" stop-color="#bababa"/><stop offset="0.308" stop-color="#bababa"/><stop offset="0.615" stop-color="#bfbfbf"/><stop offset="1.000" stop-color="#bfbfbf"/></linearGradient><linearGradient id="gc134" gradientUnits="userSpaceOnUse" x1="0" y1="1992" x2="0" y2="2024"><stop offset="0.000" stop-color="#c0c0c0"/><stop offset="1.000" stop-color="#c1c1c1"/></linearGradient><linearGradient id="gc135" gradientUnits="userSpaceOnUse" x1="0" y1="1996" x2="0" y2="2020"><stop offset="0.000" stop-color="#c0c0c0"/><stop offset="1.000" stop-color="#c0c0c0"/></linearGradient><linearGradient id="gc136" gradientUnits="userSpaceOnUse" x1="0" y1="1998" x2="0" y2="2016"><stop offset="0.000" stop-color="#c0c0c0"/><stop offset="1.000" stop-color="#c0c0c0"/></linearGradient></defs><rect x="212.1" y="2271" width="8.6" height="27" fill="url(#gc0)"/><rect x="220.1" y="2259" width="8.6" height="39" fill="url(#gc1)"/><rect x="228.1" y="2248" width="8.6" height="50" fill="url(#gc2)"/><rect x="236.1" y="2237" width="8.6" height="59" fill="url(#gc3)"/><rect x="244.1" y="2226" width="8.6" height="69" fill="url(#gc4)"/><rect x="252.1" y="2214" width="8.6" height="79" fill="url(#gc5)"/><rect x="260.1" y="2204" width="8.6" height="87" fill="url(#gc6)"/><rect x="268.1" y="2193" width="8.6" height="97" fill="url(#gc7)"/><rect x="276.1" y="2183" width="8.6" height="105" fill="url(#gc8)"/><rect x="284.1" y="2172" width="8.6" height="115" fill="url(#gc9)"/><rect x="292.1" y="2161" width="8.6" height="124" fill="url(#gc10)"/><rect x="300.1" y="2151" width="8.6" height="133" fill="url(#gc11)"/><rect x="308.1" y="2141" width="8.6" height="141" fill="url(#gc12)"/><rect x="316.1" y="2131" width="8.6" height="150" fill="url(#gc13)"/><rect x="324.1" y="2122" width="8.6" height="158" fill="url(#gc14)"/><rect x="332.1" y="2111" width="8.6" height="167" fill="url(#gc15)"/><rect x="340.1" y="2101" width="8.6" height="176" fill="url(#gc16)"/><rect x="348.1" y="2092" width="8.6" height="184" fill="url(#gc17)"/><rect x="356.1" y="2083" width="8.6" height="192" fill="url(#gc18)"/><rect x="364.1" y="2074" width="8.6" height="200" fill="url(#gc19)"/><rect x="372.1" y="2064" width="8.6" height="209" fill="url(#gc20)"/><rect x="380.1" y="2055" width="8.6" height="217" fill="url(#gc21)"/><rect x="388.1" y="2046" width="8.6" height="225" fill="url(#gc22)"/><rect x="396.1" y="2037" width="8.6" height="233" fill="url(#gc23)"/><rect x="404.1" y="2028" width="8.6" height="241" fill="url(#gc24)"/><rect x="412.1" y="2019" width="8.6" height="249" fill="url(#gc25)"/><rect x="420.1" y="2010" width="8.6" height="257" fill="url(#gc26)"/><rect x="428.1" y="2002" width="8.6" height="264" fill="url(#gc27)"/><rect x="436.1" y="1994" width="8.6" height="272" fill="url(#gc28)"/><rect x="444.1" y="1985" width="8.6" height="280" fill="url(#gc29)"/><rect x="452.1" y="1976" width="8.6" height="288" fill="url(#gc30)"/><rect x="460.1" y="1968" width="8.6" height="296" fill="url(#gc31)"/><rect x="468.1" y="1960" width="8.6" height="303" fill="url(#gc32)"/><rect x="476.1" y="1952" width="8.6" height="311" fill="url(#gc33)"/><rect x="484.1" y="1944" width="8.6" height="318" fill="url(#gc34)"/><rect x="492.1" y="1936" width="8.6" height="326" fill="url(#gc35)"/><rect x="500.1" y="1928" width="8.6" height="333" fill="url(#gc36)"/><rect x="508.1" y="1920" width="8.6" height="341" fill="url(#gc37)"/><rect x="516.1" y="1913" width="8.6" height="348" fill="url(#gc38)"/><rect x="524.1" y="1905" width="8.6" height="355" fill="url(#gc39)"/><rect x="532.1" y="1897" width="8.6" height="363" fill="url(#gc40)"/><rect x="540.1" y="1890" width="8.6" height="370" fill="url(#gc41)"/><rect x="548.1" y="1882" width="8.6" height="378" fill="url(#gc42)"/><rect x="556.1" y="1878" width="8.6" height="382" fill="url(#gc43)"/><rect x="564.1" y="1878" width="8.6" height="382" fill="url(#gc44)"/><rect x="572.1" y="1877" width="8.6" height="383" fill="url(#gc45)"/><rect x="580.1" y="1877" width="8.6" height="383" fill="url(#gc46)"/><rect x="588.1" y="1876" width="8.6" height="384" fill="url(#gc47)"/><rect x="596.1" y="1876" width="8.6" height="384" fill="url(#gc48)"/><rect x="604.1" y="1875" width="8.6" height="385" fill="url(#gc49)"/><rect x="612.1" y="1875" width="8.6" height="385" fill="url(#gc50)"/><rect x="620.1" y="1875" width="8.6" height="386" fill="url(#gc51)"/><rect x="628.1" y="1875" width="8.6" height="386" fill="url(#gc52)"/><rect x="636.1" y="1874" width="8.6" height="387" fill="url(#gc53)"/><rect x="644.1" y="1874" width="8.6" height="388" fill="url(#gc54)"/><rect x="652.1" y="1874" width="8.6" height="388" fill="url(#gc55)"/><rect x="660.1" y="1874" width="8.6" height="389" fill="url(#gc56)"/><rect x="668.1" y="1874" width="8.6" height="389" fill="url(#gc57)"/><rect x="676.1" y="1874" width="8.6" height="390" fill="url(#gc58)"/><rect x="684.1" y="1874" width="8.6" height="391" fill="url(#gc59)"/><rect x="692.1" y="1874" width="8.6" height="391" fill="url(#gc60)"/><rect x="700.1" y="1874" width="8.6" height="392" fill="url(#gc61)"/><rect x="708.1" y="1874" width="8.6" height="393" fill="url(#gc62)"/><rect x="716.1" y="1875" width="8.6" height="392" fill="url(#gc63)"/><rect x="724.1" y="1875" width="8.6" height="393" fill="url(#gc64)"/><rect x="732.1" y="1875" width="8.6" height="394" fill="url(#gc65)"/><rect x="740.1" y="1875" width="8.6" height="395" fill="url(#gc66)"/><rect x="748.1" y="1876" width="8.6" height="395" fill="url(#gc67)"/><rect x="756.1" y="1876" width="8.6" height="396" fill="url(#gc68)"/><rect x="764.1" y="1876" width="8.6" height="397" fill="url(#gc69)"/><rect x="772.1" y="1877" width="8.6" height="397" fill="url(#gc70)"/><rect x="780.1" y="1878" width="8.6" height="397" fill="url(#gc71)"/><rect x="788.1" y="1878" width="8.6" height="398" fill="url(#gc72)"/><rect x="796.1" y="1879" width="8.6" height="398" fill="url(#gc73)"/><rect x="804.1" y="1879" width="8.6" height="399" fill="url(#gc74)"/><rect x="812.1" y="1880" width="8.6" height="399" fill="url(#gc75)"/><rect x="820.1" y="1881" width="8.6" height="400" fill="url(#gc76)"/><rect x="828.1" y="1882" width="8.6" height="400" fill="url(#gc77)"/><rect x="836.1" y="1882" width="8.6" height="401" fill="url(#gc78)"/><rect x="844.1" y="1883" width="8.6" height="402" fill="url(#gc79)"/><rect x="852.1" y="1884" width="8.6" height="402" fill="url(#gc80)"/><rect x="860.1" y="1885" width="8.6" height="403" fill="url(#gc81)"/><rect x="868.1" y="1886" width="8.6" height="403" fill="url(#gc82)"/><rect x="876.1" y="1887" width="8.6" height="403" fill="url(#gc83)"/><rect x="884.1" y="1888" width="8.6" height="404" fill="url(#gc84)"/><rect x="892.1" y="1889" width="8.6" height="405" fill="url(#gc85)"/><rect x="900.1" y="1891" width="8.6" height="404" fill="url(#gc86)"/><rect x="908.1" y="1892" width="8.6" height="405" fill="url(#gc87)"/><rect x="916.1" y="1893" width="8.6" height="405" fill="url(#gc88)"/><rect x="924.1" y="1894" width="8.6" height="406" fill="url(#gc89)"/><rect x="932.1" y="1896" width="8.6" height="406" fill="url(#gc90)"/><rect x="940.1" y="1897" width="8.6" height="405" fill="url(#gc91)"/><rect x="948.1" y="1899" width="8.6" height="403" fill="url(#gc92)"/><rect x="956.1" y="1900" width="8.6" height="397" fill="url(#gc93)"/><rect x="964.1" y="1902" width="8.6" height="385" fill="url(#gc94)"/><rect x="972.1" y="1903" width="8.6" height="375" fill="url(#gc95)"/><rect x="980.1" y="1905" width="8.6" height="364" fill="url(#gc96)"/><rect x="988.1" y="1906" width="8.6" height="353" fill="url(#gc97)"/><rect x="996.1" y="1908" width="8.6" height="343" fill="url(#gc98)"/><rect x="1004.1" y="1910" width="8.6" height="332" fill="url(#gc99)"/><rect x="1012.1" y="1911" width="8.6" height="323" fill="url(#gc100)"/><rect x="1020.1" y="1913" width="8.6" height="312" fill="url(#gc101)"/><rect x="1028.1" y="1915" width="8.6" height="302" fill="url(#gc102)"/><rect x="1036.1" y="1917" width="8.6" height="293" fill="url(#gc103)"/><rect x="1044.1" y="1919" width="8.6" height="282" fill="url(#gc104)"/><rect x="1052.1" y="1921" width="8.6" height="272" fill="url(#gc105)"/><rect x="1060.1" y="1923" width="8.6" height="263" fill="url(#gc106)"/><rect x="1068.1" y="1925" width="8.6" height="254" fill="url(#gc107)"/><rect x="1076.1" y="1927" width="8.6" height="245" fill="url(#gc108)"/><rect x="1084.1" y="1929" width="8.6" height="236" fill="url(#gc109)"/><rect x="1092.1" y="1931" width="8.6" height="227" fill="url(#gc110)"/><rect x="1100.1" y="1933" width="8.6" height="218" fill="url(#gc111)"/><rect x="1108.1" y="1935" width="8.6" height="209" fill="url(#gc112)"/><rect x="1116.1" y="1937" width="8.6" height="200" fill="url(#gc113)"/><rect x="1124.1" y="1940" width="8.6" height="191" fill="url(#gc114)"/><rect x="1132.1" y="1942" width="8.6" height="183" fill="url(#gc115)"/><rect x="1140.1" y="1944" width="8.6" height="175" fill="url(#gc116)"/><rect x="1148.1" y="1947" width="8.6" height="166" fill="url(#gc117)"/><rect x="1156.1" y="1949" width="8.6" height="158" fill="url(#gc118)"/><rect x="1164.1" y="1952" width="8.6" height="148" fill="url(#gc119)"/><rect x="1172.1" y="1954" width="8.6" height="141" fill="url(#gc120)"/><rect x="1180.1" y="1956" width="8.6" height="133" fill="url(#gc121)"/><rect x="1188.1" y="1959" width="8.6" height="125" fill="url(#gc122)"/><rect x="1196.1" y="1962" width="8.6" height="116" fill="url(#gc123)"/><rect x="1204.1" y="1965" width="8.6" height="108" fill="url(#gc124)"/><rect x="1212.1" y="1967" width="8.6" height="101" fill="url(#gc125)"/><rect x="1220.1" y="1970" width="8.6" height="92" fill="url(#gc126)"/><rect x="1228.1" y="1973" width="8.6" height="85" fill="url(#gc127)"/><rect x="1236.1" y="1975" width="8.6" height="78" fill="url(#gc128)"/><rect x="1244.1" y="1978" width="8.6" height="70" fill="url(#gc129)"/><rect x="1252.1" y="1981" width="8.6" height="62" fill="url(#gc130)"/><rect x="1260.1" y="1984" width="8.6" height="54" fill="url(#gc131)"/><rect x="1268.1" y="1987" width="8.6" height="47" fill="url(#gc132)"/><rect x="1276.1" y="1990" width="8.6" height="39" fill="url(#gc133)"/><rect x="1284.1" y="1992" width="8.6" height="32" fill="url(#gc134)"/><rect x="1292.1" y="1996" width="8.6" height="24" fill="url(#gc135)"/><rect x="1300.1" y="1998" width="8.6" height="18" fill="url(#gc136)"/>
</g></g>
<path d="M220.1 2289.8 L229.3 2287.8 L238.5 2285.8 L247.6 2283.9 L256.8 2282.1 L266.0 2280.3 L275.2 2278.5 L284.3 2276.8 L293.5 2275.2 L302.7 2273.6 L311.9 2272.1 L321.0 2270.6 L330.2 2269.2 L339.4 2267.8 L348.6 2266.5 L357.7 2265.3 L366.9 2264.1 L376.1 2262.9 L385.3 2261.8 L394.4 2260.8 L403.6 2259.8 L412.8 2258.8 L422.0 2258.0 L431.1 2257.1 L440.3 2256.3 L449.5 2255.6 L458.7 2254.9 L467.9 2254.3 L477.0 2253.8 L486.2 2253.3 L495.4 2252.8 L504.6 2252.4 L513.7 2252.0 L522.9 2251.7 L532.1 2251.5 L541.3 2251.3 L550.4 2251.1 L559.6 2251.0 L568.8 2251.0 L578.0 2251.0 L587.1 2251.1 L596.3 2251.2 L605.5 2251.3 L614.7 2251.6 L623.8 2251.8 L633.0 2252.1 L642.2 2252.5 L651.4 2252.9 L660.5 2253.4 L669.7 2253.9 L678.9 2254.5 L688.1 2255.1 L697.2 2255.8 L706.4 2256.6 L715.6 2257.3 L724.8 2258.2 L734.0 2259.1 L743.1 2260.0 L752.3 2261.0 L761.5 2262.0 L770.7 2263.1 L779.8 2264.2 L789.0 2265.4 L798.2 2266.6 L807.4 2267.9 L816.5 2269.3 L825.7 2270.7 L834.9 2272.1 L844.1 2273.6 L853.2 2275.1 L862.4 2276.7 L871.6 2278.3 L880.8 2280.0 L889.9 2281.7 L899.1 2283.5 L908.3 2285.4 L917.5 2287.2 L926.6 2289.2 L935.8 2291.2 L945.0 2293.2 L949.4 2287.3 L953.8 2282.0 L958.3 2276.7 L962.7 2271.5 L967.1 2266.4 L971.5 2261.3 L976.0 2256.3 L980.4 2251.4 L984.8 2246.4 L989.2 2241.6 L993.7 2236.8 L998.1 2232.0 L1002.5 2227.3 L1006.9 2222.7 L1011.3 2218.1 L1015.8 2213.5 L1020.2 2209.0 L1024.6 2204.6 L1029.0 2200.2 L1033.5 2195.8 L1037.9 2191.5 L1042.3 2187.3 L1046.7 2183.1 L1051.1 2178.9 L1055.6 2174.8 L1060.0 2170.7 L1064.4 2166.7 L1068.8 2162.7 L1073.3 2158.8 L1077.7 2154.9 L1082.1 2151.0 L1086.5 2147.2 L1091.0 2143.5 L1095.4 2139.7 L1099.8 2136.1 L1104.2 2132.4 L1108.6 2128.8 L1113.1 2125.2 L1117.5 2121.7 L1121.9 2118.2 L1126.3 2114.8 L1130.8 2111.4 L1135.2 2108.0 L1139.6 2104.6 L1144.0 2101.3 L1148.4 2098.1 L1152.9 2094.8 L1157.3 2091.6 L1161.7 2088.5 L1166.1 2085.3 L1170.6 2082.2 L1175.0 2079.1 L1179.4 2076.1 L1183.8 2073.1 L1188.3 2070.1 L1192.7 2067.2 L1197.1 2064.2 L1201.5 2061.3 L1205.9 2058.5 L1210.4 2055.6 L1214.8 2052.8 L1219.2 2050.0 L1223.6 2047.3 L1228.1 2044.6 L1232.5 2041.8 L1236.9 2039.2 L1241.3 2036.5 L1245.7 2033.9 L1250.2 2031.3 L1254.6 2028.7 L1259.0 2026.1 L1263.4 2023.6 L1267.9 2021.0 L1272.3 2018.5 L1276.7 2016.0 L1281.1 2013.6 L1285.6 2011.1 L1290.0 2008.7 L1294.4 2006.3 L1285.2 2004.2 L1276.0 2000.8 L1266.8 1997.4 L1257.6 1994.0 L1248.4 1990.7 L1239.2 1987.4 L1230.0 1984.2 L1220.8 1981.0 L1211.6 1977.9 L1202.3 1974.8 L1193.1 1971.7 L1183.9 1968.7 L1174.7 1965.7 L1165.5 1962.8 L1156.3 1960.0 L1147.1 1957.2 L1137.9 1954.4 L1128.7 1951.7 L1119.5 1949.0 L1110.3 1946.4 L1101.1 1943.8 L1091.9 1941.3 L1082.7 1938.8 L1073.5 1936.4 L1064.3 1934.0 L1055.1 1931.7 L1045.9 1929.4 L1036.7 1927.1 L1027.5 1925.0 L1018.2 1922.8 L1009.0 1920.8 L999.8 1918.7 L990.6 1916.8 L981.4 1914.9 L972.2 1913.0 L963.0 1911.2 L953.8 1909.4 L944.6 1907.7 L935.4 1906.1 L926.2 1904.5 L917.0 1902.9 L907.8 1901.4 L898.6 1900.0 L889.4 1898.6 L880.2 1897.3 L871.0 1896.0 L861.8 1894.8 L852.6 1893.6 L843.4 1892.5 L834.1 1891.5 L824.9 1890.5 L815.7 1889.6 L806.5 1888.7 L797.3 1887.9 L788.1 1887.1 L778.9 1886.4 L769.7 1885.8 L760.5 1885.2 L751.3 1884.7 L742.1 1884.2 L732.9 1883.8 L723.7 1883.5 L714.5 1883.2 L705.3 1882.9 L696.1 1882.8 L686.9 1882.7 L677.7 1882.6 L668.5 1882.7 L659.3 1882.7 L650.0 1882.9 L640.8 1883.1 L631.6 1883.3 L622.4 1883.7 L613.2 1884.1 L604.0 1884.5 L594.8 1885.1 L585.6 1885.6 L576.4 1886.3 L567.2 1887.0 L562.8 1891.7 L558.4 1895.8 L554.0 1899.9 L549.6 1904.1 L545.2 1908.2 L540.8 1912.4 L536.4 1916.6 L532.1 1920.8 L527.7 1925.0 L523.3 1929.3 L518.9 1933.6 L514.5 1937.9 L510.1 1942.2 L505.7 1946.5 L501.3 1950.9 L496.9 1955.3 L492.5 1959.7 L488.1 1964.1 L483.7 1968.6 L479.3 1973.1 L474.9 1977.6 L470.5 1982.1 L466.1 1986.7 L461.8 1991.2 L457.4 1995.9 L453.0 2000.5 L448.6 2005.1 L444.2 2009.8 L439.8 2014.5 L435.4 2019.3 L431.0 2024.0 L426.6 2028.8 L422.2 2033.6 L417.8 2038.5 L413.4 2043.3 L409.0 2048.2 L404.6 2053.2 L400.2 2058.1 L395.8 2063.1 L391.5 2068.1 L387.1 2073.2 L382.7 2078.3 L378.3 2083.4 L373.9 2088.5 L369.5 2093.7 L365.1 2098.9 L360.7 2104.1 L356.3 2109.4 L351.9 2114.7 L347.5 2120.0 L343.1 2125.4 L338.7 2130.8 L334.3 2136.2 L329.9 2141.7 L325.5 2147.2 L321.2 2152.7 L316.8 2158.3 L312.4 2163.9 L308.0 2169.6 L303.6 2175.3 L299.2 2181.0 L294.8 2186.7 L290.4 2192.5 L286.0 2198.3 L281.6 2204.2 L277.2 2210.1 L272.8 2216.0 L268.4 2222.0 L264.0 2228.0 L259.6 2234.1 L255.2 2240.2 L250.9 2246.3 L246.5 2252.5 L242.1 2258.7 L237.7 2265.0 L233.3 2271.3 L228.9 2277.6 L224.5 2284.0 Z" fill="none" stroke="#1a1a1a" stroke-width="2.7" stroke-linejoin="round"/>
<line x1="189.0" y1="2034.5" x2="953.7" y2="2154.0" stroke="#111" stroke-width="3.2" stroke-linecap="round"/>
<line x1="953.7" y1="2154.0" x2="1325.5" y2="1907.1" stroke="#111" stroke-width="3.2" stroke-linecap="round"/>
<line x1="1325.5" y1="1907.1" x2="559.4" y2="1787.3" stroke="#111" stroke-width="3.2" stroke-linecap="round"/>
<line x1="559.4" y1="1787.3" x2="189.0" y2="2034.5" stroke="#111" stroke-width="3.2" stroke-linecap="round"/>
<line x1="189.0" y1="2034.5" x2="190.0" y2="2392.0" stroke="#111" stroke-width="3.2" stroke-linecap="round"/>
<line x1="953.7" y1="2154.0" x2="954.0" y2="2514.0" stroke="#111" stroke-width="3.2" stroke-linecap="round"/>
<line x1="1325.5" y1="1907.1" x2="1326.0" y2="2266.2" stroke="#111" stroke-width="3.2" stroke-linecap="round"/>
<line x1="190.0" y1="2392.0" x2="954.0" y2="2514.0" stroke="#111" stroke-width="3.2" stroke-linecap="round"/>
<line x1="954.0" y1="2514.0" x2="1326.0" y2="2266.2" stroke="#111" stroke-width="3.2" stroke-linecap="round"/>
<path d="M189.0 2046.0h15.0M189.1 2057.3h8.5M189.1 2068.6h8.5M189.1 2079.8h8.5M189.2 2091.1h8.5M189.2 2102.4h15.0M189.2 2113.7h8.5M189.3 2125.0h8.5M189.3 2136.2h8.5M189.3 2147.5h8.5M189.3 2158.8h15.0M189.4 2170.1h8.5M189.4 2181.4h8.5M189.4 2192.6h8.5M189.5 2203.9h8.5M189.5 2215.2h15.0M189.5 2226.5h8.5M189.6 2237.8h8.5M189.6 2249.0h8.5M189.6 2260.3h8.5M189.7 2271.6h15.0M189.7 2282.9h8.5M189.7 2294.2h8.5M189.8 2305.4h8.5M189.8 2316.7h8.5M189.8 2328.0h15.0M189.9 2339.3h8.5M189.9 2350.6h8.5M189.9 2361.8h8.5M189.9 2373.1h8.5M190.0 2384.4h15.0" stroke="#111" stroke-width="2.8" fill="none"/>
<path d="M953.7 2165.5h-15.0M953.7 2176.8h-8.5M953.7 2188.1h-8.5M953.7 2199.3h-8.5M953.7 2210.6h-8.5M953.8 2221.9h-15.0M953.8 2233.2h-8.5M953.8 2244.5h-8.5M953.8 2255.7h-8.5M953.8 2267.0h-8.5M953.8 2278.3h-15.0M953.8 2289.6h-8.5M953.8 2300.9h-8.5M953.8 2312.1h-8.5M953.8 2323.4h-8.5M953.9 2334.7h-15.0M953.9 2346.0h-8.5M953.9 2357.3h-8.5M953.9 2368.5h-8.5M953.9 2379.8h-8.5M953.9 2391.1h-15.0M953.9 2402.4h-8.5M953.9 2413.7h-8.5M953.9 2424.9h-8.5M953.9 2436.2h-8.5M953.9 2447.5h-15.0M954.0 2458.8h-8.5M954.0 2470.1h-8.5M954.0 2481.3h-8.5M954.0 2492.6h-8.5M954.0 2503.9h-15.0" stroke="#111" stroke-width="2.8" fill="none"/>
<path d="M1325.5 1918.6h-15.0M1325.5 1929.9h-8.5M1325.5 1941.2h-8.5M1325.6 1952.4h-8.5M1325.6 1963.7h-8.5M1325.6 1975.0h-15.0M1325.6 1986.3h-8.5M1325.6 1997.6h-8.5M1325.6 2008.8h-8.5M1325.7 2020.1h-8.5M1325.7 2031.4h-15.0M1325.7 2042.7h-8.5M1325.7 2054.0h-8.5M1325.7 2065.2h-8.5M1325.7 2076.5h-8.5M1325.8 2087.8h-15.0M1325.8 2099.1h-8.5M1325.8 2110.4h-8.5M1325.8 2121.6h-8.5M1325.8 2132.9h-8.5M1325.8 2144.2h-15.0M1325.8 2155.5h-8.5M1325.9 2166.8h-8.5M1325.9 2178.0h-8.5M1325.9 2189.3h-8.5M1325.9 2200.6h-15.0M1325.9 2211.9h-8.5M1325.9 2223.2h-8.5M1326.0 2234.4h-8.5M1326.0 2245.7h-8.5M1326.0 2257.0h-15.0" stroke="#111" stroke-width="2.8" fill="none"/>
<path d="M190.0 2392.0l4.2 -2.8M237.8 2399.6l2.5 -1.7M285.5 2407.2l2.5 -1.7M333.2 2414.9l2.5 -1.7M381.0 2422.5l4.2 -2.8M428.8 2430.1l2.5 -1.7M476.5 2437.8l2.5 -1.7M524.2 2445.4l2.5 -1.7M572.0 2453.0l4.2 -2.8M619.8 2460.6l2.5 -1.7M667.5 2468.2l2.5 -1.7M715.2 2475.9l2.5 -1.7M763.0 2483.5l4.2 -2.8M810.8 2491.1l2.5 -1.7M858.5 2498.8l2.5 -1.7M906.2 2506.4l2.5 -1.7M954.0 2514.0l4.2 -2.8" stroke="#111" stroke-width="2.6" fill="none"/>
<path d="M189.0 2034.5l4.2 -2.8M236.8 2042.0l2.5 -1.7M284.6 2049.4l2.5 -1.7M332.4 2056.9l2.5 -1.7M380.2 2064.4l4.2 -2.8M428.0 2071.8l2.5 -1.7M475.8 2079.3l2.5 -1.7M523.6 2086.8l2.5 -1.7M571.4 2094.2l4.2 -2.8M619.1 2101.7l2.5 -1.7M666.9 2109.2l2.5 -1.7M714.7 2116.7l2.5 -1.7M762.5 2124.1l4.2 -2.8M810.3 2131.6l2.5 -1.7M858.1 2139.1l2.5 -1.7M905.9 2146.5l2.5 -1.7M953.7 2154.0l4.2 -2.8" stroke="#111" stroke-width="2.6" fill="none"/>
<path d="M559.4 1787.3l-4.2 2.8M607.3 1794.8l-2.5 1.7M655.2 1802.3l-2.5 1.7M703.0 1809.8l-2.5 1.7M750.9 1817.2l-4.2 2.8M798.8 1824.7l-2.5 1.7M846.7 1832.2l-2.5 1.7M894.6 1839.7l-2.5 1.7M942.5 1847.2l-4.2 2.8M990.3 1854.7l-2.5 1.7M1038.2 1862.2l-2.5 1.7M1086.1 1869.7l-2.5 1.7M1134.0 1877.1l-4.2 2.8M1181.9 1884.6l-2.5 1.7M1229.7 1892.1l-2.5 1.7M1277.6 1899.6l-2.5 1.7M1325.5 1907.1l-4.2 2.8" stroke="#111" stroke-width="2.6" fill="none"/>
<path d="M954.0 2514.0l-5.9 -0.9M985.0 2493.3l-3.0 -0.5M1016.0 2472.7l-3.0 -0.5M1047.0 2452.1l-3.0 -0.5M1078.0 2431.4l-5.9 -0.9M1109.0 2410.8l-3.0 -0.5M1140.0 2390.1l-3.0 -0.5M1171.0 2369.4l-3.0 -0.5M1202.0 2348.8l-5.9 -0.9M1233.0 2328.1l-3.0 -0.5M1264.0 2307.5l-3.0 -0.5M1295.0 2286.8l-3.0 -0.5M1326.0 2266.2l-5.9 -0.9" stroke="#111" stroke-width="2.6" fill="none"/>
<path d="M953.7 2154.0l-5.9 -0.9M984.7 2133.4l-3.0 -0.5M1015.7 2112.8l-3.0 -0.5M1046.7 2092.3l-3.0 -0.5M1077.6 2071.7l-5.9 -0.9M1108.6 2051.1l-3.0 -0.5M1139.6 2030.5l-3.0 -0.5M1170.6 2010.0l-3.0 -0.5M1201.6 1989.4l-5.9 -0.9M1232.5 1968.8l-3.0 -0.5M1263.5 1948.2l-3.0 -0.5M1294.5 1927.7l-3.0 -0.5M1325.5 1907.1l-5.9 -0.9" stroke="#111" stroke-width="2.6" fill="none"/>
<path d="M189.0 2034.5l5.9 0.9M219.9 2013.9l3.0 0.5M250.7 1993.3l3.0 0.5M281.6 1972.7l3.0 0.5M312.5 1952.1l5.9 0.9M343.3 1931.5l3.0 0.5M374.2 1910.9l3.0 0.5M405.1 1890.3l3.0 0.5M435.9 1869.7l5.9 0.9M466.8 1849.1l3.0 0.5M497.7 1828.5l3.0 0.5M528.5 1807.9l3.0 0.5M559.4 1787.3l5.9 0.9" stroke="#111" stroke-width="2.6" fill="none"/>
<text x="104.7" y="1887.5" font-size="110.3" font-weight="bold">c</text>
<text x="120.4" y="2059.6" font-size="51.2" font-weight="bold">60</text>
<text x="120.7" y="2115.1" font-size="51.0" font-weight="bold">50</text>
<text x="121.4" y="2171.8" font-size="50.2" font-weight="bold">40</text>
<text x="120.9" y="2227.3" font-size="50.7" font-weight="bold">30</text>
<text x="120.4" y="2282.8" font-size="51.2" font-weight="bold">20</text>
<text x="118.8" y="2339.6" font-size="52.7" font-weight="bold">10</text>
<text x="150.0" y="2395.0" font-size="48.8" font-weight="bold">0</text>
<text x="120.4" y="2452.3" font-size="50.4" font-weight="bold">75:25</text>
<text x="387.9" y="2495.8" font-size="49.9" font-weight="bold">50:50</text>
<text x="601.9" y="2527.3" font-size="50.2" font-weight="bold">25:75</text>
<text x="849.7" y="2574.2" font-size="48.7" font-weight="bold">0:100</text>
<text x="284.1" y="2585.3" font-size="54.8" font-weight="bold">ACE-EtAc % (v/v)</text>
<text x="981.5" y="2535.1" font-size="50.3" font-weight="bold">200</text>
<text x="1099.5" y="2458.3" font-size="49.7" font-weight="bold">400</text>
<text x="1217.1" y="2378.1" font-size="50.3" font-weight="bold">600</text>
<text x="1333.5" y="2300.6" font-size="50.2" font-weight="bold">800</text>
<text x="1107.7" y="2536.2" font-size="55.3" font-weight="bold">[EE100] mg</text>
<text transform="matrix(0 -1 1 0 55.6 2450.4)" x="-0.7" y="40.8" font-size="57.0" font-weight="bold">Zeta potential (mV)</text>
</svg>
</body></html>
